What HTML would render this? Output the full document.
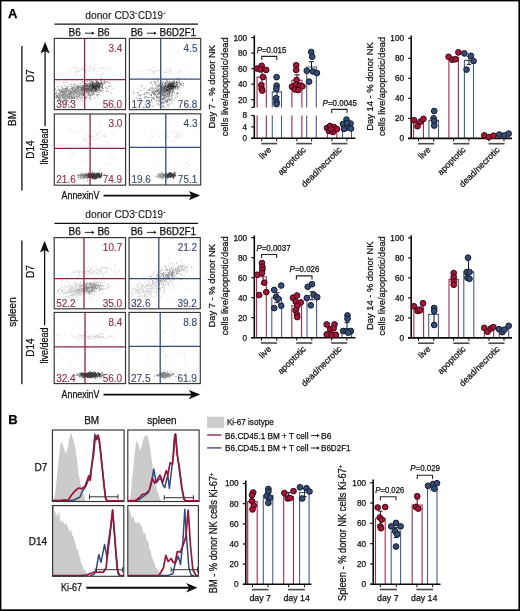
<!DOCTYPE html>
<html><head><meta charset="utf-8"><style>
html,body{margin:0;padding:0;background:#fff;}
svg{display:block;font-family:'Liberation Sans',sans-serif;will-change:transform;}
text{font-family:'Liberation Sans',sans-serif;}
</style></head><body>
<svg width="520" height="611" viewBox="0 0 520 611">
<rect x="0" y="0" width="520" height="611" fill="#fff"/>
<rect x="0" y="0" width="1.4" height="611" fill="#000" stroke="none" stroke-width="1"/>
<rect x="0" y="0" width="520" height="1.4" fill="#000" stroke="none" stroke-width="1"/>
<rect x="518.4" y="0" width="1.6" height="611" fill="#000" stroke="none" stroke-width="1"/>
<rect x="0" y="609.3" width="520" height="1.7" fill="#000" stroke="none" stroke-width="1"/>
<text x="8" y="18.1" font-size="13" text-anchor="start" fill="#000" stroke="#000" stroke-width="0.25" font-weight="bold">A</text>
<text x="8.3" y="423.6" font-size="13" text-anchor="start" fill="#000" stroke="#000" stroke-width="0.25" font-weight="bold">B</text>
<text x="85.2" y="18.5" font-size="10.2" text-anchor="start" fill="#111" stroke="#111" stroke-width="0.1" textLength="49.8" lengthAdjust="spacingAndGlyphs">donor CD3</text>
<text x="138" y="18.5" font-size="10.2" text-anchor="start" fill="#111" stroke="#111" stroke-width="0.1" textLength="25" lengthAdjust="spacingAndGlyphs">CD19</text>
<line x1="135.3" y1="13.3" x2="136.9" y2="13.3" stroke="#111" stroke-width="0.9"/>
<line x1="163.8" y1="13.3" x2="165.4" y2="13.3" stroke="#111" stroke-width="0.9"/>
<line x1="54.5" y1="24.2" x2="198" y2="24.2" stroke="#111" stroke-width="1.3"/>
<text x="68.6" y="36.0" font-size="10" text-anchor="start" fill="#111" stroke="#111" stroke-width="0.25">B6</text>
<line x1="84.8" y1="33.2" x2="93.5" y2="33.2" stroke="#111" stroke-width="0.9"/>
<path d="M94.4 33.2 l-2.6 -1.6 v3.2z" fill="#111" stroke="none" stroke-width="1" />
<text x="97.4" y="36.0" font-size="10" text-anchor="start" fill="#111" stroke="#111" stroke-width="0.25">B6</text>
<text x="130.7" y="36.0" font-size="10" text-anchor="start" fill="#111" stroke="#111" stroke-width="0.25">B6</text>
<line x1="146.9" y1="33.2" x2="155.6" y2="33.2" stroke="#111" stroke-width="0.9"/>
<path d="M156.5 33.2 l-2.6 -1.6 v3.2z" fill="#111" stroke="none" stroke-width="1" />
<text x="159.5" y="36.0" font-size="10" text-anchor="start" fill="#111" stroke="#111" stroke-width="0.25">B6D2F1</text>
<text x="85.2" y="217.7" font-size="10.2" text-anchor="start" fill="#111" stroke="#111" stroke-width="0.1" textLength="49.8" lengthAdjust="spacingAndGlyphs">donor CD3</text>
<text x="138" y="217.7" font-size="10.2" text-anchor="start" fill="#111" stroke="#111" stroke-width="0.1" textLength="25" lengthAdjust="spacingAndGlyphs">CD19</text>
<line x1="135.3" y1="212.5" x2="136.9" y2="212.5" stroke="#111" stroke-width="0.9"/>
<line x1="163.8" y1="212.5" x2="165.4" y2="212.5" stroke="#111" stroke-width="0.9"/>
<line x1="54.5" y1="223.39999999999998" x2="198" y2="223.39999999999998" stroke="#111" stroke-width="1.3"/>
<text x="68.6" y="235.2" font-size="10" text-anchor="start" fill="#111" stroke="#111" stroke-width="0.25">B6</text>
<line x1="84.8" y1="232.39999999999998" x2="93.5" y2="232.39999999999998" stroke="#111" stroke-width="0.9"/>
<path d="M94.4 232.39999999999998 l-2.6 -1.6 v3.2z" fill="#111" stroke="none" stroke-width="1" />
<text x="97.4" y="235.2" font-size="10" text-anchor="start" fill="#111" stroke="#111" stroke-width="0.25">B6</text>
<text x="130.7" y="235.2" font-size="10" text-anchor="start" fill="#111" stroke="#111" stroke-width="0.25">B6</text>
<line x1="146.9" y1="232.39999999999998" x2="155.6" y2="232.39999999999998" stroke="#111" stroke-width="0.9"/>
<path d="M156.5 232.39999999999998 l-2.6 -1.6 v3.2z" fill="#111" stroke="none" stroke-width="1" />
<text x="159.5" y="235.2" font-size="10" text-anchor="start" fill="#111" stroke="#111" stroke-width="0.25">B6D2F1</text>
<text x="16.2" y="118.4" font-size="10" text-anchor="middle" fill="#111" stroke="#111" stroke-width="0.25" transform="rotate(-90 16.2 118.4)">BM</text>
<line x1="21.9" y1="45.9" x2="21.9" y2="190.5" stroke="#111" stroke-width="1.3"/>
<text x="34.1" y="75.7" font-size="10" text-anchor="middle" fill="#111" stroke="#111" stroke-width="0.25" transform="rotate(-90 34.1 75.7)">D7</text>
<text x="34.1" y="149.6" font-size="10" text-anchor="middle" fill="#111" stroke="#111" stroke-width="0.25" transform="rotate(-90 34.1 149.6)">D14</text>
<line x1="45.1" y1="51" x2="45.1" y2="126.2" stroke="#111" stroke-width="1.3"/>
<path d="M45.1 41.8 L40.5 53.6 L45.1 51 L49.7 53.6 Z" fill="#111" stroke="none" stroke-width="1" />
<text x="48.5" y="146.6" font-size="10" text-anchor="middle" fill="#111" stroke="#111" stroke-width="0.25" transform="rotate(-90 48.5 146.6)" textLength="36" lengthAdjust="spacingAndGlyphs">live/dead</text>
<text x="61.6" y="198.9" font-size="10" text-anchor="start" fill="#111" stroke="#111" stroke-width="0.25" textLength="37.8" lengthAdjust="spacingAndGlyphs">AnnexinV</text>
<line x1="103.5" y1="195.6" x2="193" y2="195.6" stroke="#0a0a0a" stroke-width="1.6"/>
<path d="M200.2 195.6 L188.8 191.0 L191.6 195.6 L188.8 200.2 Z" fill="#0a0a0a" stroke="none" stroke-width="1" />
<text x="16.2" y="312" font-size="10" text-anchor="middle" fill="#111" stroke="#111" stroke-width="0.25" transform="rotate(-90 16.2 312)">spleen</text>
<line x1="21.9" y1="240.6" x2="21.9" y2="384.3" stroke="#111" stroke-width="1.3"/>
<text x="34.1" y="271.6" font-size="10" text-anchor="middle" fill="#111" stroke="#111" stroke-width="0.25" transform="rotate(-90 34.1 271.6)">D7</text>
<text x="34.1" y="347.6" font-size="10" text-anchor="middle" fill="#111" stroke="#111" stroke-width="0.25" transform="rotate(-90 34.1 347.6)">D14</text>
<line x1="44.6" y1="250" x2="44.6" y2="325.2" stroke="#111" stroke-width="1.3"/>
<path d="M44.6 240.8 L40.0 252.6 L44.6 250 L49.2 252.6 Z" fill="#111" stroke="none" stroke-width="1" />
<text x="48.0" y="345.6" font-size="10" text-anchor="middle" fill="#111" stroke="#111" stroke-width="0.25" transform="rotate(-90 48.0 345.6)" textLength="36" lengthAdjust="spacingAndGlyphs">live/dead</text>
<text x="61.6" y="397.9" font-size="10" text-anchor="start" fill="#111" stroke="#111" stroke-width="0.25" textLength="37.8" lengthAdjust="spacingAndGlyphs">AnnexinV</text>
<line x1="103.5" y1="394.6" x2="193" y2="394.6" stroke="#0a0a0a" stroke-width="1.6"/>
<path d="M200.2 394.6 L188.8 390.0 L191.6 394.6 L188.8 399.2 Z" fill="#0a0a0a" stroke="none" stroke-width="1" />
<path d="M92.9 86.1h.9v.9h-.9zM95.1 87.6h.9v.9h-.9zM91.4 86.8h.9v.9h-.9zM87.1 85.2h.9v.9h-.9zM90.3 86.9h.9v.9h-.9zM87.3 88.2h.9v.9h-.9zM94.0 88.8h.9v.9h-.9zM100.2 82.1h.9v.9h-.9zM90.1 87.2h.9v.9h-.9zM88.2 83.1h.9v.9h-.9zM96.3 87.4h.9v.9h-.9zM94.3 83.2h.9v.9h-.9zM92.4 81.8h.9v.9h-.9zM87.6 87.8h.9v.9h-.9zM93.6 89.3h.9v.9h-.9zM96.0 81.6h.9v.9h-.9zM84.5 85.9h.9v.9h-.9zM89.8 85.3h.9v.9h-.9zM81.2 86.6h.9v.9h-.9zM85.8 89.5h.9v.9h-.9zM81.8 87.3h.9v.9h-.9zM91.2 85.1h.9v.9h-.9zM86.0 89.9h.9v.9h-.9zM94.1 84.2h.9v.9h-.9zM94.2 87.3h.9v.9h-.9zM91.3 84.4h.9v.9h-.9zM77.6 87.4h.9v.9h-.9zM88.6 82.7h.9v.9h-.9zM94.0 91.2h.9v.9h-.9zM93.4 85.5h.9v.9h-.9zM84.3 89.5h.9v.9h-.9zM90.2 87.2h.9v.9h-.9zM87.4 88.4h.9v.9h-.9zM88.3 87.9h.9v.9h-.9zM100.4 89.6h.9v.9h-.9zM87.6 85.1h.9v.9h-.9zM91.8 82.6h.9v.9h-.9zM97.4 82.6h.9v.9h-.9zM88.7 84.1h.9v.9h-.9zM92.9 88.5h.9v.9h-.9zM94.2 88.4h.9v.9h-.9zM92.7 84.0h.9v.9h-.9zM85.0 84.9h.9v.9h-.9zM93.2 85.5h.9v.9h-.9zM101.8 87.9h.9v.9h-.9zM82.1 81.8h.9v.9h-.9zM98.3 86.5h.9v.9h-.9zM93.0 83.6h.9v.9h-.9zM90.0 90.1h.9v.9h-.9zM103.9 80.7h.9v.9h-.9zM97.2 84.6h.9v.9h-.9zM85.0 84.6h.9v.9h-.9zM92.8 83.9h.9v.9h-.9zM97.3 89.1h.9v.9h-.9zM92.5 88.9h.9v.9h-.9zM96.7 84.4h.9v.9h-.9zM92.0 84.4h.9v.9h-.9zM95.6 80.7h.9v.9h-.9zM101.1 83.3h.9v.9h-.9zM89.1 87.5h.9v.9h-.9zM94.1 86.0h.9v.9h-.9zM90.3 87.0h.9v.9h-.9zM93.0 83.5h.9v.9h-.9zM86.1 88.2h.9v.9h-.9zM89.6 87.3h.9v.9h-.9zM92.7 90.0h.9v.9h-.9zM99.5 89.8h.9v.9h-.9zM99.5 84.4h.9v.9h-.9zM84.8 86.6h.9v.9h-.9zM88.4 87.6h.9v.9h-.9zM96.3 84.0h.9v.9h-.9zM81.0 87.7h.9v.9h-.9zM90.3 87.1h.9v.9h-.9zM91.7 84.0h.9v.9h-.9zM100.7 86.1h.9v.9h-.9zM96.9 85.2h.9v.9h-.9zM91.3 87.6h.9v.9h-.9zM90.7 86.6h.9v.9h-.9zM91.1 85.1h.9v.9h-.9zM101.2 81.8h.9v.9h-.9zM90.4 86.6h.9v.9h-.9zM90.9 85.6h.9v.9h-.9zM95.2 86.5h.9v.9h-.9zM92.3 86.7h.9v.9h-.9zM90.9 83.4h.9v.9h-.9zM86.6 88.4h.9v.9h-.9zM92.0 83.1h.9v.9h-.9zM90.0 85.6h.9v.9h-.9zM99.6 83.9h.9v.9h-.9zM95.4 80.3h.9v.9h-.9zM92.9 86.8h.9v.9h-.9zM97.0 85.8h.9v.9h-.9zM90.9 86.6h.9v.9h-.9zM98.8 83.8h.9v.9h-.9zM92.7 85.6h.9v.9h-.9zM95.7 83.1h.9v.9h-.9zM85.3 87.8h.9v.9h-.9zM94.6 84.6h.9v.9h-.9zM83.3 89.4h.9v.9h-.9zM80.4 86.6h.9v.9h-.9zM91.4 87.6h.9v.9h-.9zM87.9 88.3h.9v.9h-.9zM93.9 85.9h.9v.9h-.9zM105.7 81.9h.9v.9h-.9zM88.6 89.2h.9v.9h-.9zM88.3 83.3h.9v.9h-.9zM94.5 87.3h.9v.9h-.9zM96.0 86.3h.9v.9h-.9zM92.2 87.5h.9v.9h-.9zM92.1 87.8h.9v.9h-.9zM96.6 83.8h.9v.9h-.9zM95.8 85.0h.9v.9h-.9zM87.4 89.7h.9v.9h-.9zM92.8 87.7h.9v.9h-.9zM93.3 87.0h.9v.9h-.9zM85.9 84.3h.9v.9h-.9zM94.9 87.4h.9v.9h-.9zM88.8 90.8h.9v.9h-.9zM99.3 87.5h.9v.9h-.9zM94.3 86.8h.9v.9h-.9zM92.5 82.4h.9v.9h-.9zM90.2 89.8h.9v.9h-.9zM92.2 86.3h.9v.9h-.9zM79.7 83.2h.9v.9h-.9zM86.7 89.2h.9v.9h-.9zM94.1 82.2h.9v.9h-.9zM79.8 86.5h.9v.9h-.9zM97.5 83.6h.9v.9h-.9zM83.7 92.4h.9v.9h-.9zM97.1 84.4h.9v.9h-.9zM88.3 88.5h.9v.9h-.9zM98.7 89.7h.9v.9h-.9zM94.8 90.3h.9v.9h-.9zM84.0 88.6h.9v.9h-.9zM100.1 84.0h.9v.9h-.9zM100.5 81.1h.9v.9h-.9zM92.2 84.9h.9v.9h-.9zM91.7 88.0h.9v.9h-.9zM92.3 87.7h.9v.9h-.9zM87.4 88.3h.9v.9h-.9zM100.0 87.3h.9v.9h-.9zM89.3 85.4h.9v.9h-.9zM92.7 86.4h.9v.9h-.9zM88.9 89.6h.9v.9h-.9zM89.8 88.9h.9v.9h-.9zM86.3 91.2h.9v.9h-.9zM100.6 85.5h.9v.9h-.9zM91.9 86.0h.9v.9h-.9zM98.8 85.9h.9v.9h-.9zM92.4 84.0h.9v.9h-.9zM87.9 83.5h.9v.9h-.9zM91.5 88.5h.9v.9h-.9zM89.7 87.2h.9v.9h-.9zM93.3 87.3h.9v.9h-.9zM89.7 82.8h.9v.9h-.9zM91.0 86.0h.9v.9h-.9zM84.6 87.1h.9v.9h-.9zM87.7 85.6h.9v.9h-.9zM101.1 78.3h.9v.9h-.9zM88.9 86.7h.9v.9h-.9zM87.5 90.4h.9v.9h-.9zM95.2 86.9h.9v.9h-.9zM100.8 82.8h.9v.9h-.9zM84.6 88.7h.9v.9h-.9zM92.3 88.7h.9v.9h-.9zM87.5 80.5h.9v.9h-.9zM82.7 88.9h.9v.9h-.9zM97.6 86.7h.9v.9h-.9zM93.3 88.2h.9v.9h-.9zM94.6 90.7h.9v.9h-.9zM89.4 90.5h.9v.9h-.9zM95.8 86.6h.9v.9h-.9zM90.1 88.1h.9v.9h-.9zM92.7 88.7h.9v.9h-.9zM86.2 86.9h.9v.9h-.9zM85.9 88.3h.9v.9h-.9zM101.3 86.7h.9v.9h-.9zM91.4 92.2h.9v.9h-.9zM94.6 85.6h.9v.9h-.9zM92.8 86.4h.9v.9h-.9zM90.6 87.7h.9v.9h-.9zM91.0 90.7h.9v.9h-.9zM96.6 85.4h.9v.9h-.9zM92.2 90.7h.9v.9h-.9zM91.5 84.3h.9v.9h-.9zM93.0 86.0h.9v.9h-.9zM99.7 84.2h.9v.9h-.9zM97.5 87.4h.9v.9h-.9zM95.9 88.5h.9v.9h-.9zM88.7 83.6h.9v.9h-.9zM84.4 86.3h.9v.9h-.9zM98.7 85.9h.9v.9h-.9zM98.2 83.3h.9v.9h-.9zM91.2 82.9h.9v.9h-.9zM96.8 88.3h.9v.9h-.9zM97.9 86.5h.9v.9h-.9zM98.1 86.4h.9v.9h-.9zM98.0 83.9h.9v.9h-.9zM91.1 89.8h.9v.9h-.9zM101.6 83.5h.9v.9h-.9zM86.5 91.2h.9v.9h-.9zM97.4 82.9h.9v.9h-.9zM95.3 83.6h.9v.9h-.9zM98.2 85.7h.9v.9h-.9zM103.4 81.8h.9v.9h-.9zM102.1 85.9h.9v.9h-.9zM86.5 88.9h.9v.9h-.9zM82.6 86.8h.9v.9h-.9zM97.8 85.4h.9v.9h-.9zM86.9 87.2h.9v.9h-.9zM93.5 88.8h.9v.9h-.9zM97.4 83.6h.9v.9h-.9zM83.2 87.9h.9v.9h-.9zM81.6 92.8h.9v.9h-.9zM96.0 91.7h.9v.9h-.9zM94.6 91.5h.9v.9h-.9zM91.6 87.0h.9v.9h-.9zM93.4 87.0h.9v.9h-.9zM89.0 91.7h.9v.9h-.9zM84.1 88.5h.9v.9h-.9zM91.4 84.3h.9v.9h-.9zM87.4 88.3h.9v.9h-.9zM83.8 90.2h.9v.9h-.9zM95.4 83.6h.9v.9h-.9zM91.5 82.5h.9v.9h-.9zM94.4 82.3h.9v.9h-.9zM87.7 89.7h.9v.9h-.9zM88.7 85.6h.9v.9h-.9zM87.1 87.7h.9v.9h-.9zM88.0 88.4h.9v.9h-.9zM94.5 87.8h.9v.9h-.9zM88.2 86.9h.9v.9h-.9zM95.4 87.2h.9v.9h-.9zM94.4 83.7h.9v.9h-.9zM104.5 82.4h.9v.9h-.9zM84.2 86.1h.9v.9h-.9zM98.9 88.0h.9v.9h-.9zM92.5 86.6h.9v.9h-.9zM92.4 84.7h.9v.9h-.9zM84.4 87.9h.9v.9h-.9zM90.2 86.7h.9v.9h-.9zM97.8 87.1h.9v.9h-.9zM91.4 82.6h.9v.9h-.9zM92.8 83.8h.9v.9h-.9zM91.1 86.0h.9v.9h-.9zM101.4 91.1h.9v.9h-.9zM93.5 88.9h.9v.9h-.9zM80.2 89.6h.9v.9h-.9zM89.5 89.4h.9v.9h-.9zM83.0 94.7h.9v.9h-.9zM74.0 91.0h.9v.9h-.9zM89.7 86.4h.9v.9h-.9zM101.5 87.5h.9v.9h-.9zM93.6 87.7h.9v.9h-.9zM86.7 90.0h.9v.9h-.9zM87.2 86.7h.9v.9h-.9zM100.8 89.6h.9v.9h-.9zM95.1 90.5h.9v.9h-.9zM93.7 87.8h.9v.9h-.9zM93.2 88.3h.9v.9h-.9zM91.9 81.3h.9v.9h-.9zM98.1 86.9h.9v.9h-.9zM96.1 85.2h.9v.9h-.9zM94.5 87.3h.9v.9h-.9zM87.4 89.8h.9v.9h-.9zM95.7 84.8h.9v.9h-.9zM87.9 83.3h.9v.9h-.9zM99.6 85.7h.9v.9h-.9zM85.1 86.6h.9v.9h-.9zM92.0 85.9h.9v.9h-.9zM92.6 85.0h.9v.9h-.9zM85.1 87.7h.9v.9h-.9zM101.4 78.0h.9v.9h-.9zM102.3 87.3h.9v.9h-.9zM90.5 87.9h.9v.9h-.9zM98.2 88.1h.9v.9h-.9zM96.5 90.9h.9v.9h-.9zM77.9 90.6h.9v.9h-.9zM93.2 81.6h.9v.9h-.9zM92.0 84.4h.9v.9h-.9zM92.7 83.3h.9v.9h-.9zM86.4 86.9h.9v.9h-.9zM91.5 87.1h.9v.9h-.9zM90.6 81.7h.9v.9h-.9zM100.1 85.5h.9v.9h-.9zM93.9 82.2h.9v.9h-.9zM93.2 87.3h.9v.9h-.9zM101.8 83.9h.9v.9h-.9zM89.6 86.6h.9v.9h-.9zM90.7 86.9h.9v.9h-.9zM82.1 88.0h.9v.9h-.9zM101.7 82.5h.9v.9h-.9zM97.5 80.8h.9v.9h-.9zM98.3 85.0h.9v.9h-.9zM98.1 90.1h.9v.9h-.9zM95.0 91.3h.9v.9h-.9zM95.1 89.5h.9v.9h-.9zM92.0 88.7h.9v.9h-.9zM91.4 85.1h.9v.9h-.9zM94.3 90.0h.9v.9h-.9zM101.7 84.0h.9v.9h-.9zM96.2 85.5h.9v.9h-.9zM92.5 85.9h.9v.9h-.9zM89.7 87.6h.9v.9h-.9zM89.0 86.4h.9v.9h-.9zM102.2 83.8h.9v.9h-.9zM95.2 83.0h.9v.9h-.9zM93.1 85.5h.9v.9h-.9zM92.5 92.8h.9v.9h-.9zM86.5 88.0h.9v.9h-.9zM92.5 86.0h.9v.9h-.9zM98.4 86.5h.9v.9h-.9zM91.2 88.9h.9v.9h-.9zM90.9 84.1h.9v.9h-.9zM91.6 86.3h.9v.9h-.9zM94.3 88.6h.9v.9h-.9zM83.9 89.7h.9v.9h-.9zM91.7 87.2h.9v.9h-.9zM89.1 91.7h.9v.9h-.9zM97.7 83.4h.9v.9h-.9zM88.6 87.9h.9v.9h-.9zM96.0 84.3h.9v.9h-.9zM102.8 87.9h.9v.9h-.9zM89.9 82.1h.9v.9h-.9zM89.1 85.8h.9v.9h-.9zM93.8 84.9h.9v.9h-.9zM93.4 88.2h.9v.9h-.9zM87.6 89.6h.9v.9h-.9zM96.6 89.3h.9v.9h-.9zM103.6 79.4h.9v.9h-.9zM92.0 88.8h.9v.9h-.9zM91.6 86.1h.9v.9h-.9zM86.5 86.5h.9v.9h-.9zM95.2 87.4h.9v.9h-.9zM85.2 86.1h.9v.9h-.9zM85.2 83.0h.9v.9h-.9zM100.2 83.6h.9v.9h-.9zM86.7 84.1h.9v.9h-.9zM98.8 83.2h.9v.9h-.9zM102.1 85.1h.9v.9h-.9zM94.7 86.9h.9v.9h-.9zM97.3 89.6h.9v.9h-.9zM104.2 83.0h.9v.9h-.9zM90.8 83.0h.9v.9h-.9zM89.1 85.5h.9v.9h-.9zM84.5 86.3h.9v.9h-.9zM92.4 83.4h.9v.9h-.9zM101.9 85.3h.9v.9h-.9zM98.1 83.4h.9v.9h-.9zM86.2 83.0h.9v.9h-.9zM88.5 89.6h.9v.9h-.9zM90.0 87.0h.9v.9h-.9zM94.9 86.9h.9v.9h-.9zM91.9 87.1h.9v.9h-.9zM94.7 87.8h.9v.9h-.9zM94.7 86.1h.9v.9h-.9zM92.1 90.1h.9v.9h-.9zM93.1 87.6h.9v.9h-.9zM94.5 87.2h.9v.9h-.9zM92.8 87.7h.9v.9h-.9zM94.9 82.1h.9v.9h-.9zM103.7 83.2h.9v.9h-.9zM96.3 84.9h.9v.9h-.9zM93.5 86.9h.9v.9h-.9zM82.3 85.7h.9v.9h-.9zM96.3 90.0h.9v.9h-.9zM81.8 89.8h.9v.9h-.9zM84.0 85.6h.9v.9h-.9zM96.8 80.9h.9v.9h-.9zM96.9 84.7h.9v.9h-.9zM92.1 86.5h.9v.9h-.9zM82.6 87.4h.9v.9h-.9zM90.9 87.3h.9v.9h-.9zM88.6 85.9h.9v.9h-.9zM97.1 86.9h.9v.9h-.9zM105.6 81.2h.9v.9h-.9zM94.2 86.1h.9v.9h-.9zM89.1 90.2h.9v.9h-.9zM87.9 94.8h.9v.9h-.9zM92.0 84.1h.9v.9h-.9zM91.7 85.6h.9v.9h-.9zM85.8 86.2h.9v.9h-.9zM94.2 88.3h.9v.9h-.9zM85.6 85.4h.9v.9h-.9zM99.1 83.6h.9v.9h-.9zM99.1 84.8h.9v.9h-.9zM98.6 82.4h.9v.9h-.9zM89.6 84.8h.9v.9h-.9zM95.7 84.5h.9v.9h-.9zM90.8 81.4h.9v.9h-.9zM89.8 83.5h.9v.9h-.9zM90.8 86.0h.9v.9h-.9zM85.6 88.9h.9v.9h-.9zM84.5 88.3h.9v.9h-.9zM96.4 80.8h.9v.9h-.9zM91.6 85.6h.9v.9h-.9zM94.8 88.2h.9v.9h-.9zM99.2 86.3h.9v.9h-.9zM82.9 89.0h.9v.9h-.9zM87.9 85.5h.9v.9h-.9zM94.4 87.8h.9v.9h-.9zM94.9 84.4h.9v.9h-.9zM90.0 84.1h.9v.9h-.9zM98.4 82.9h.9v.9h-.9zM95.2 89.8h.9v.9h-.9zM86.1 88.9h.9v.9h-.9zM88.4 90.9h.9v.9h-.9zM97.3 84.0h.9v.9h-.9zM96.3 88.1h.9v.9h-.9zM81.6 87.9h.9v.9h-.9zM100.7 84.0h.9v.9h-.9zM98.1 91.8h.9v.9h-.9zM101.3 86.3h.9v.9h-.9zM90.4 85.8h.9v.9h-.9zM91.2 86.7h.9v.9h-.9zM86.7 89.1h.9v.9h-.9zM108.5 85.6h.9v.9h-.9zM91.7 85.5h.9v.9h-.9zM101.0 79.7h.9v.9h-.9zM89.1 86.8h.9v.9h-.9zM94.0 86.3h.9v.9h-.9zM83.4 89.4h.9v.9h-.9zM91.7 90.4h.9v.9h-.9zM98.9 85.8h.9v.9h-.9zM86.3 90.5h.9v.9h-.9zM98.5 82.1h.9v.9h-.9zM95.5 88.2h.9v.9h-.9zM88.4 93.4h.9v.9h-.9zM90.6 89.2h.9v.9h-.9zM90.5 87.8h.9v.9h-.9zM92.8 87.0h.9v.9h-.9zM91.1 91.8h.9v.9h-.9zM87.6 85.5h.9v.9h-.9zM91.2 86.7h.9v.9h-.9zM87.4 89.3h.9v.9h-.9zM86.0 90.4h.9v.9h-.9zM92.4 85.5h.9v.9h-.9zM98.3 85.9h.9v.9h-.9zM83.9 88.2h.9v.9h-.9zM93.1 86.8h.9v.9h-.9zM89.1 87.2h.9v.9h-.9zM86.6 85.2h.9v.9h-.9zM97.9 85.1h.9v.9h-.9zM90.6 89.5h.9v.9h-.9zM101.0 81.7h.9v.9h-.9zM88.3 87.1h.9v.9h-.9zM95.7 87.6h.9v.9h-.9zM91.0 84.2h.9v.9h-.9zM88.8 88.1h.9v.9h-.9zM95.7 82.9h.9v.9h-.9z" fill="rgba(40,40,40,0.55)"/>
<path d="M92.8 91.5h.9v.9h-.9zM105.0 86.2h.9v.9h-.9zM100.1 76.7h.9v.9h-.9zM77.6 91.4h.9v.9h-.9zM87.3 85.3h.9v.9h-.9zM81.0 89.0h.9v.9h-.9zM82.2 97.0h.9v.9h-.9zM96.0 83.5h.9v.9h-.9zM65.0 89.2h.9v.9h-.9zM92.5 94.8h.9v.9h-.9zM79.6 91.6h.9v.9h-.9zM96.4 94.6h.9v.9h-.9zM82.3 92.0h.9v.9h-.9zM72.1 88.7h.9v.9h-.9zM83.0 90.2h.9v.9h-.9zM88.9 94.6h.9v.9h-.9zM81.1 94.7h.9v.9h-.9zM85.3 90.1h.9v.9h-.9zM74.4 92.2h.9v.9h-.9zM56.8 94.6h.9v.9h-.9zM89.3 86.9h.9v.9h-.9zM89.0 97.5h.9v.9h-.9zM81.6 90.7h.9v.9h-.9zM79.9 86.3h.9v.9h-.9zM90.9 87.1h.9v.9h-.9zM75.6 94.8h.9v.9h-.9zM72.8 94.9h.9v.9h-.9zM77.9 90.8h.9v.9h-.9zM92.4 86.0h.9v.9h-.9zM65.0 93.7h.9v.9h-.9zM91.7 81.9h.9v.9h-.9zM72.1 86.9h.9v.9h-.9zM68.6 96.3h.9v.9h-.9zM93.3 86.7h.9v.9h-.9zM79.2 92.7h.9v.9h-.9zM66.8 98.4h.9v.9h-.9zM76.6 94.3h.9v.9h-.9zM90.1 89.3h.9v.9h-.9zM94.4 97.3h.9v.9h-.9zM75.9 94.5h.9v.9h-.9zM84.1 88.8h.9v.9h-.9zM88.3 92.6h.9v.9h-.9zM73.3 93.9h.9v.9h-.9zM83.2 86.9h.9v.9h-.9zM79.7 91.4h.9v.9h-.9zM74.1 91.4h.9v.9h-.9zM73.3 84.0h.9v.9h-.9zM80.6 90.2h.9v.9h-.9zM80.1 89.8h.9v.9h-.9zM73.6 90.3h.9v.9h-.9zM74.2 85.2h.9v.9h-.9zM91.8 87.4h.9v.9h-.9zM82.3 90.4h.9v.9h-.9zM89.7 89.7h.9v.9h-.9zM92.2 84.1h.9v.9h-.9zM86.8 92.4h.9v.9h-.9zM103.7 81.7h.9v.9h-.9zM70.9 91.7h.9v.9h-.9zM89.7 94.7h.9v.9h-.9zM76.1 88.8h.9v.9h-.9zM99.7 85.4h.9v.9h-.9zM99.2 92.1h.9v.9h-.9zM58.6 93.2h.9v.9h-.9zM69.3 91.6h.9v.9h-.9zM87.4 90.6h.9v.9h-.9zM89.3 93.7h.9v.9h-.9zM86.4 80.7h.9v.9h-.9zM78.6 87.8h.9v.9h-.9zM84.2 86.1h.9v.9h-.9zM86.3 85.4h.9v.9h-.9zM78.5 87.7h.9v.9h-.9zM90.5 85.6h.9v.9h-.9zM55.7 96.5h.9v.9h-.9zM86.2 86.2h.9v.9h-.9zM68.9 93.5h.9v.9h-.9zM90.7 90.8h.9v.9h-.9zM77.0 88.5h.9v.9h-.9zM70.5 93.2h.9v.9h-.9zM85.2 96.9h.9v.9h-.9zM70.4 94.0h.9v.9h-.9zM69.7 90.2h.9v.9h-.9zM63.0 93.7h.9v.9h-.9zM79.1 87.4h.9v.9h-.9zM85.6 91.1h.9v.9h-.9zM91.7 92.5h.9v.9h-.9zM77.9 88.0h.9v.9h-.9zM91.2 88.2h.9v.9h-.9zM81.0 95.4h.9v.9h-.9zM78.6 89.2h.9v.9h-.9zM86.3 90.7h.9v.9h-.9zM90.7 84.9h.9v.9h-.9zM75.7 88.4h.9v.9h-.9zM77.0 89.4h.9v.9h-.9zM79.8 99.9h.9v.9h-.9zM80.6 89.2h.9v.9h-.9zM69.9 90.6h.9v.9h-.9zM90.7 86.8h.9v.9h-.9zM75.5 91.1h.9v.9h-.9zM85.5 92.7h.9v.9h-.9zM71.2 93.3h.9v.9h-.9zM85.3 98.4h.9v.9h-.9zM84.4 91.1h.9v.9h-.9zM76.4 97.5h.9v.9h-.9zM102.1 88.2h.9v.9h-.9zM84.4 92.7h.9v.9h-.9zM98.2 81.9h.9v.9h-.9zM90.3 88.7h.9v.9h-.9zM72.8 92.0h.9v.9h-.9zM75.7 90.8h.9v.9h-.9zM83.2 81.7h.9v.9h-.9zM81.3 94.4h.9v.9h-.9zM80.3 89.4h.9v.9h-.9zM76.6 89.8h.9v.9h-.9zM60.2 93.4h.9v.9h-.9zM77.4 90.5h.9v.9h-.9zM56.3 96.8h.9v.9h-.9zM83.1 85.3h.9v.9h-.9zM71.5 88.7h.9v.9h-.9zM72.5 93.5h.9v.9h-.9zM77.7 92.0h.9v.9h-.9zM82.7 89.0h.9v.9h-.9zM64.1 91.5h.9v.9h-.9zM60.5 91.1h.9v.9h-.9zM68.4 92.8h.9v.9h-.9zM58.7 99.6h.9v.9h-.9zM68.8 88.7h.9v.9h-.9zM98.3 94.0h.9v.9h-.9zM69.1 96.3h.9v.9h-.9zM86.7 88.0h.9v.9h-.9zM65.7 96.7h.9v.9h-.9zM82.2 84.7h.9v.9h-.9zM75.3 84.8h.9v.9h-.9zM78.5 86.0h.9v.9h-.9zM85.9 88.3h.9v.9h-.9zM98.8 86.4h.9v.9h-.9zM81.8 88.6h.9v.9h-.9zM81.4 91.2h.9v.9h-.9zM68.0 84.4h.9v.9h-.9zM86.7 91.8h.9v.9h-.9zM76.3 85.9h.9v.9h-.9zM88.6 86.8h.9v.9h-.9zM79.2 89.5h.9v.9h-.9zM98.1 83.1h.9v.9h-.9zM57.6 89.4h.9v.9h-.9zM76.1 87.6h.9v.9h-.9zM89.5 89.3h.9v.9h-.9zM76.6 94.0h.9v.9h-.9zM71.8 94.7h.9v.9h-.9zM76.4 87.6h.9v.9h-.9zM64.5 90.5h.9v.9h-.9zM80.6 87.1h.9v.9h-.9zM106.7 88.1h.9v.9h-.9zM91.0 80.8h.9v.9h-.9zM68.8 98.0h.9v.9h-.9zM70.2 90.8h.9v.9h-.9zM75.1 88.7h.9v.9h-.9zM91.1 90.4h.9v.9h-.9zM71.8 96.6h.9v.9h-.9zM72.8 93.7h.9v.9h-.9zM90.3 93.5h.9v.9h-.9zM89.5 89.9h.9v.9h-.9zM76.8 96.6h.9v.9h-.9zM68.8 98.0h.9v.9h-.9zM63.1 93.6h.9v.9h-.9zM73.4 98.0h.9v.9h-.9zM56.0 95.9h.9v.9h-.9zM88.2 89.9h.9v.9h-.9zM72.5 88.6h.9v.9h-.9zM85.0 88.9h.9v.9h-.9zM100.8 90.5h.9v.9h-.9zM91.8 83.6h.9v.9h-.9zM68.0 95.8h.9v.9h-.9zM89.7 90.7h.9v.9h-.9zM92.7 89.9h.9v.9h-.9zM70.4 83.7h.9v.9h-.9zM69.6 92.4h.9v.9h-.9zM79.3 93.8h.9v.9h-.9zM62.1 91.1h.9v.9h-.9zM96.0 88.5h.9v.9h-.9zM68.5 95.8h.9v.9h-.9zM76.6 88.9h.9v.9h-.9zM78.1 94.9h.9v.9h-.9zM80.5 83.4h.9v.9h-.9zM83.4 93.2h.9v.9h-.9zM77.5 90.5h.9v.9h-.9zM92.9 92.0h.9v.9h-.9zM56.2 91.4h.9v.9h-.9zM79.6 88.6h.9v.9h-.9zM73.8 101.2h.9v.9h-.9zM80.9 87.5h.9v.9h-.9zM81.9 87.8h.9v.9h-.9zM69.9 91.7h.9v.9h-.9zM72.3 88.2h.9v.9h-.9zM89.4 94.2h.9v.9h-.9zM85.0 97.1h.9v.9h-.9zM72.1 89.5h.9v.9h-.9zM100.9 80.3h.9v.9h-.9zM105.8 91.2h.9v.9h-.9zM64.9 98.2h.9v.9h-.9zM83.8 93.7h.9v.9h-.9zM108.0 90.8h.9v.9h-.9zM87.9 86.1h.9v.9h-.9zM82.3 89.9h.9v.9h-.9zM76.8 85.9h.9v.9h-.9zM73.2 86.4h.9v.9h-.9zM78.4 95.3h.9v.9h-.9zM73.6 89.4h.9v.9h-.9zM89.7 98.6h.9v.9h-.9zM75.7 92.1h.9v.9h-.9zM74.8 89.3h.9v.9h-.9zM67.5 96.4h.9v.9h-.9zM80.7 98.2h.9v.9h-.9zM70.7 94.6h.9v.9h-.9zM77.2 86.6h.9v.9h-.9zM91.5 90.5h.9v.9h-.9zM84.9 95.7h.9v.9h-.9zM85.1 88.1h.9v.9h-.9zM83.3 87.3h.9v.9h-.9zM81.3 94.9h.9v.9h-.9zM78.7 91.8h.9v.9h-.9zM75.9 87.2h.9v.9h-.9zM88.0 88.1h.9v.9h-.9zM67.7 90.1h.9v.9h-.9zM94.7 89.6h.9v.9h-.9zM80.4 91.4h.9v.9h-.9zM72.7 97.0h.9v.9h-.9zM75.2 94.7h.9v.9h-.9zM71.6 86.1h.9v.9h-.9zM82.0 92.3h.9v.9h-.9zM72.8 95.9h.9v.9h-.9zM92.7 90.6h.9v.9h-.9zM72.2 96.6h.9v.9h-.9zM55.0 93.2h.9v.9h-.9zM71.4 88.7h.9v.9h-.9zM58.9 98.5h.9v.9h-.9zM78.8 86.9h.9v.9h-.9zM90.0 80.5h.9v.9h-.9zM87.7 93.8h.9v.9h-.9zM65.0 90.7h.9v.9h-.9zM71.5 91.3h.9v.9h-.9zM98.3 82.1h.9v.9h-.9zM82.5 85.2h.9v.9h-.9zM79.2 86.4h.9v.9h-.9zM91.2 87.6h.9v.9h-.9zM106.8 87.8h.9v.9h-.9zM92.4 79.5h.9v.9h-.9zM82.0 93.7h.9v.9h-.9zM83.0 85.7h.9v.9h-.9zM85.9 85.6h.9v.9h-.9zM73.8 94.8h.9v.9h-.9zM68.5 92.7h.9v.9h-.9zM79.5 84.8h.9v.9h-.9zM71.0 100.1h.9v.9h-.9zM78.7 87.7h.9v.9h-.9zM81.2 91.8h.9v.9h-.9zM105.5 87.3h.9v.9h-.9zM71.8 98.2h.9v.9h-.9zM78.4 89.4h.9v.9h-.9zM78.9 95.3h.9v.9h-.9zM84.2 87.2h.9v.9h-.9zM92.1 93.4h.9v.9h-.9zM74.2 88.9h.9v.9h-.9zM70.9 91.1h.9v.9h-.9zM63.5 101.6h.9v.9h-.9zM70.2 94.0h.9v.9h-.9zM85.9 90.4h.9v.9h-.9zM82.1 99.7h.9v.9h-.9zM69.3 94.4h.9v.9h-.9zM75.4 88.5h.9v.9h-.9zM80.9 93.8h.9v.9h-.9zM84.6 85.4h.9v.9h-.9zM74.4 96.6h.9v.9h-.9zM78.1 96.2h.9v.9h-.9zM59.9 92.2h.9v.9h-.9zM67.1 90.7h.9v.9h-.9zM97.6 88.6h.9v.9h-.9zM56.3 95.2h.9v.9h-.9zM75.7 87.8h.9v.9h-.9zM82.8 92.8h.9v.9h-.9zM74.5 83.7h.9v.9h-.9zM70.9 90.8h.9v.9h-.9zM79.1 89.5h.9v.9h-.9zM79.8 89.9h.9v.9h-.9zM79.3 92.4h.9v.9h-.9zM58.8 89.7h.9v.9h-.9zM78.8 93.6h.9v.9h-.9zM70.6 91.9h.9v.9h-.9zM73.6 89.5h.9v.9h-.9zM81.5 85.2h.9v.9h-.9zM86.1 85.1h.9v.9h-.9zM90.0 90.7h.9v.9h-.9zM74.0 88.2h.9v.9h-.9zM90.1 89.5h.9v.9h-.9zM93.5 92.9h.9v.9h-.9zM93.0 92.9h.9v.9h-.9zM96.1 94.5h.9v.9h-.9zM78.2 90.1h.9v.9h-.9zM77.4 87.1h.9v.9h-.9zM89.6 93.4h.9v.9h-.9zM65.4 94.8h.9v.9h-.9zM83.0 95.0h.9v.9h-.9zM74.3 92.1h.9v.9h-.9zM76.8 96.4h.9v.9h-.9zM61.7 97.7h.9v.9h-.9zM70.9 95.5h.9v.9h-.9zM80.1 93.0h.9v.9h-.9zM89.9 90.9h.9v.9h-.9zM90.9 90.0h.9v.9h-.9zM79.3 92.0h.9v.9h-.9zM78.6 95.3h.9v.9h-.9zM70.6 90.6h.9v.9h-.9zM85.6 97.1h.9v.9h-.9zM77.2 91.1h.9v.9h-.9zM87.2 93.7h.9v.9h-.9zM98.9 87.3h.9v.9h-.9zM79.5 90.1h.9v.9h-.9zM65.2 101.9h.9v.9h-.9zM70.5 91.4h.9v.9h-.9zM63.3 88.8h.9v.9h-.9zM66.5 90.5h.9v.9h-.9zM93.9 87.3h.9v.9h-.9zM84.0 99.1h.9v.9h-.9zM63.7 94.7h.9v.9h-.9zM87.7 93.4h.9v.9h-.9zM93.0 84.6h.9v.9h-.9zM76.3 93.1h.9v.9h-.9zM73.1 94.9h.9v.9h-.9zM77.6 98.7h.9v.9h-.9zM82.6 87.7h.9v.9h-.9zM87.4 92.2h.9v.9h-.9zM93.0 89.9h.9v.9h-.9zM92.4 84.7h.9v.9h-.9zM92.8 88.7h.9v.9h-.9zM94.6 87.4h.9v.9h-.9zM85.5 80.6h.9v.9h-.9zM63.8 96.3h.9v.9h-.9zM79.0 93.4h.9v.9h-.9zM83.1 88.7h.9v.9h-.9zM74.9 86.5h.9v.9h-.9zM90.9 95.1h.9v.9h-.9zM76.3 92.7h.9v.9h-.9zM70.7 96.8h.9v.9h-.9zM96.6 93.8h.9v.9h-.9zM86.9 87.7h.9v.9h-.9zM82.9 93.8h.9v.9h-.9zM89.9 88.3h.9v.9h-.9zM91.5 88.7h.9v.9h-.9zM83.6 90.0h.9v.9h-.9zM73.5 96.7h.9v.9h-.9zM75.1 92.4h.9v.9h-.9zM69.2 92.3h.9v.9h-.9zM82.0 89.5h.9v.9h-.9zM93.2 90.1h.9v.9h-.9zM74.1 88.4h.9v.9h-.9zM67.4 91.2h.9v.9h-.9zM101.9 86.9h.9v.9h-.9zM74.7 89.6h.9v.9h-.9zM66.6 92.9h.9v.9h-.9zM82.2 88.1h.9v.9h-.9zM86.0 98.1h.9v.9h-.9zM73.3 97.6h.9v.9h-.9zM88.9 91.3h.9v.9h-.9zM74.7 91.7h.9v.9h-.9zM71.5 101.4h.9v.9h-.9zM82.2 91.9h.9v.9h-.9zM88.3 89.2h.9v.9h-.9zM73.3 93.4h.9v.9h-.9zM83.8 91.6h.9v.9h-.9zM80.0 96.7h.9v.9h-.9zM110.6 85.5h.9v.9h-.9zM73.8 100.6h.9v.9h-.9zM94.4 84.9h.9v.9h-.9zM79.9 93.8h.9v.9h-.9zM77.9 87.3h.9v.9h-.9zM89.1 96.8h.9v.9h-.9zM89.5 88.0h.9v.9h-.9zM93.7 88.4h.9v.9h-.9zM84.2 94.0h.9v.9h-.9zM74.4 97.1h.9v.9h-.9zM73.4 87.6h.9v.9h-.9zM85.3 88.7h.9v.9h-.9zM85.3 84.4h.9v.9h-.9zM95.2 88.9h.9v.9h-.9zM84.5 89.8h.9v.9h-.9zM91.2 87.6h.9v.9h-.9zM96.0 85.4h.9v.9h-.9zM81.5 89.2h.9v.9h-.9zM63.4 90.9h.9v.9h-.9zM67.6 95.3h.9v.9h-.9zM65.5 99.7h.9v.9h-.9zM95.9 80.4h.9v.9h-.9zM70.7 92.2h.9v.9h-.9zM93.1 87.0h.9v.9h-.9zM86.7 91.8h.9v.9h-.9zM97.9 84.0h.9v.9h-.9zM90.8 88.5h.9v.9h-.9zM78.2 87.1h.9v.9h-.9zM78.3 94.1h.9v.9h-.9zM81.0 91.2h.9v.9h-.9zM81.8 90.0h.9v.9h-.9zM74.5 93.5h.9v.9h-.9zM79.5 90.1h.9v.9h-.9zM96.4 81.8h.9v.9h-.9zM62.0 96.6h.9v.9h-.9zM83.0 91.6h.9v.9h-.9zM70.1 92.1h.9v.9h-.9zM82.7 94.5h.9v.9h-.9zM89.9 94.2h.9v.9h-.9zM78.6 86.8h.9v.9h-.9zM87.8 86.4h.9v.9h-.9zM63.9 100.1h.9v.9h-.9zM93.0 94.5h.9v.9h-.9zM73.0 89.2h.9v.9h-.9zM85.9 85.2h.9v.9h-.9zM81.5 88.1h.9v.9h-.9zM70.7 86.2h.9v.9h-.9zM82.4 90.7h.9v.9h-.9zM95.9 83.0h.9v.9h-.9zM82.3 85.7h.9v.9h-.9zM83.4 94.1h.9v.9h-.9zM64.2 91.0h.9v.9h-.9zM95.5 88.0h.9v.9h-.9zM100.0 90.0h.9v.9h-.9zM80.9 94.1h.9v.9h-.9zM77.4 90.1h.9v.9h-.9zM62.5 94.3h.9v.9h-.9zM89.0 86.1h.9v.9h-.9zM110.5 92.7h.9v.9h-.9zM88.2 92.2h.9v.9h-.9zM92.9 84.2h.9v.9h-.9zM85.9 90.0h.9v.9h-.9zM69.8 95.7h.9v.9h-.9zM94.8 90.3h.9v.9h-.9zM67.9 100.6h.9v.9h-.9zM78.7 96.8h.9v.9h-.9zM82.6 88.3h.9v.9h-.9zM89.5 89.0h.9v.9h-.9zM83.6 85.2h.9v.9h-.9zM84.4 91.2h.9v.9h-.9zM71.9 93.0h.9v.9h-.9zM67.9 104.1h.9v.9h-.9zM80.7 91.3h.9v.9h-.9zM70.9 84.1h.9v.9h-.9zM65.4 90.9h.9v.9h-.9zM66.4 93.9h.9v.9h-.9zM73.8 87.0h.9v.9h-.9zM59.3 91.1h.9v.9h-.9zM65.1 92.1h.9v.9h-.9zM62.5 95.5h.9v.9h-.9zM81.9 90.0h.9v.9h-.9zM83.8 86.7h.9v.9h-.9zM102.3 90.3h.9v.9h-.9zM63.4 91.7h.9v.9h-.9zM72.3 90.3h.9v.9h-.9zM88.9 83.8h.9v.9h-.9zM77.1 88.3h.9v.9h-.9zM76.9 94.2h.9v.9h-.9zM97.4 81.4h.9v.9h-.9zM76.3 91.4h.9v.9h-.9zM68.0 96.0h.9v.9h-.9zM65.5 92.0h.9v.9h-.9zM83.8 91.3h.9v.9h-.9zM82.5 86.0h.9v.9h-.9zM66.1 98.8h.9v.9h-.9zM70.1 97.2h.9v.9h-.9zM86.0 90.9h.9v.9h-.9zM85.0 83.0h.9v.9h-.9zM72.3 88.1h.9v.9h-.9zM87.4 93.7h.9v.9h-.9zM87.4 96.7h.9v.9h-.9zM60.9 95.6h.9v.9h-.9zM77.5 96.5h.9v.9h-.9zM84.1 87.8h.9v.9h-.9zM73.7 91.3h.9v.9h-.9zM56.8 95.1h.9v.9h-.9zM77.2 93.2h.9v.9h-.9zM87.1 83.5h.9v.9h-.9zM97.8 91.7h.9v.9h-.9zM57.2 100.4h.9v.9h-.9zM107.5 81.5h.9v.9h-.9zM66.8 87.8h.9v.9h-.9zM90.6 90.6h.9v.9h-.9zM92.9 86.1h.9v.9h-.9zM89.0 79.8h.9v.9h-.9zM82.2 93.9h.9v.9h-.9zM67.5 93.8h.9v.9h-.9zM86.5 87.9h.9v.9h-.9zM73.7 100.7h.9v.9h-.9zM110.1 82.6h.9v.9h-.9zM87.7 90.0h.9v.9h-.9zM99.0 83.4h.9v.9h-.9zM69.6 89.7h.9v.9h-.9zM96.2 89.7h.9v.9h-.9zM96.8 85.8h.9v.9h-.9zM96.5 86.3h.9v.9h-.9zM80.9 97.6h.9v.9h-.9zM67.6 96.7h.9v.9h-.9zM78.6 94.5h.9v.9h-.9zM56.5 97.3h.9v.9h-.9zM61.9 96.2h.9v.9h-.9zM82.0 96.6h.9v.9h-.9zM69.2 92.8h.9v.9h-.9zM79.5 98.6h.9v.9h-.9zM78.2 87.5h.9v.9h-.9zM100.7 86.3h.9v.9h-.9zM93.1 83.1h.9v.9h-.9zM79.3 89.7h.9v.9h-.9zM93.5 90.7h.9v.9h-.9zM72.6 98.2h.9v.9h-.9zM75.9 89.0h.9v.9h-.9zM89.9 89.3h.9v.9h-.9zM66.3 92.0h.9v.9h-.9zM76.5 88.6h.9v.9h-.9zM64.9 88.8h.9v.9h-.9zM81.3 91.0h.9v.9h-.9zM96.5 81.1h.9v.9h-.9zM71.9 92.9h.9v.9h-.9zM82.5 90.7h.9v.9h-.9zM69.8 90.1h.9v.9h-.9zM66.8 89.2h.9v.9h-.9zM65.7 87.9h.9v.9h-.9zM97.1 95.6h.9v.9h-.9zM104.7 81.2h.9v.9h-.9zM86.3 96.2h.9v.9h-.9zM72.7 94.7h.9v.9h-.9zM87.4 88.2h.9v.9h-.9zM75.6 87.1h.9v.9h-.9zM89.4 93.6h.9v.9h-.9zM84.4 97.3h.9v.9h-.9zM82.4 86.8h.9v.9h-.9zM86.4 88.7h.9v.9h-.9zM74.5 96.2h.9v.9h-.9zM75.9 93.1h.9v.9h-.9zM62.7 102.2h.9v.9h-.9zM74.8 89.6h.9v.9h-.9zM65.0 95.9h.9v.9h-.9zM77.6 86.3h.9v.9h-.9zM71.1 101.1h.9v.9h-.9zM80.6 87.9h.9v.9h-.9zM83.4 81.4h.9v.9h-.9zM64.5 93.2h.9v.9h-.9zM71.1 92.0h.9v.9h-.9zM71.1 100.3h.9v.9h-.9zM87.9 88.2h.9v.9h-.9zM98.5 87.7h.9v.9h-.9zM89.6 91.7h.9v.9h-.9zM77.3 97.9h.9v.9h-.9zM95.8 88.0h.9v.9h-.9zM64.3 98.0h.9v.9h-.9zM96.6 90.2h.9v.9h-.9zM72.7 91.1h.9v.9h-.9zM108.7 86.0h.9v.9h-.9zM96.5 84.4h.9v.9h-.9zM69.7 97.8h.9v.9h-.9zM80.9 85.2h.9v.9h-.9zM78.5 96.0h.9v.9h-.9zM81.8 94.6h.9v.9h-.9zM63.9 93.5h.9v.9h-.9zM72.1 89.3h.9v.9h-.9zM84.9 89.2h.9v.9h-.9zM82.7 92.4h.9v.9h-.9zM93.5 91.6h.9v.9h-.9zM81.1 92.0h.9v.9h-.9zM106.1 90.4h.9v.9h-.9zM71.9 90.2h.9v.9h-.9zM83.0 91.4h.9v.9h-.9zM58.2 88.5h.9v.9h-.9zM67.0 96.4h.9v.9h-.9zM94.5 89.1h.9v.9h-.9zM69.5 91.2h.9v.9h-.9zM86.6 94.6h.9v.9h-.9zM79.8 93.8h.9v.9h-.9zM66.7 81.9h.9v.9h-.9zM76.3 91.8h.9v.9h-.9zM73.4 86.3h.9v.9h-.9zM75.5 96.1h.9v.9h-.9zM89.9 99.4h.9v.9h-.9zM86.7 87.7h.9v.9h-.9zM73.8 92.4h.9v.9h-.9zM70.0 91.7h.9v.9h-.9zM83.3 91.8h.9v.9h-.9zM79.4 93.7h.9v.9h-.9zM92.0 94.1h.9v.9h-.9zM108.1 82.0h.9v.9h-.9zM90.2 95.6h.9v.9h-.9zM79.0 87.4h.9v.9h-.9zM78.3 92.4h.9v.9h-.9zM71.5 97.2h.9v.9h-.9zM70.7 95.5h.9v.9h-.9zM68.5 89.2h.9v.9h-.9zM75.2 89.0h.9v.9h-.9zM75.1 90.0h.9v.9h-.9zM88.0 89.4h.9v.9h-.9zM76.5 96.3h.9v.9h-.9zM77.0 86.3h.9v.9h-.9zM67.1 95.2h.9v.9h-.9zM98.2 90.3h.9v.9h-.9zM85.9 92.2h.9v.9h-.9zM99.7 89.4h.9v.9h-.9zM89.7 95.5h.9v.9h-.9zM96.5 90.1h.9v.9h-.9zM77.9 94.9h.9v.9h-.9zM88.2 91.9h.9v.9h-.9zM110.6 92.9h.9v.9h-.9zM65.4 85.9h.9v.9h-.9zM93.6 93.8h.9v.9h-.9zM98.2 86.7h.9v.9h-.9zM84.4 89.1h.9v.9h-.9zM87.6 85.7h.9v.9h-.9zM92.6 81.2h.9v.9h-.9zM72.5 90.8h.9v.9h-.9zM84.0 87.5h.9v.9h-.9zM70.7 94.6h.9v.9h-.9zM71.5 86.5h.9v.9h-.9zM74.2 97.8h.9v.9h-.9zM78.6 92.4h.9v.9h-.9zM81.5 89.7h.9v.9h-.9zM84.5 87.3h.9v.9h-.9zM63.7 90.7h.9v.9h-.9zM101.2 82.7h.9v.9h-.9zM92.4 86.6h.9v.9h-.9zM88.1 89.6h.9v.9h-.9zM75.9 91.0h.9v.9h-.9zM78.0 85.6h.9v.9h-.9zM85.9 88.9h.9v.9h-.9zM83.9 86.7h.9v.9h-.9zM61.5 94.9h.9v.9h-.9zM89.5 96.9h.9v.9h-.9zM112.8 87.8h.9v.9h-.9zM59.3 93.4h.9v.9h-.9zM89.9 82.7h.9v.9h-.9zM83.1 84.7h.9v.9h-.9zM77.6 84.6h.9v.9h-.9zM95.7 91.2h.9v.9h-.9zM66.3 90.3h.9v.9h-.9zM81.9 90.9h.9v.9h-.9zM95.8 85.7h.9v.9h-.9zM77.9 91.7h.9v.9h-.9zM76.3 97.3h.9v.9h-.9zM80.8 88.1h.9v.9h-.9zM74.8 90.5h.9v.9h-.9zM96.7 84.8h.9v.9h-.9zM70.5 96.2h.9v.9h-.9zM89.0 85.2h.9v.9h-.9zM65.3 89.0h.9v.9h-.9zM55.7 95.0h.9v.9h-.9zM55.6 94.8h.9v.9h-.9zM66.2 87.1h.9v.9h-.9zM79.6 95.4h.9v.9h-.9zM58.4 98.0h.9v.9h-.9zM69.7 93.9h.9v.9h-.9zM66.1 100.5h.9v.9h-.9zM58.1 102.0h.9v.9h-.9zM61.9 89.3h.9v.9h-.9zM63.0 98.3h.9v.9h-.9zM60.0 96.1h.9v.9h-.9zM75.7 94.7h.9v.9h-.9zM66.0 90.9h.9v.9h-.9zM65.8 91.5h.9v.9h-.9zM60.2 91.0h.9v.9h-.9zM64.6 90.9h.9v.9h-.9zM69.2 93.1h.9v.9h-.9zM64.4 88.1h.9v.9h-.9zM66.1 89.6h.9v.9h-.9zM68.3 95.9h.9v.9h-.9zM73.0 94.8h.9v.9h-.9zM77.0 85.3h.9v.9h-.9zM69.6 90.4h.9v.9h-.9zM69.9 91.3h.9v.9h-.9zM55.6 94.9h.9v.9h-.9zM63.1 91.7h.9v.9h-.9zM59.5 98.1h.9v.9h-.9zM60.5 94.1h.9v.9h-.9zM69.8 93.6h.9v.9h-.9zM59.2 94.5h.9v.9h-.9zM63.5 96.9h.9v.9h-.9zM63.4 98.6h.9v.9h-.9zM64.7 95.8h.9v.9h-.9zM59.8 95.0h.9v.9h-.9zM59.7 94.5h.9v.9h-.9zM75.5 95.1h.9v.9h-.9zM57.1 98.7h.9v.9h-.9zM58.0 98.3h.9v.9h-.9zM59.3 95.9h.9v.9h-.9zM71.5 96.9h.9v.9h-.9zM76.6 93.4h.9v.9h-.9zM66.4 98.8h.9v.9h-.9zM59.7 94.3h.9v.9h-.9zM60.7 86.0h.9v.9h-.9zM70.8 98.8h.9v.9h-.9zM58.6 94.9h.9v.9h-.9zM72.3 88.6h.9v.9h-.9zM72.4 92.5h.9v.9h-.9zM64.1 90.4h.9v.9h-.9zM68.6 102.0h.9v.9h-.9zM68.7 95.6h.9v.9h-.9zM72.7 86.9h.9v.9h-.9zM57.9 96.7h.9v.9h-.9zM70.9 91.8h.9v.9h-.9zM62.4 101.8h.9v.9h-.9zM59.0 90.2h.9v.9h-.9zM63.8 85.0h.9v.9h-.9zM62.7 94.4h.9v.9h-.9zM58.0 93.1h.9v.9h-.9zM57.6 86.0h.9v.9h-.9zM72.8 94.9h.9v.9h-.9zM76.3 99.6h.9v.9h-.9zM67.2 86.1h.9v.9h-.9zM71.5 98.0h.9v.9h-.9zM60.7 92.0h.9v.9h-.9zM64.4 103.4h.9v.9h-.9zM65.8 95.6h.9v.9h-.9zM57.5 93.8h.9v.9h-.9zM58.5 98.9h.9v.9h-.9zM64.8 96.0h.9v.9h-.9zM61.9 91.8h.9v.9h-.9zM57.9 97.4h.9v.9h-.9zM66.1 91.8h.9v.9h-.9zM61.8 87.0h.9v.9h-.9zM70.8 101.6h.9v.9h-.9zM63.8 92.6h.9v.9h-.9zM62.0 91.7h.9v.9h-.9zM64.9 95.3h.9v.9h-.9zM62.4 87.9h.9v.9h-.9zM59.5 89.0h.9v.9h-.9zM61.4 92.2h.9v.9h-.9zM68.3 91.5h.9v.9h-.9zM67.9 93.9h.9v.9h-.9zM72.1 97.8h.9v.9h-.9zM61.8 96.2h.9v.9h-.9zM61.7 96.6h.9v.9h-.9zM64.6 89.6h.9v.9h-.9zM61.4 95.1h.9v.9h-.9zM60.6 90.5h.9v.9h-.9zM69.1 97.8h.9v.9h-.9zM65.2 95.7h.9v.9h-.9zM57.0 94.7h.9v.9h-.9zM71.5 88.0h.9v.9h-.9zM70.0 93.9h.9v.9h-.9zM60.3 91.2h.9v.9h-.9zM69.2 96.4h.9v.9h-.9zM59.6 93.9h.9v.9h-.9zM70.4 90.2h.9v.9h-.9zM63.0 97.8h.9v.9h-.9zM59.5 97.3h.9v.9h-.9zM61.6 91.8h.9v.9h-.9zM59.8 99.0h.9v.9h-.9zM65.0 92.7h.9v.9h-.9zM64.9 92.7h.9v.9h-.9zM64.3 94.5h.9v.9h-.9zM60.4 91.3h.9v.9h-.9zM64.5 93.3h.9v.9h-.9zM66.0 99.8h.9v.9h-.9zM70.7 92.4h.9v.9h-.9zM66.2 100.3h.9v.9h-.9zM61.7 94.0h.9v.9h-.9zM63.1 95.6h.9v.9h-.9zM63.5 97.6h.9v.9h-.9zM60.8 95.5h.9v.9h-.9zM61.4 103.9h.9v.9h-.9zM58.6 95.5h.9v.9h-.9zM70.7 88.6h.9v.9h-.9zM64.4 99.2h.9v.9h-.9zM69.6 91.9h.9v.9h-.9zM62.4 92.9h.9v.9h-.9zM63.4 82.0h.9v.9h-.9zM63.3 98.1h.9v.9h-.9zM67.1 97.0h.9v.9h-.9zM69.2 96.8h.9v.9h-.9zM65.8 97.8h.9v.9h-.9zM60.6 101.1h.9v.9h-.9zM59.3 94.2h.9v.9h-.9zM74.2 96.9h.9v.9h-.9zM62.1 91.2h.9v.9h-.9zM62.1 92.7h.9v.9h-.9zM73.1 97.4h.9v.9h-.9zM70.6 95.0h.9v.9h-.9zM66.7 88.4h.9v.9h-.9zM61.7 95.6h.9v.9h-.9zM78.0 92.0h.9v.9h-.9zM66.1 90.5h.9v.9h-.9zM67.4 95.4h.9v.9h-.9zM62.8 92.5h.9v.9h-.9zM55.0 88.5h.9v.9h-.9zM55.6 90.3h.9v.9h-.9zM67.0 100.8h.9v.9h-.9zM65.8 87.8h.9v.9h-.9zM62.6 95.0h.9v.9h-.9zM57.2 97.0h.9v.9h-.9zM55.6 97.3h.9v.9h-.9zM61.6 89.3h.9v.9h-.9zM55.2 93.5h.9v.9h-.9zM69.4 94.1h.9v.9h-.9zM71.2 96.6h.9v.9h-.9zM80.7 90.0h.9v.9h-.9zM68.8 88.9h.9v.9h-.9zM60.8 98.3h.9v.9h-.9zM59.2 98.9h.9v.9h-.9zM60.2 91.9h.9v.9h-.9zM63.1 95.7h.9v.9h-.9zM69.8 93.9h.9v.9h-.9zM67.9 97.0h.9v.9h-.9zM67.1 88.7h.9v.9h-.9zM65.3 94.4h.9v.9h-.9zM67.9 93.0h.9v.9h-.9zM72.3 88.8h.9v.9h-.9zM57.7 95.4h.9v.9h-.9zM61.3 94.4h.9v.9h-.9zM55.6 93.1h.9v.9h-.9zM73.8 94.7h.9v.9h-.9zM71.3 87.7h.9v.9h-.9zM68.5 93.4h.9v.9h-.9zM57.0 96.3h.9v.9h-.9zM65.1 95.0h.9v.9h-.9zM63.0 98.4h.9v.9h-.9zM64.1 89.2h.9v.9h-.9zM62.3 88.1h.9v.9h-.9zM67.2 94.7h.9v.9h-.9zM61.8 96.0h.9v.9h-.9zM69.8 102.0h.9v.9h-.9zM65.7 96.3h.9v.9h-.9zM61.9 90.7h.9v.9h-.9zM63.6 97.3h.9v.9h-.9zM61.1 90.9h.9v.9h-.9zM68.3 87.7h.9v.9h-.9zM63.3 104.5h.9v.9h-.9zM65.9 95.1h.9v.9h-.9zM61.9 97.1h.9v.9h-.9zM55.3 97.0h.9v.9h-.9zM70.0 100.7h.9v.9h-.9zM57.8 95.7h.9v.9h-.9zM68.5 98.5h.9v.9h-.9zM66.2 89.7h.9v.9h-.9zM58.9 100.2h.9v.9h-.9zM61.4 100.1h.9v.9h-.9zM59.3 96.5h.9v.9h-.9zM57.0 95.5h.9v.9h-.9zM68.5 94.3h.9v.9h-.9zM62.3 91.4h.9v.9h-.9zM66.8 99.9h.9v.9h-.9zM61.7 96.9h.9v.9h-.9zM66.0 95.9h.9v.9h-.9zM59.6 95.9h.9v.9h-.9zM64.2 98.2h.9v.9h-.9zM67.7 95.7h.9v.9h-.9zM64.5 96.9h.9v.9h-.9zM60.9 89.6h.9v.9h-.9zM57.7 96.6h.9v.9h-.9zM65.8 102.6h.9v.9h-.9zM65.9 91.8h.9v.9h-.9zM62.4 93.6h.9v.9h-.9zM59.7 98.0h.9v.9h-.9zM67.6 97.5h.9v.9h-.9zM79.1 95.2h.9v.9h-.9zM61.6 87.7h.9v.9h-.9zM66.2 95.8h.9v.9h-.9zM65.8 89.1h.9v.9h-.9zM64.9 96.1h.9v.9h-.9zM59.7 93.2h.9v.9h-.9zM72.6 96.5h.9v.9h-.9zM63.6 106.7h.9v.9h-.9zM59.6 97.5h.9v.9h-.9zM62.9 97.0h.9v.9h-.9zM64.7 90.3h.9v.9h-.9zM60.4 91.7h.9v.9h-.9zM63.3 89.8h.9v.9h-.9zM55.7 92.6h.9v.9h-.9zM62.3 89.8h.9v.9h-.9zM68.4 91.0h.9v.9h-.9zM75.7 92.1h.9v.9h-.9zM67.9 89.6h.9v.9h-.9zM65.1 88.2h.9v.9h-.9zM70.6 88.0h.9v.9h-.9zM70.2 95.3h.9v.9h-.9zM74.0 93.4h.9v.9h-.9zM70.8 97.5h.9v.9h-.9zM63.7 98.2h.9v.9h-.9zM65.4 92.5h.9v.9h-.9zM65.3 96.6h.9v.9h-.9zM65.3 88.1h.9v.9h-.9zM66.0 103.0h.9v.9h-.9zM59.7 99.2h.9v.9h-.9zM59.6 89.7h.9v.9h-.9z" fill="rgba(45,45,45,0.55)"/>
<path d="M67.4 73.4h.9v.9h-.9zM79.4 66.8h.9v.9h-.9zM96.2 70.0h.9v.9h-.9zM88.8 68.9h.9v.9h-.9zM82.6 66.0h.9v.9h-.9zM98.5 67.9h.9v.9h-.9zM76.6 72.0h.9v.9h-.9zM91.1 68.5h.9v.9h-.9zM82.5 67.9h.9v.9h-.9zM78.7 71.4h.9v.9h-.9zM93.1 71.7h.9v.9h-.9zM77.1 71.7h.9v.9h-.9zM108.9 67.8h.9v.9h-.9zM81.6 69.4h.9v.9h-.9zM109.9 71.8h.9v.9h-.9zM76.0 68.1h.9v.9h-.9zM94.7 67.9h.9v.9h-.9zM74.8 71.3h.9v.9h-.9zM73.2 72.9h.9v.9h-.9zM89.8 67.0h.9v.9h-.9zM95.5 63.8h.9v.9h-.9zM74.0 66.3h.9v.9h-.9zM101.0 67.3h.9v.9h-.9zM79.2 69.2h.9v.9h-.9zM89.4 70.9h.9v.9h-.9zM92.2 69.2h.9v.9h-.9zM94.5 68.0h.9v.9h-.9zM68.2 69.8h.9v.9h-.9zM105.8 67.4h.9v.9h-.9zM94.2 69.4h.9v.9h-.9zM83.3 68.1h.9v.9h-.9zM76.7 75.4h.9v.9h-.9zM69.4 71.3h.9v.9h-.9zM73.0 67.7h.9v.9h-.9zM94.0 67.3h.9v.9h-.9zM84.2 68.5h.9v.9h-.9zM75.6 65.9h.9v.9h-.9zM82.2 67.9h.9v.9h-.9zM105.2 67.9h.9v.9h-.9zM84.4 71.4h.9v.9h-.9zM81.6 68.6h.9v.9h-.9zM102.9 67.8h.9v.9h-.9zM93.1 66.6h.9v.9h-.9zM88.5 66.9h.9v.9h-.9zM81.3 69.4h.9v.9h-.9zM70.9 69.0h.9v.9h-.9zM75.1 72.0h.9v.9h-.9zM82.7 68.1h.9v.9h-.9zM85.6 71.8h.9v.9h-.9zM91.9 70.1h.9v.9h-.9zM94.1 69.5h.9v.9h-.9zM90.5 65.1h.9v.9h-.9zM90.4 66.7h.9v.9h-.9zM76.9 71.1h.9v.9h-.9zM64.3 72.6h.9v.9h-.9zM82.3 70.0h.9v.9h-.9zM77.5 71.2h.9v.9h-.9zM80.8 68.6h.9v.9h-.9zM85.0 68.7h.9v.9h-.9zM74.3 68.0h.9v.9h-.9zM75.8 71.6h.9v.9h-.9zM86.9 70.3h.9v.9h-.9zM89.3 69.0h.9v.9h-.9zM80.8 68.8h.9v.9h-.9zM93.5 70.7h.9v.9h-.9zM85.6 70.2h.9v.9h-.9zM76.8 67.7h.9v.9h-.9zM88.4 73.3h.9v.9h-.9zM108.7 70.1h.9v.9h-.9zM80.6 69.5h.9v.9h-.9zM100.8 72.8h.9v.9h-.9zM103.2 71.8h.9v.9h-.9zM104.5 69.3h.9v.9h-.9zM79.0 70.7h.9v.9h-.9zM110.2 67.1h.9v.9h-.9zM89.3 68.1h.9v.9h-.9zM85.2 64.5h.9v.9h-.9zM85.5 72.2h.9v.9h-.9zM94.6 65.3h.9v.9h-.9zM88.6 71.0h.9v.9h-.9zM86.1 67.7h.9v.9h-.9zM102.1 67.3h.9v.9h-.9zM80.0 69.1h.9v.9h-.9zM76.5 70.1h.9v.9h-.9zM96.7 70.8h.9v.9h-.9zM95.7 73.4h.9v.9h-.9zM100.0 70.3h.9v.9h-.9zM76.2 71.4h.9v.9h-.9zM99.9 68.2h.9v.9h-.9zM93.3 71.1h.9v.9h-.9z" fill="rgba(150,120,130,0.3)"/>
<path d="M96.0 88.0h.9v.9h-.9zM93.8 86.8h.9v.9h-.9zM94.6 85.7h.9v.9h-.9zM95.3 87.9h.9v.9h-.9zM95.4 85.3h.9v.9h-.9zM96.0 85.3h.9v.9h-.9zM93.3 85.7h.9v.9h-.9zM92.0 83.5h.9v.9h-.9zM97.5 86.8h.9v.9h-.9zM89.6 85.4h.9v.9h-.9zM93.0 85.6h.9v.9h-.9zM99.2 83.6h.9v.9h-.9zM87.5 89.2h.9v.9h-.9zM93.0 86.4h.9v.9h-.9zM97.0 85.5h.9v.9h-.9zM89.5 84.7h.9v.9h-.9zM102.5 83.8h.9v.9h-.9zM86.9 85.7h.9v.9h-.9zM99.3 85.4h.9v.9h-.9zM99.7 85.4h.9v.9h-.9zM97.6 85.3h.9v.9h-.9zM95.2 89.3h.9v.9h-.9zM96.3 86.5h.9v.9h-.9zM92.6 87.6h.9v.9h-.9zM97.4 85.6h.9v.9h-.9zM91.7 86.6h.9v.9h-.9zM94.6 87.7h.9v.9h-.9zM98.3 86.9h.9v.9h-.9zM91.2 84.9h.9v.9h-.9zM94.4 87.9h.9v.9h-.9zM95.7 86.7h.9v.9h-.9zM91.5 88.5h.9v.9h-.9zM98.6 85.8h.9v.9h-.9zM95.5 83.8h.9v.9h-.9zM90.1 85.4h.9v.9h-.9zM95.6 88.9h.9v.9h-.9zM92.9 87.0h.9v.9h-.9zM92.5 84.3h.9v.9h-.9zM95.4 86.5h.9v.9h-.9zM92.8 86.0h.9v.9h-.9zM97.0 82.4h.9v.9h-.9zM92.0 83.0h.9v.9h-.9zM97.2 82.8h.9v.9h-.9zM95.0 86.5h.9v.9h-.9zM97.5 85.3h.9v.9h-.9zM93.3 86.0h.9v.9h-.9zM93.7 86.8h.9v.9h-.9zM91.9 87.8h.9v.9h-.9zM95.8 82.3h.9v.9h-.9zM97.6 84.8h.9v.9h-.9zM100.8 83.1h.9v.9h-.9zM98.2 83.1h.9v.9h-.9zM95.5 85.0h.9v.9h-.9zM94.3 86.0h.9v.9h-.9zM96.0 85.3h.9v.9h-.9zM94.3 83.8h.9v.9h-.9zM99.0 84.1h.9v.9h-.9zM98.6 88.4h.9v.9h-.9zM92.1 85.0h.9v.9h-.9zM92.3 83.9h.9v.9h-.9z" fill="rgba(15,15,15,0.8)"/>
<line x1="84.6" y1="38.4" x2="84.6" y2="109.6" stroke="#96204a" stroke-width="1.3"/>
<line x1="54.3" y1="79.6" x2="125.6" y2="79.6" stroke="#96204a" stroke-width="1.3"/>
<rect x="54.3" y="38.4" width="71.3" height="71.2" fill="none" stroke="#333" stroke-width="1.15"/>
<text x="122.39999999999999" y="51.599999999999994" font-size="10" text-anchor="end" fill="#8a2d4e" stroke="#8a2d4e" stroke-width="0.12">3.4</text>
<text x="56.3" y="107.6" font-size="10" text-anchor="start" fill="#8a2d4e" stroke="#8a2d4e" stroke-width="0.12">39.3</text>
<text x="122.19999999999999" y="107.6" font-size="10" text-anchor="end" fill="#8a2d4e" stroke="#8a2d4e" stroke-width="0.12">56.0</text>
<path d="M169.2 82.7h.9v.9h-.9zM172.1 85.4h.9v.9h-.9zM171.3 85.4h.9v.9h-.9zM163.1 88.4h.9v.9h-.9zM173.7 83.5h.9v.9h-.9zM164.7 87.2h.9v.9h-.9zM162.7 87.5h.9v.9h-.9zM166.2 88.5h.9v.9h-.9zM167.7 84.7h.9v.9h-.9zM172.4 84.4h.9v.9h-.9zM172.1 85.0h.9v.9h-.9zM170.0 89.7h.9v.9h-.9zM174.2 85.7h.9v.9h-.9zM169.3 86.1h.9v.9h-.9zM174.1 86.1h.9v.9h-.9zM162.1 90.1h.9v.9h-.9zM161.8 92.1h.9v.9h-.9zM173.5 86.3h.9v.9h-.9zM163.4 93.5h.9v.9h-.9zM168.6 90.4h.9v.9h-.9zM168.5 86.6h.9v.9h-.9zM166.1 86.4h.9v.9h-.9zM167.4 89.5h.9v.9h-.9zM176.7 85.1h.9v.9h-.9zM155.8 91.0h.9v.9h-.9zM172.3 81.2h.9v.9h-.9zM179.2 77.7h.9v.9h-.9zM169.4 87.3h.9v.9h-.9zM169.6 88.4h.9v.9h-.9zM173.5 87.1h.9v.9h-.9zM177.3 79.9h.9v.9h-.9zM163.8 91.3h.9v.9h-.9zM169.0 85.0h.9v.9h-.9zM168.4 87.8h.9v.9h-.9zM172.3 86.5h.9v.9h-.9zM169.1 84.2h.9v.9h-.9zM171.9 83.8h.9v.9h-.9zM165.0 82.2h.9v.9h-.9zM168.4 84.2h.9v.9h-.9zM163.9 83.4h.9v.9h-.9zM166.0 88.8h.9v.9h-.9zM168.3 86.9h.9v.9h-.9zM169.1 89.0h.9v.9h-.9zM163.3 89.6h.9v.9h-.9zM176.6 82.0h.9v.9h-.9zM168.6 87.6h.9v.9h-.9zM161.5 88.1h.9v.9h-.9zM175.2 85.9h.9v.9h-.9zM165.4 88.7h.9v.9h-.9zM170.7 83.1h.9v.9h-.9zM168.9 86.5h.9v.9h-.9zM170.3 86.2h.9v.9h-.9zM169.6 85.4h.9v.9h-.9zM166.8 89.8h.9v.9h-.9zM170.7 90.6h.9v.9h-.9zM179.2 81.8h.9v.9h-.9zM157.1 89.9h.9v.9h-.9zM167.3 80.9h.9v.9h-.9zM171.1 85.4h.9v.9h-.9zM163.2 87.4h.9v.9h-.9zM160.0 83.8h.9v.9h-.9zM180.4 83.1h.9v.9h-.9zM167.6 88.6h.9v.9h-.9zM179.1 80.8h.9v.9h-.9zM171.4 84.6h.9v.9h-.9zM168.5 84.0h.9v.9h-.9zM172.1 87.5h.9v.9h-.9zM170.9 81.6h.9v.9h-.9zM174.8 83.5h.9v.9h-.9zM173.0 90.4h.9v.9h-.9zM169.8 86.4h.9v.9h-.9zM170.3 87.3h.9v.9h-.9zM175.9 83.6h.9v.9h-.9zM172.2 82.1h.9v.9h-.9zM163.8 88.3h.9v.9h-.9zM166.1 88.7h.9v.9h-.9zM169.8 83.4h.9v.9h-.9zM166.1 88.5h.9v.9h-.9zM168.2 90.2h.9v.9h-.9zM165.0 90.9h.9v.9h-.9zM166.2 83.1h.9v.9h-.9zM170.3 83.3h.9v.9h-.9zM172.7 80.7h.9v.9h-.9zM170.0 89.1h.9v.9h-.9zM180.3 84.1h.9v.9h-.9zM169.2 88.4h.9v.9h-.9zM184.7 78.3h.9v.9h-.9zM173.1 81.8h.9v.9h-.9zM171.6 85.8h.9v.9h-.9zM166.5 87.7h.9v.9h-.9zM153.6 89.7h.9v.9h-.9zM168.3 87.1h.9v.9h-.9zM170.5 87.7h.9v.9h-.9zM179.1 83.4h.9v.9h-.9zM160.9 86.6h.9v.9h-.9zM177.0 77.8h.9v.9h-.9zM167.5 86.3h.9v.9h-.9zM172.9 85.5h.9v.9h-.9zM155.6 90.6h.9v.9h-.9zM169.3 85.2h.9v.9h-.9zM166.6 85.5h.9v.9h-.9zM173.2 87.0h.9v.9h-.9zM169.4 86.2h.9v.9h-.9zM163.2 88.9h.9v.9h-.9zM173.0 82.3h.9v.9h-.9zM172.0 83.7h.9v.9h-.9zM172.2 85.8h.9v.9h-.9zM173.3 82.1h.9v.9h-.9zM173.6 81.4h.9v.9h-.9zM168.6 85.7h.9v.9h-.9zM163.1 92.0h.9v.9h-.9zM162.0 89.6h.9v.9h-.9zM177.3 87.5h.9v.9h-.9zM172.6 84.8h.9v.9h-.9zM169.3 85.6h.9v.9h-.9zM165.5 83.9h.9v.9h-.9zM168.7 85.0h.9v.9h-.9zM170.4 90.0h.9v.9h-.9zM167.6 87.9h.9v.9h-.9zM166.0 89.6h.9v.9h-.9zM180.8 84.2h.9v.9h-.9zM170.2 86.0h.9v.9h-.9zM165.7 87.1h.9v.9h-.9zM162.4 89.2h.9v.9h-.9zM165.8 89.5h.9v.9h-.9zM173.1 86.3h.9v.9h-.9zM173.4 86.3h.9v.9h-.9zM168.0 87.3h.9v.9h-.9zM168.6 84.5h.9v.9h-.9zM167.2 86.4h.9v.9h-.9zM162.4 86.3h.9v.9h-.9zM176.6 86.5h.9v.9h-.9zM169.1 80.7h.9v.9h-.9zM181.6 81.3h.9v.9h-.9zM167.2 93.8h.9v.9h-.9zM168.0 85.9h.9v.9h-.9zM172.6 82.1h.9v.9h-.9zM167.7 86.9h.9v.9h-.9zM163.0 92.3h.9v.9h-.9zM164.0 87.9h.9v.9h-.9zM170.1 87.8h.9v.9h-.9zM170.9 86.1h.9v.9h-.9zM168.2 85.8h.9v.9h-.9zM177.0 92.3h.9v.9h-.9zM174.2 84.8h.9v.9h-.9zM170.2 84.6h.9v.9h-.9zM168.7 85.3h.9v.9h-.9zM168.0 87.9h.9v.9h-.9zM172.2 86.5h.9v.9h-.9zM174.4 86.7h.9v.9h-.9zM169.4 86.7h.9v.9h-.9zM170.1 82.2h.9v.9h-.9zM167.8 88.4h.9v.9h-.9zM161.4 88.4h.9v.9h-.9zM163.6 87.7h.9v.9h-.9zM171.6 81.4h.9v.9h-.9zM170.8 84.3h.9v.9h-.9zM176.6 81.7h.9v.9h-.9zM169.3 86.3h.9v.9h-.9zM172.2 81.3h.9v.9h-.9zM175.9 84.1h.9v.9h-.9zM174.3 84.9h.9v.9h-.9zM164.9 84.9h.9v.9h-.9zM167.5 85.3h.9v.9h-.9zM168.9 84.2h.9v.9h-.9zM164.7 90.6h.9v.9h-.9zM169.2 79.4h.9v.9h-.9zM174.0 83.7h.9v.9h-.9zM165.0 83.3h.9v.9h-.9zM178.8 81.7h.9v.9h-.9zM168.3 89.1h.9v.9h-.9zM167.4 85.3h.9v.9h-.9zM167.9 87.3h.9v.9h-.9zM164.6 85.8h.9v.9h-.9zM172.9 90.5h.9v.9h-.9zM169.9 88.7h.9v.9h-.9zM178.6 86.1h.9v.9h-.9zM171.0 82.1h.9v.9h-.9zM170.8 82.8h.9v.9h-.9zM168.8 89.6h.9v.9h-.9zM161.5 88.7h.9v.9h-.9zM168.3 86.0h.9v.9h-.9zM164.9 88.9h.9v.9h-.9zM172.8 81.6h.9v.9h-.9zM169.5 88.4h.9v.9h-.9zM177.6 83.4h.9v.9h-.9zM173.2 86.3h.9v.9h-.9zM172.7 83.3h.9v.9h-.9zM170.6 87.3h.9v.9h-.9zM169.5 84.4h.9v.9h-.9zM173.2 87.6h.9v.9h-.9zM174.8 87.5h.9v.9h-.9zM166.1 90.1h.9v.9h-.9zM172.0 86.8h.9v.9h-.9zM183.1 83.1h.9v.9h-.9zM166.1 80.1h.9v.9h-.9zM168.4 89.0h.9v.9h-.9zM165.2 87.1h.9v.9h-.9zM161.6 89.5h.9v.9h-.9zM174.9 83.6h.9v.9h-.9zM168.1 83.0h.9v.9h-.9zM170.1 84.6h.9v.9h-.9zM179.1 84.6h.9v.9h-.9zM183.2 85.2h.9v.9h-.9zM163.9 86.6h.9v.9h-.9zM173.6 82.3h.9v.9h-.9zM173.5 88.9h.9v.9h-.9zM170.3 83.6h.9v.9h-.9zM173.3 90.7h.9v.9h-.9zM168.9 86.7h.9v.9h-.9zM176.4 81.3h.9v.9h-.9zM173.1 87.7h.9v.9h-.9zM172.3 90.0h.9v.9h-.9zM174.2 80.6h.9v.9h-.9zM175.0 88.6h.9v.9h-.9zM171.1 84.9h.9v.9h-.9zM172.0 89.5h.9v.9h-.9zM177.7 82.3h.9v.9h-.9zM170.2 81.7h.9v.9h-.9zM169.0 87.9h.9v.9h-.9zM165.4 90.4h.9v.9h-.9zM169.1 92.3h.9v.9h-.9zM165.1 92.7h.9v.9h-.9zM170.2 88.0h.9v.9h-.9zM170.1 85.4h.9v.9h-.9zM158.0 89.1h.9v.9h-.9zM168.8 85.7h.9v.9h-.9zM171.6 83.2h.9v.9h-.9zM169.6 85.5h.9v.9h-.9zM161.8 82.1h.9v.9h-.9zM175.7 84.5h.9v.9h-.9zM165.4 87.7h.9v.9h-.9zM164.9 95.1h.9v.9h-.9zM164.1 90.4h.9v.9h-.9zM168.5 85.3h.9v.9h-.9zM174.6 86.0h.9v.9h-.9zM173.9 81.3h.9v.9h-.9zM169.6 84.6h.9v.9h-.9zM161.2 84.2h.9v.9h-.9zM166.9 91.2h.9v.9h-.9zM164.9 89.6h.9v.9h-.9zM167.0 84.0h.9v.9h-.9zM159.8 89.7h.9v.9h-.9zM170.4 88.6h.9v.9h-.9zM172.8 86.5h.9v.9h-.9zM168.6 87.7h.9v.9h-.9zM170.6 83.5h.9v.9h-.9zM163.6 86.7h.9v.9h-.9zM161.6 89.5h.9v.9h-.9zM166.5 89.9h.9v.9h-.9zM174.2 82.3h.9v.9h-.9zM173.3 81.8h.9v.9h-.9zM167.7 90.2h.9v.9h-.9zM174.4 82.0h.9v.9h-.9zM168.3 89.7h.9v.9h-.9zM177.0 84.2h.9v.9h-.9zM172.3 87.7h.9v.9h-.9zM168.2 91.6h.9v.9h-.9zM173.7 86.7h.9v.9h-.9zM165.7 89.9h.9v.9h-.9zM163.4 86.0h.9v.9h-.9zM160.9 87.5h.9v.9h-.9zM170.9 87.6h.9v.9h-.9zM170.1 90.3h.9v.9h-.9zM169.8 90.0h.9v.9h-.9zM168.9 92.9h.9v.9h-.9zM176.7 84.6h.9v.9h-.9zM167.0 87.8h.9v.9h-.9zM166.2 90.3h.9v.9h-.9zM175.5 84.2h.9v.9h-.9zM176.3 83.7h.9v.9h-.9zM169.8 83.3h.9v.9h-.9zM160.9 92.2h.9v.9h-.9zM164.9 85.0h.9v.9h-.9zM172.6 86.6h.9v.9h-.9zM167.8 83.0h.9v.9h-.9zM178.0 86.3h.9v.9h-.9zM161.0 86.6h.9v.9h-.9zM173.3 87.3h.9v.9h-.9zM164.3 83.8h.9v.9h-.9zM175.4 82.9h.9v.9h-.9zM169.7 89.5h.9v.9h-.9zM173.6 82.6h.9v.9h-.9zM165.7 87.9h.9v.9h-.9zM161.3 88.0h.9v.9h-.9zM161.2 82.9h.9v.9h-.9zM166.1 88.4h.9v.9h-.9zM164.1 89.5h.9v.9h-.9zM174.2 81.5h.9v.9h-.9zM176.4 85.4h.9v.9h-.9zM169.7 84.0h.9v.9h-.9zM162.8 86.0h.9v.9h-.9zM168.4 86.7h.9v.9h-.9zM164.8 86.1h.9v.9h-.9zM178.6 89.4h.9v.9h-.9zM169.3 82.1h.9v.9h-.9zM172.2 87.4h.9v.9h-.9zM167.8 89.7h.9v.9h-.9zM156.8 85.4h.9v.9h-.9zM163.5 83.7h.9v.9h-.9zM163.7 90.0h.9v.9h-.9zM170.5 84.6h.9v.9h-.9zM169.8 87.3h.9v.9h-.9zM165.9 90.8h.9v.9h-.9zM166.7 86.3h.9v.9h-.9zM176.1 81.0h.9v.9h-.9zM161.6 81.6h.9v.9h-.9zM164.4 88.7h.9v.9h-.9zM167.0 84.7h.9v.9h-.9zM165.7 88.6h.9v.9h-.9zM167.0 87.9h.9v.9h-.9zM170.5 82.1h.9v.9h-.9zM179.5 87.5h.9v.9h-.9zM160.8 92.5h.9v.9h-.9zM169.7 88.6h.9v.9h-.9zM168.2 83.5h.9v.9h-.9zM168.2 85.7h.9v.9h-.9zM167.5 85.5h.9v.9h-.9zM166.9 86.1h.9v.9h-.9zM173.2 81.9h.9v.9h-.9zM167.0 88.4h.9v.9h-.9zM168.5 87.3h.9v.9h-.9zM169.3 87.4h.9v.9h-.9zM169.1 85.1h.9v.9h-.9zM169.3 90.0h.9v.9h-.9zM174.3 85.1h.9v.9h-.9zM166.5 79.8h.9v.9h-.9zM169.3 84.6h.9v.9h-.9zM168.7 86.5h.9v.9h-.9zM164.7 90.7h.9v.9h-.9zM164.4 87.3h.9v.9h-.9zM163.4 87.9h.9v.9h-.9zM169.4 84.5h.9v.9h-.9zM165.9 89.5h.9v.9h-.9zM163.1 87.4h.9v.9h-.9zM169.7 84.6h.9v.9h-.9zM171.1 83.7h.9v.9h-.9zM160.4 91.2h.9v.9h-.9zM177.3 82.0h.9v.9h-.9zM167.7 82.3h.9v.9h-.9zM169.0 88.2h.9v.9h-.9zM173.9 82.8h.9v.9h-.9zM169.7 87.2h.9v.9h-.9zM166.2 88.5h.9v.9h-.9zM181.4 85.3h.9v.9h-.9zM164.4 91.1h.9v.9h-.9zM168.0 85.3h.9v.9h-.9zM173.2 84.5h.9v.9h-.9zM162.3 85.4h.9v.9h-.9zM170.0 90.8h.9v.9h-.9zM171.4 86.9h.9v.9h-.9zM182.7 85.4h.9v.9h-.9zM164.1 87.4h.9v.9h-.9zM166.9 81.6h.9v.9h-.9zM173.8 89.0h.9v.9h-.9zM169.5 86.6h.9v.9h-.9zM162.9 89.1h.9v.9h-.9zM171.2 85.9h.9v.9h-.9zM170.1 87.9h.9v.9h-.9zM171.8 87.0h.9v.9h-.9zM173.4 80.5h.9v.9h-.9zM175.2 87.2h.9v.9h-.9zM170.6 84.4h.9v.9h-.9zM170.2 84.8h.9v.9h-.9zM164.9 92.8h.9v.9h-.9zM169.1 89.0h.9v.9h-.9zM169.8 85.3h.9v.9h-.9zM165.3 82.7h.9v.9h-.9zM169.6 86.7h.9v.9h-.9zM165.2 89.4h.9v.9h-.9zM176.9 83.4h.9v.9h-.9zM179.0 79.4h.9v.9h-.9zM166.3 85.3h.9v.9h-.9zM170.0 82.7h.9v.9h-.9zM168.0 87.5h.9v.9h-.9zM176.3 86.1h.9v.9h-.9zM172.2 88.2h.9v.9h-.9zM168.7 84.6h.9v.9h-.9zM168.1 87.5h.9v.9h-.9zM170.1 87.6h.9v.9h-.9zM163.4 87.1h.9v.9h-.9zM172.4 84.9h.9v.9h-.9zM167.2 93.0h.9v.9h-.9zM171.9 86.0h.9v.9h-.9zM170.5 88.4h.9v.9h-.9zM174.3 83.4h.9v.9h-.9zM168.9 86.6h.9v.9h-.9zM172.8 80.4h.9v.9h-.9zM164.2 88.2h.9v.9h-.9zM173.2 88.3h.9v.9h-.9zM169.7 92.0h.9v.9h-.9zM171.1 89.1h.9v.9h-.9zM170.0 88.0h.9v.9h-.9zM173.9 84.9h.9v.9h-.9zM158.0 88.8h.9v.9h-.9zM170.5 85.5h.9v.9h-.9zM161.8 90.8h.9v.9h-.9zM174.5 82.3h.9v.9h-.9zM159.6 92.5h.9v.9h-.9zM162.9 86.0h.9v.9h-.9zM158.8 85.3h.9v.9h-.9zM176.6 80.9h.9v.9h-.9zM160.9 84.9h.9v.9h-.9zM168.4 82.9h.9v.9h-.9zM167.2 90.3h.9v.9h-.9zM159.5 89.4h.9v.9h-.9zM167.5 87.7h.9v.9h-.9zM173.5 88.1h.9v.9h-.9zM169.2 89.9h.9v.9h-.9zM173.4 83.5h.9v.9h-.9zM168.3 90.4h.9v.9h-.9zM169.4 87.4h.9v.9h-.9zM167.0 87.2h.9v.9h-.9zM171.2 86.9h.9v.9h-.9zM177.5 79.4h.9v.9h-.9zM170.2 83.9h.9v.9h-.9zM169.9 85.9h.9v.9h-.9zM166.3 89.2h.9v.9h-.9zM164.8 87.0h.9v.9h-.9zM176.5 83.4h.9v.9h-.9zM164.1 91.0h.9v.9h-.9zM165.5 91.7h.9v.9h-.9zM169.2 88.6h.9v.9h-.9zM167.9 90.4h.9v.9h-.9zM178.8 81.8h.9v.9h-.9zM156.5 90.2h.9v.9h-.9zM171.2 86.6h.9v.9h-.9zM172.4 84.4h.9v.9h-.9zM162.8 87.4h.9v.9h-.9zM167.1 91.7h.9v.9h-.9zM171.1 85.2h.9v.9h-.9zM176.6 81.1h.9v.9h-.9zM164.7 89.4h.9v.9h-.9zM162.5 94.0h.9v.9h-.9zM174.1 84.9h.9v.9h-.9zM178.0 86.6h.9v.9h-.9zM166.9 86.1h.9v.9h-.9zM157.1 89.5h.9v.9h-.9zM175.9 82.1h.9v.9h-.9zM167.8 86.5h.9v.9h-.9zM176.4 88.9h.9v.9h-.9zM167.7 83.8h.9v.9h-.9zM168.5 91.2h.9v.9h-.9zM165.8 84.9h.9v.9h-.9zM176.4 83.2h.9v.9h-.9zM177.2 85.8h.9v.9h-.9zM158.5 92.1h.9v.9h-.9zM164.4 89.0h.9v.9h-.9zM176.7 79.1h.9v.9h-.9zM167.4 88.1h.9v.9h-.9z" fill="rgba(40,40,40,0.55)"/>
<path d="M156.9 85.2h.9v.9h-.9zM178.4 86.2h.9v.9h-.9zM161.7 92.0h.9v.9h-.9zM164.1 89.3h.9v.9h-.9zM156.1 95.3h.9v.9h-.9zM160.1 87.4h.9v.9h-.9zM155.3 84.6h.9v.9h-.9zM168.9 88.5h.9v.9h-.9zM161.4 91.2h.9v.9h-.9zM166.4 86.3h.9v.9h-.9zM158.9 92.4h.9v.9h-.9zM160.0 100.1h.9v.9h-.9zM170.7 88.1h.9v.9h-.9zM157.2 91.2h.9v.9h-.9zM152.2 97.7h.9v.9h-.9zM165.4 87.7h.9v.9h-.9zM156.2 86.7h.9v.9h-.9zM160.4 85.5h.9v.9h-.9zM168.5 92.9h.9v.9h-.9zM158.1 93.5h.9v.9h-.9zM168.3 90.2h.9v.9h-.9zM158.9 91.1h.9v.9h-.9zM171.9 97.3h.9v.9h-.9zM171.0 95.2h.9v.9h-.9zM160.2 83.9h.9v.9h-.9zM161.7 90.9h.9v.9h-.9zM158.0 91.4h.9v.9h-.9zM164.2 94.5h.9v.9h-.9zM169.9 89.8h.9v.9h-.9zM154.3 87.7h.9v.9h-.9zM168.5 88.6h.9v.9h-.9zM155.1 82.0h.9v.9h-.9zM157.8 90.7h.9v.9h-.9zM152.3 87.9h.9v.9h-.9zM175.6 93.2h.9v.9h-.9zM163.4 85.7h.9v.9h-.9zM164.5 88.7h.9v.9h-.9zM158.9 86.0h.9v.9h-.9zM169.4 85.5h.9v.9h-.9zM150.4 94.3h.9v.9h-.9zM163.2 88.5h.9v.9h-.9zM176.2 93.1h.9v.9h-.9zM160.7 85.2h.9v.9h-.9zM163.1 91.3h.9v.9h-.9zM167.0 82.4h.9v.9h-.9zM158.1 88.4h.9v.9h-.9zM163.1 88.3h.9v.9h-.9zM168.8 93.7h.9v.9h-.9zM164.2 91.7h.9v.9h-.9zM165.2 89.9h.9v.9h-.9zM160.9 95.0h.9v.9h-.9zM164.9 91.7h.9v.9h-.9zM163.3 93.5h.9v.9h-.9zM171.7 94.6h.9v.9h-.9zM167.3 90.5h.9v.9h-.9zM161.5 89.3h.9v.9h-.9zM148.3 92.4h.9v.9h-.9zM167.3 88.7h.9v.9h-.9zM167.5 92.7h.9v.9h-.9zM157.5 96.3h.9v.9h-.9zM151.0 95.0h.9v.9h-.9zM156.1 88.9h.9v.9h-.9zM168.6 84.4h.9v.9h-.9zM156.6 90.5h.9v.9h-.9zM160.2 90.1h.9v.9h-.9zM164.3 96.3h.9v.9h-.9zM170.3 88.9h.9v.9h-.9zM162.9 89.7h.9v.9h-.9zM162.4 94.4h.9v.9h-.9zM159.7 88.4h.9v.9h-.9zM172.8 90.0h.9v.9h-.9zM169.4 99.3h.9v.9h-.9zM162.4 98.2h.9v.9h-.9zM154.6 93.9h.9v.9h-.9zM158.3 92.1h.9v.9h-.9zM166.5 85.9h.9v.9h-.9zM158.7 93.6h.9v.9h-.9zM168.4 91.1h.9v.9h-.9zM165.2 91.9h.9v.9h-.9zM164.8 88.2h.9v.9h-.9zM166.9 90.7h.9v.9h-.9zM166.0 89.8h.9v.9h-.9zM157.9 92.3h.9v.9h-.9zM161.0 97.9h.9v.9h-.9zM177.0 92.6h.9v.9h-.9zM155.8 82.5h.9v.9h-.9zM160.2 85.9h.9v.9h-.9zM169.4 82.9h.9v.9h-.9zM162.0 86.8h.9v.9h-.9zM158.1 93.6h.9v.9h-.9zM155.1 92.8h.9v.9h-.9zM166.2 87.8h.9v.9h-.9zM169.1 92.1h.9v.9h-.9zM171.4 87.0h.9v.9h-.9zM163.3 83.7h.9v.9h-.9zM169.3 83.7h.9v.9h-.9zM156.8 86.5h.9v.9h-.9zM164.0 97.8h.9v.9h-.9zM158.9 84.1h.9v.9h-.9zM164.0 97.0h.9v.9h-.9zM167.5 97.4h.9v.9h-.9zM169.4 89.8h.9v.9h-.9zM157.1 90.5h.9v.9h-.9zM170.6 87.7h.9v.9h-.9zM160.2 90.6h.9v.9h-.9zM156.8 94.0h.9v.9h-.9zM162.0 90.8h.9v.9h-.9zM154.2 95.7h.9v.9h-.9zM163.0 96.7h.9v.9h-.9zM164.7 92.5h.9v.9h-.9zM161.8 92.4h.9v.9h-.9zM166.2 90.4h.9v.9h-.9zM161.1 92.5h.9v.9h-.9zM163.0 85.2h.9v.9h-.9zM154.4 92.8h.9v.9h-.9zM163.3 91.8h.9v.9h-.9zM157.9 86.4h.9v.9h-.9zM160.3 101.5h.9v.9h-.9zM162.4 85.9h.9v.9h-.9zM164.1 86.4h.9v.9h-.9zM153.1 92.1h.9v.9h-.9zM153.6 81.1h.9v.9h-.9zM161.2 86.8h.9v.9h-.9zM165.8 83.1h.9v.9h-.9zM165.2 85.9h.9v.9h-.9zM168.4 90.1h.9v.9h-.9zM170.8 92.3h.9v.9h-.9zM166.0 96.2h.9v.9h-.9zM162.9 94.8h.9v.9h-.9zM156.8 96.6h.9v.9h-.9zM157.3 93.7h.9v.9h-.9zM160.2 88.4h.9v.9h-.9zM164.6 96.3h.9v.9h-.9zM164.3 88.3h.9v.9h-.9zM163.0 87.7h.9v.9h-.9zM162.1 98.4h.9v.9h-.9zM166.8 94.7h.9v.9h-.9zM164.2 91.8h.9v.9h-.9zM164.8 94.5h.9v.9h-.9zM164.9 95.1h.9v.9h-.9zM159.7 83.9h.9v.9h-.9zM156.8 90.3h.9v.9h-.9zM165.9 84.8h.9v.9h-.9zM165.5 91.3h.9v.9h-.9zM161.7 87.4h.9v.9h-.9zM160.5 97.5h.9v.9h-.9zM176.7 93.3h.9v.9h-.9zM158.4 86.7h.9v.9h-.9zM161.7 90.6h.9v.9h-.9zM164.6 84.7h.9v.9h-.9zM156.1 90.9h.9v.9h-.9zM163.7 93.5h.9v.9h-.9zM173.8 92.0h.9v.9h-.9zM168.6 81.1h.9v.9h-.9zM166.8 89.0h.9v.9h-.9zM166.6 93.3h.9v.9h-.9zM163.7 92.2h.9v.9h-.9zM168.8 96.5h.9v.9h-.9zM162.1 84.3h.9v.9h-.9zM160.5 93.3h.9v.9h-.9zM163.6 87.5h.9v.9h-.9zM168.4 91.7h.9v.9h-.9zM165.0 92.7h.9v.9h-.9zM167.0 94.1h.9v.9h-.9zM150.9 87.8h.9v.9h-.9zM170.2 91.6h.9v.9h-.9zM177.0 84.9h.9v.9h-.9zM171.0 83.7h.9v.9h-.9zM161.1 93.5h.9v.9h-.9zM157.9 90.4h.9v.9h-.9zM164.7 82.6h.9v.9h-.9zM157.1 86.5h.9v.9h-.9zM167.4 90.8h.9v.9h-.9zM159.8 98.5h.9v.9h-.9zM168.8 95.9h.9v.9h-.9zM171.2 94.7h.9v.9h-.9zM150.8 81.8h.9v.9h-.9zM164.8 90.2h.9v.9h-.9zM158.8 93.1h.9v.9h-.9zM154.5 92.7h.9v.9h-.9zM159.3 92.8h.9v.9h-.9zM161.7 89.5h.9v.9h-.9zM169.2 99.5h.9v.9h-.9zM153.9 98.1h.9v.9h-.9zM169.3 90.2h.9v.9h-.9zM175.1 85.8h.9v.9h-.9zM166.6 101.0h.9v.9h-.9zM166.3 87.9h.9v.9h-.9zM162.9 96.7h.9v.9h-.9zM155.9 100.3h.9v.9h-.9zM166.2 86.0h.9v.9h-.9zM165.3 92.2h.9v.9h-.9zM167.4 89.0h.9v.9h-.9zM178.4 93.3h.9v.9h-.9zM167.4 92.3h.9v.9h-.9zM165.6 100.4h.9v.9h-.9zM172.4 93.7h.9v.9h-.9zM154.9 90.7h.9v.9h-.9zM156.1 96.3h.9v.9h-.9zM160.7 89.3h.9v.9h-.9zM159.1 88.9h.9v.9h-.9zM167.2 101.9h.9v.9h-.9zM161.1 86.6h.9v.9h-.9zM173.4 88.3h.9v.9h-.9zM172.1 90.9h.9v.9h-.9zM167.6 85.4h.9v.9h-.9zM160.7 80.2h.9v.9h-.9zM166.7 96.0h.9v.9h-.9zM167.9 86.8h.9v.9h-.9zM156.6 88.0h.9v.9h-.9zM165.1 88.8h.9v.9h-.9zM167.2 85.8h.9v.9h-.9zM164.3 85.3h.9v.9h-.9zM172.4 91.5h.9v.9h-.9zM170.3 102.7h.9v.9h-.9zM158.0 94.4h.9v.9h-.9zM163.7 94.4h.9v.9h-.9zM158.0 83.2h.9v.9h-.9zM166.5 90.6h.9v.9h-.9zM157.8 84.8h.9v.9h-.9zM168.5 94.6h.9v.9h-.9zM165.3 89.6h.9v.9h-.9zM168.8 90.9h.9v.9h-.9zM162.1 90.3h.9v.9h-.9zM154.3 87.8h.9v.9h-.9zM173.6 83.1h.9v.9h-.9zM162.0 93.6h.9v.9h-.9zM171.3 83.8h.9v.9h-.9zM165.6 84.8h.9v.9h-.9zM167.0 89.2h.9v.9h-.9zM174.0 87.2h.9v.9h-.9zM165.0 92.0h.9v.9h-.9zM171.4 95.8h.9v.9h-.9zM154.1 91.9h.9v.9h-.9zM168.2 91.7h.9v.9h-.9zM161.5 90.8h.9v.9h-.9zM162.2 95.0h.9v.9h-.9zM163.1 81.5h.9v.9h-.9zM165.1 92.5h.9v.9h-.9zM172.9 86.0h.9v.9h-.9zM151.9 84.5h.9v.9h-.9zM163.3 90.7h.9v.9h-.9zM158.7 88.8h.9v.9h-.9zM170.0 93.6h.9v.9h-.9zM160.5 96.2h.9v.9h-.9zM165.7 79.1h.9v.9h-.9zM160.6 90.3h.9v.9h-.9zM167.0 100.5h.9v.9h-.9zM169.1 95.0h.9v.9h-.9zM160.6 97.9h.9v.9h-.9zM163.3 91.2h.9v.9h-.9zM154.5 83.5h.9v.9h-.9zM164.8 85.1h.9v.9h-.9zM168.1 94.3h.9v.9h-.9zM159.7 95.5h.9v.9h-.9zM169.7 87.0h.9v.9h-.9zM150.6 89.4h.9v.9h-.9zM151.9 92.0h.9v.9h-.9zM154.7 82.0h.9v.9h-.9zM160.1 89.0h.9v.9h-.9zM163.1 98.8h.9v.9h-.9zM162.5 101.6h.9v.9h-.9zM162.6 90.2h.9v.9h-.9zM167.3 99.9h.9v.9h-.9zM160.2 88.1h.9v.9h-.9zM155.4 86.7h.9v.9h-.9zM155.5 79.5h.9v.9h-.9zM175.7 95.5h.9v.9h-.9zM148.9 88.8h.9v.9h-.9zM161.9 102.4h.9v.9h-.9zM171.7 92.4h.9v.9h-.9zM165.9 91.6h.9v.9h-.9zM158.0 81.7h.9v.9h-.9zM163.0 98.2h.9v.9h-.9zM168.2 88.9h.9v.9h-.9zM170.2 89.9h.9v.9h-.9zM157.6 79.7h.9v.9h-.9zM167.6 95.3h.9v.9h-.9zM164.5 95.7h.9v.9h-.9zM169.6 87.7h.9v.9h-.9zM171.3 91.2h.9v.9h-.9zM160.9 92.7h.9v.9h-.9zM154.3 95.5h.9v.9h-.9zM165.4 91.2h.9v.9h-.9zM173.7 99.3h.9v.9h-.9zM167.1 89.5h.9v.9h-.9zM164.4 87.7h.9v.9h-.9zM177.4 88.4h.9v.9h-.9zM156.8 78.0h.9v.9h-.9zM168.4 86.7h.9v.9h-.9zM159.6 95.8h.9v.9h-.9zM163.3 92.0h.9v.9h-.9zM163.5 86.6h.9v.9h-.9zM172.1 92.5h.9v.9h-.9zM157.4 80.6h.9v.9h-.9zM159.8 89.3h.9v.9h-.9zM153.4 93.3h.9v.9h-.9zM165.9 94.2h.9v.9h-.9zM160.3 86.9h.9v.9h-.9zM165.5 95.3h.9v.9h-.9zM156.6 100.1h.9v.9h-.9zM160.8 88.6h.9v.9h-.9zM169.2 94.4h.9v.9h-.9zM162.0 82.9h.9v.9h-.9zM166.8 80.9h.9v.9h-.9zM166.2 93.8h.9v.9h-.9zM160.9 90.9h.9v.9h-.9zM153.6 91.7h.9v.9h-.9zM168.9 87.8h.9v.9h-.9zM164.0 89.3h.9v.9h-.9zM168.9 94.8h.9v.9h-.9zM150.9 99.3h.9v.9h-.9zM153.1 89.7h.9v.9h-.9zM150.1 82.5h.9v.9h-.9zM157.7 97.1h.9v.9h-.9zM169.3 93.8h.9v.9h-.9zM166.4 94.2h.9v.9h-.9zM162.8 91.7h.9v.9h-.9zM163.8 102.4h.9v.9h-.9zM167.6 91.1h.9v.9h-.9zM161.2 93.3h.9v.9h-.9zM165.4 81.5h.9v.9h-.9zM163.8 87.8h.9v.9h-.9zM149.9 87.3h.9v.9h-.9zM160.7 90.6h.9v.9h-.9zM171.2 92.5h.9v.9h-.9zM160.6 87.0h.9v.9h-.9zM162.1 99.4h.9v.9h-.9zM159.4 85.4h.9v.9h-.9zM160.1 88.5h.9v.9h-.9zM169.7 91.9h.9v.9h-.9zM161.4 84.5h.9v.9h-.9zM156.9 93.6h.9v.9h-.9zM144.3 93.9h.9v.9h-.9zM159.6 89.3h.9v.9h-.9zM151.2 100.3h.9v.9h-.9zM152.1 91.2h.9v.9h-.9zM167.8 92.2h.9v.9h-.9zM167.3 85.9h.9v.9h-.9zM151.5 82.4h.9v.9h-.9zM168.1 87.6h.9v.9h-.9zM165.8 89.1h.9v.9h-.9zM158.3 88.5h.9v.9h-.9zM167.4 94.6h.9v.9h-.9zM153.2 78.8h.9v.9h-.9zM155.8 85.1h.9v.9h-.9zM154.4 81.6h.9v.9h-.9zM156.3 97.5h.9v.9h-.9zM168.3 87.9h.9v.9h-.9zM155.0 88.2h.9v.9h-.9z" fill="rgba(45,45,45,0.55)"/>
<path d="M140.1 97.8h.9v.9h-.9zM153.6 91.2h.9v.9h-.9zM144.5 92.3h.9v.9h-.9zM148.7 89.1h.9v.9h-.9zM133.0 91.4h.9v.9h-.9zM156.1 97.5h.9v.9h-.9zM150.5 96.4h.9v.9h-.9zM151.1 89.9h.9v.9h-.9zM155.9 89.8h.9v.9h-.9zM146.1 92.7h.9v.9h-.9zM146.7 97.1h.9v.9h-.9zM152.2 89.7h.9v.9h-.9zM150.6 93.9h.9v.9h-.9zM145.2 86.4h.9v.9h-.9zM147.5 89.8h.9v.9h-.9zM144.3 96.8h.9v.9h-.9zM152.9 98.0h.9v.9h-.9zM153.8 89.7h.9v.9h-.9zM147.4 91.8h.9v.9h-.9zM161.0 96.9h.9v.9h-.9zM136.8 94.2h.9v.9h-.9zM145.8 92.8h.9v.9h-.9zM159.8 95.9h.9v.9h-.9zM144.8 95.9h.9v.9h-.9zM136.9 100.3h.9v.9h-.9zM157.7 97.2h.9v.9h-.9zM151.3 92.2h.9v.9h-.9zM139.3 95.1h.9v.9h-.9zM153.0 94.1h.9v.9h-.9zM140.0 90.1h.9v.9h-.9zM137.9 91.8h.9v.9h-.9zM146.9 98.8h.9v.9h-.9zM143.7 88.8h.9v.9h-.9zM140.3 99.5h.9v.9h-.9zM145.2 96.2h.9v.9h-.9zM140.6 94.9h.9v.9h-.9zM148.3 97.0h.9v.9h-.9zM147.7 96.8h.9v.9h-.9zM153.3 99.2h.9v.9h-.9zM144.3 93.5h.9v.9h-.9zM138.3 94.8h.9v.9h-.9zM138.3 94.7h.9v.9h-.9zM146.6 102.5h.9v.9h-.9zM158.7 97.7h.9v.9h-.9zM153.3 90.6h.9v.9h-.9zM143.1 93.9h.9v.9h-.9zM154.0 91.5h.9v.9h-.9zM139.6 95.6h.9v.9h-.9zM154.8 95.1h.9v.9h-.9zM145.8 104.3h.9v.9h-.9zM152.4 87.1h.9v.9h-.9zM152.4 98.6h.9v.9h-.9zM145.9 96.8h.9v.9h-.9zM149.7 91.9h.9v.9h-.9zM140.1 94.9h.9v.9h-.9zM147.0 92.9h.9v.9h-.9zM155.3 94.4h.9v.9h-.9zM176.7 96.4h.9v.9h-.9zM152.0 88.4h.9v.9h-.9zM148.7 100.1h.9v.9h-.9zM140.4 94.0h.9v.9h-.9zM155.6 100.2h.9v.9h-.9zM136.2 97.5h.9v.9h-.9zM142.5 100.3h.9v.9h-.9zM150.4 96.9h.9v.9h-.9zM139.6 100.0h.9v.9h-.9zM158.5 94.2h.9v.9h-.9zM155.0 90.9h.9v.9h-.9zM143.9 97.9h.9v.9h-.9zM144.0 98.1h.9v.9h-.9zM139.2 104.1h.9v.9h-.9zM137.2 87.7h.9v.9h-.9zM150.7 93.8h.9v.9h-.9zM152.4 98.7h.9v.9h-.9zM149.7 89.7h.9v.9h-.9zM149.4 93.8h.9v.9h-.9zM144.5 103.7h.9v.9h-.9zM150.7 100.3h.9v.9h-.9zM137.1 92.3h.9v.9h-.9zM148.2 100.6h.9v.9h-.9zM158.4 98.7h.9v.9h-.9zM157.2 97.2h.9v.9h-.9zM144.6 96.7h.9v.9h-.9zM145.4 96.1h.9v.9h-.9zM157.0 90.6h.9v.9h-.9zM160.0 91.7h.9v.9h-.9zM137.5 98.7h.9v.9h-.9zM144.7 95.7h.9v.9h-.9zM150.0 102.1h.9v.9h-.9zM156.1 92.8h.9v.9h-.9zM141.0 85.8h.9v.9h-.9zM152.0 93.2h.9v.9h-.9zM145.7 96.2h.9v.9h-.9zM164.4 95.0h.9v.9h-.9zM150.7 94.9h.9v.9h-.9zM146.4 91.7h.9v.9h-.9zM145.8 101.1h.9v.9h-.9zM154.8 91.6h.9v.9h-.9zM152.7 97.3h.9v.9h-.9zM140.0 94.4h.9v.9h-.9zM148.8 90.0h.9v.9h-.9zM138.8 101.4h.9v.9h-.9zM141.5 85.4h.9v.9h-.9zM138.3 92.3h.9v.9h-.9zM138.5 97.5h.9v.9h-.9zM142.7 93.9h.9v.9h-.9zM141.1 98.5h.9v.9h-.9zM151.3 94.2h.9v.9h-.9zM153.1 92.6h.9v.9h-.9zM146.8 103.7h.9v.9h-.9zM139.8 94.7h.9v.9h-.9zM153.3 93.8h.9v.9h-.9zM133.1 91.9h.9v.9h-.9zM133.9 93.1h.9v.9h-.9zM153.0 97.1h.9v.9h-.9zM152.5 96.8h.9v.9h-.9zM154.5 94.3h.9v.9h-.9zM145.9 92.3h.9v.9h-.9zM139.1 98.5h.9v.9h-.9zM143.5 88.5h.9v.9h-.9zM161.2 95.6h.9v.9h-.9zM161.6 105.4h.9v.9h-.9zM158.7 99.7h.9v.9h-.9zM163.7 107.2h.9v.9h-.9zM159.6 99.2h.9v.9h-.9zM158.9 90.6h.9v.9h-.9zM171.9 103.4h.9v.9h-.9zM166.6 98.5h.9v.9h-.9zM168.9 99.1h.9v.9h-.9zM163.2 106.3h.9v.9h-.9zM167.8 98.9h.9v.9h-.9zM166.8 104.6h.9v.9h-.9zM169.0 100.0h.9v.9h-.9zM174.8 97.0h.9v.9h-.9zM161.8 102.0h.9v.9h-.9zM164.2 97.6h.9v.9h-.9zM162.7 104.9h.9v.9h-.9zM145.4 103.8h.9v.9h-.9zM156.0 100.3h.9v.9h-.9zM163.0 102.4h.9v.9h-.9zM166.1 102.3h.9v.9h-.9zM160.1 98.9h.9v.9h-.9zM168.6 103.6h.9v.9h-.9zM169.4 99.1h.9v.9h-.9zM160.9 102.5h.9v.9h-.9zM170.1 96.2h.9v.9h-.9zM171.7 100.4h.9v.9h-.9zM165.3 101.7h.9v.9h-.9zM158.1 96.8h.9v.9h-.9zM170.3 98.3h.9v.9h-.9zM162.2 97.9h.9v.9h-.9zM161.1 102.9h.9v.9h-.9zM163.6 97.1h.9v.9h-.9zM160.3 101.8h.9v.9h-.9zM168.4 106.1h.9v.9h-.9zM166.9 101.4h.9v.9h-.9zM169.1 93.6h.9v.9h-.9zM165.9 100.5h.9v.9h-.9zM159.0 104.2h.9v.9h-.9zM162.2 98.9h.9v.9h-.9zM167.4 104.5h.9v.9h-.9zM161.0 102.5h.9v.9h-.9zM177.6 101.7h.9v.9h-.9zM161.8 99.0h.9v.9h-.9zM160.1 98.0h.9v.9h-.9zM168.7 99.0h.9v.9h-.9zM166.7 100.3h.9v.9h-.9zM162.9 102.1h.9v.9h-.9zM161.8 101.7h.9v.9h-.9zM165.1 98.8h.9v.9h-.9zM167.2 100.3h.9v.9h-.9zM166.8 101.6h.9v.9h-.9zM161.5 93.5h.9v.9h-.9zM165.2 97.0h.9v.9h-.9zM167.2 96.9h.9v.9h-.9zM166.8 99.2h.9v.9h-.9zM147.6 98.9h.9v.9h-.9zM158.5 99.0h.9v.9h-.9zM159.1 96.6h.9v.9h-.9zM161.8 102.7h.9v.9h-.9zM163.9 101.2h.9v.9h-.9zM167.6 93.5h.9v.9h-.9zM166.1 100.1h.9v.9h-.9zM162.4 95.6h.9v.9h-.9zM163.1 106.9h.9v.9h-.9zM171.8 98.2h.9v.9h-.9zM159.9 98.5h.9v.9h-.9zM164.5 100.4h.9v.9h-.9zM170.8 99.3h.9v.9h-.9zM164.7 99.8h.9v.9h-.9zM152.8 106.3h.9v.9h-.9zM164.9 101.0h.9v.9h-.9zM161.1 103.4h.9v.9h-.9zM162.4 104.6h.9v.9h-.9zM168.3 96.2h.9v.9h-.9zM165.3 106.8h.9v.9h-.9zM161.7 102.8h.9v.9h-.9zM167.5 103.9h.9v.9h-.9zM165.2 96.6h.9v.9h-.9zM163.5 103.3h.9v.9h-.9zM164.5 101.7h.9v.9h-.9zM164.3 97.9h.9v.9h-.9zM160.7 102.3h.9v.9h-.9zM163.1 99.1h.9v.9h-.9zM158.2 100.8h.9v.9h-.9zM156.7 103.7h.9v.9h-.9zM169.5 104.6h.9v.9h-.9zM161.8 102.4h.9v.9h-.9zM162.9 104.9h.9v.9h-.9zM162.3 106.0h.9v.9h-.9zM163.1 95.1h.9v.9h-.9zM163.1 98.1h.9v.9h-.9zM163.3 96.3h.9v.9h-.9zM159.0 100.5h.9v.9h-.9zM167.7 105.9h.9v.9h-.9zM159.5 102.7h.9v.9h-.9zM168.2 95.9h.9v.9h-.9zM153.4 98.9h.9v.9h-.9zM157.7 104.2h.9v.9h-.9zM168.0 98.0h.9v.9h-.9zM162.3 99.7h.9v.9h-.9zM159.6 101.3h.9v.9h-.9zM164.9 92.8h.9v.9h-.9zM157.8 103.2h.9v.9h-.9zM163.4 101.4h.9v.9h-.9zM151.9 102.4h.9v.9h-.9zM160.7 96.2h.9v.9h-.9zM159.8 97.0h.9v.9h-.9zM165.7 97.7h.9v.9h-.9zM167.4 101.1h.9v.9h-.9zM158.7 100.4h.9v.9h-.9zM171.0 100.6h.9v.9h-.9zM160.0 107.2h.9v.9h-.9zM152.7 105.3h.9v.9h-.9zM151.1 97.2h.9v.9h-.9zM170.7 97.5h.9v.9h-.9zM162.6 106.9h.9v.9h-.9zM159.8 98.8h.9v.9h-.9zM159.3 105.6h.9v.9h-.9z" fill="rgba(60,60,60,0.5)"/>
<path d="M180.8 70.5h.9v.9h-.9zM157.3 70.2h.9v.9h-.9zM160.3 69.4h.9v.9h-.9zM164.1 71.8h.9v.9h-.9zM153.7 71.9h.9v.9h-.9zM152.5 71.6h.9v.9h-.9zM158.8 70.2h.9v.9h-.9zM172.6 73.7h.9v.9h-.9zM158.3 73.3h.9v.9h-.9zM161.0 69.9h.9v.9h-.9zM158.1 70.3h.9v.9h-.9zM148.2 72.4h.9v.9h-.9zM179.5 69.2h.9v.9h-.9zM137.5 71.2h.9v.9h-.9zM156.0 70.6h.9v.9h-.9zM169.4 69.4h.9v.9h-.9zM147.9 70.1h.9v.9h-.9zM169.9 68.0h.9v.9h-.9zM177.0 69.6h.9v.9h-.9zM153.8 67.3h.9v.9h-.9zM165.5 74.2h.9v.9h-.9zM151.0 72.9h.9v.9h-.9zM168.8 72.5h.9v.9h-.9zM164.2 71.0h.9v.9h-.9zM165.6 72.1h.9v.9h-.9zM178.2 72.5h.9v.9h-.9zM168.4 72.1h.9v.9h-.9zM178.0 72.0h.9v.9h-.9zM170.2 69.1h.9v.9h-.9zM150.0 71.2h.9v.9h-.9zM166.1 69.7h.9v.9h-.9zM168.6 68.6h.9v.9h-.9zM147.3 68.7h.9v.9h-.9zM177.9 71.2h.9v.9h-.9zM164.0 72.2h.9v.9h-.9zM167.3 68.3h.9v.9h-.9zM153.4 73.3h.9v.9h-.9zM164.0 72.9h.9v.9h-.9zM166.5 69.9h.9v.9h-.9zM159.6 69.8h.9v.9h-.9zM164.1 70.4h.9v.9h-.9zM139.9 72.1h.9v.9h-.9zM178.2 69.9h.9v.9h-.9zM151.0 68.7h.9v.9h-.9zM139.2 71.1h.9v.9h-.9zM152.6 67.2h.9v.9h-.9zM154.0 70.7h.9v.9h-.9zM169.2 72.4h.9v.9h-.9zM153.2 71.0h.9v.9h-.9zM166.3 71.8h.9v.9h-.9zM152.7 71.3h.9v.9h-.9zM187.5 71.7h.9v.9h-.9zM169.2 70.7h.9v.9h-.9zM184.7 69.2h.9v.9h-.9zM152.0 70.1h.9v.9h-.9zM170.5 70.4h.9v.9h-.9zM152.7 72.5h.9v.9h-.9zM169.6 73.1h.9v.9h-.9zM170.7 71.2h.9v.9h-.9zM145.7 69.3h.9v.9h-.9zM150.7 69.3h.9v.9h-.9zM150.4 70.2h.9v.9h-.9zM146.6 72.7h.9v.9h-.9zM155.1 71.0h.9v.9h-.9zM152.6 70.4h.9v.9h-.9zM147.3 69.3h.9v.9h-.9zM164.2 71.9h.9v.9h-.9zM169.2 71.0h.9v.9h-.9zM148.7 70.4h.9v.9h-.9zM157.0 70.7h.9v.9h-.9z" fill="rgba(150,120,130,0.3)"/>
<path d="M177.0 87.6h.9v.9h-.9zM170.0 84.6h.9v.9h-.9zM175.9 84.6h.9v.9h-.9zM175.0 86.0h.9v.9h-.9zM171.2 86.2h.9v.9h-.9zM173.8 86.0h.9v.9h-.9zM170.7 86.4h.9v.9h-.9zM169.1 87.9h.9v.9h-.9zM170.9 88.1h.9v.9h-.9zM168.3 86.6h.9v.9h-.9zM172.5 85.8h.9v.9h-.9zM171.0 85.9h.9v.9h-.9zM172.4 84.8h.9v.9h-.9zM173.3 85.1h.9v.9h-.9zM161.6 87.6h.9v.9h-.9zM172.3 86.7h.9v.9h-.9zM166.8 90.2h.9v.9h-.9zM172.3 88.2h.9v.9h-.9zM169.2 88.7h.9v.9h-.9zM170.8 84.5h.9v.9h-.9zM175.6 86.7h.9v.9h-.9zM165.8 86.7h.9v.9h-.9zM171.5 85.7h.9v.9h-.9zM171.7 88.7h.9v.9h-.9zM165.1 86.4h.9v.9h-.9zM173.3 86.5h.9v.9h-.9zM171.2 86.4h.9v.9h-.9zM169.5 86.3h.9v.9h-.9zM168.5 85.5h.9v.9h-.9zM180.3 83.3h.9v.9h-.9zM169.7 85.8h.9v.9h-.9zM166.5 89.3h.9v.9h-.9zM169.0 88.7h.9v.9h-.9zM169.3 84.4h.9v.9h-.9zM169.7 85.7h.9v.9h-.9zM170.6 85.6h.9v.9h-.9zM167.4 85.4h.9v.9h-.9zM172.0 83.9h.9v.9h-.9zM169.7 86.6h.9v.9h-.9zM167.1 87.1h.9v.9h-.9zM167.9 84.5h.9v.9h-.9zM169.6 85.6h.9v.9h-.9zM173.7 85.9h.9v.9h-.9zM171.7 83.8h.9v.9h-.9zM169.6 85.0h.9v.9h-.9zM171.9 88.2h.9v.9h-.9zM172.3 87.6h.9v.9h-.9zM175.9 81.6h.9v.9h-.9zM168.6 84.7h.9v.9h-.9zM172.5 86.1h.9v.9h-.9zM172.4 83.6h.9v.9h-.9zM168.2 86.6h.9v.9h-.9zM171.3 85.2h.9v.9h-.9zM171.7 86.6h.9v.9h-.9zM168.4 82.9h.9v.9h-.9zM171.5 82.3h.9v.9h-.9zM173.3 83.2h.9v.9h-.9zM174.7 86.3h.9v.9h-.9zM170.4 86.0h.9v.9h-.9zM170.7 83.4h.9v.9h-.9z" fill="rgba(15,15,15,0.8)"/>
<line x1="160.7" y1="38.4" x2="160.7" y2="109.6" stroke="#3a4d78" stroke-width="1.3"/>
<line x1="129.4" y1="79.1" x2="200.7" y2="79.1" stroke="#3a4d78" stroke-width="1.3"/>
<rect x="129.4" y="38.4" width="71.3" height="71.2" fill="none" stroke="#333" stroke-width="1.15"/>
<text x="197.5" y="51.599999999999994" font-size="10" text-anchor="end" fill="#3d4a66" stroke="#3d4a66" stroke-width="0.12">4.5</text>
<text x="131.4" y="107.6" font-size="10" text-anchor="start" fill="#3d4a66" stroke="#3d4a66" stroke-width="0.12">17.3</text>
<text x="197.29999999999998" y="107.6" font-size="10" text-anchor="end" fill="#3d4a66" stroke="#3d4a66" stroke-width="0.12">76.8</text>
<path d="M96.0 176.6h.9v.9h-.9zM96.6 176.8h.9v.9h-.9zM93.8 176.2h.9v.9h-.9zM93.5 174.1h.9v.9h-.9zM95.8 178.4h.9v.9h-.9zM98.1 173.9h.9v.9h-.9zM95.0 175.3h.9v.9h-.9zM96.1 173.6h.9v.9h-.9zM94.4 176.9h.9v.9h-.9zM93.4 175.9h.9v.9h-.9zM91.8 176.4h.9v.9h-.9zM95.3 175.5h.9v.9h-.9zM93.6 175.3h.9v.9h-.9zM93.8 175.6h.9v.9h-.9zM97.3 173.1h.9v.9h-.9zM96.0 176.5h.9v.9h-.9zM97.1 176.4h.9v.9h-.9zM89.8 174.9h.9v.9h-.9zM96.2 175.3h.9v.9h-.9zM92.7 175.7h.9v.9h-.9zM92.1 177.2h.9v.9h-.9zM91.9 175.9h.9v.9h-.9zM98.1 175.4h.9v.9h-.9zM97.0 174.7h.9v.9h-.9zM92.3 173.5h.9v.9h-.9zM91.1 174.6h.9v.9h-.9zM94.5 175.4h.9v.9h-.9zM93.1 175.0h.9v.9h-.9zM99.5 175.4h.9v.9h-.9zM90.1 176.2h.9v.9h-.9zM89.0 175.9h.9v.9h-.9zM93.7 175.7h.9v.9h-.9zM94.5 176.1h.9v.9h-.9zM94.9 175.6h.9v.9h-.9zM96.8 175.3h.9v.9h-.9zM100.7 175.9h.9v.9h-.9zM93.5 173.3h.9v.9h-.9zM92.9 176.9h.9v.9h-.9zM89.2 173.8h.9v.9h-.9zM95.2 176.4h.9v.9h-.9zM97.1 175.4h.9v.9h-.9zM93.7 176.7h.9v.9h-.9zM98.0 175.4h.9v.9h-.9zM94.6 174.2h.9v.9h-.9zM99.0 176.6h.9v.9h-.9zM95.5 175.6h.9v.9h-.9zM91.3 175.5h.9v.9h-.9zM92.6 175.5h.9v.9h-.9zM89.9 176.6h.9v.9h-.9zM89.3 176.3h.9v.9h-.9zM95.3 175.6h.9v.9h-.9zM97.1 173.5h.9v.9h-.9zM100.4 174.9h.9v.9h-.9zM94.3 175.5h.9v.9h-.9zM93.8 177.5h.9v.9h-.9zM91.2 175.8h.9v.9h-.9zM97.5 175.3h.9v.9h-.9zM95.7 176.8h.9v.9h-.9zM92.7 175.2h.9v.9h-.9zM96.6 175.3h.9v.9h-.9zM96.2 175.6h.9v.9h-.9zM88.9 173.6h.9v.9h-.9zM96.7 176.5h.9v.9h-.9zM94.9 175.9h.9v.9h-.9zM93.3 175.0h.9v.9h-.9zM93.2 174.0h.9v.9h-.9zM99.7 175.6h.9v.9h-.9zM99.1 177.0h.9v.9h-.9zM100.0 174.6h.9v.9h-.9zM91.1 174.1h.9v.9h-.9zM92.5 175.9h.9v.9h-.9zM97.2 173.5h.9v.9h-.9zM90.9 172.7h.9v.9h-.9zM92.3 174.8h.9v.9h-.9zM89.1 174.5h.9v.9h-.9zM100.1 175.0h.9v.9h-.9zM97.7 174.7h.9v.9h-.9zM95.9 175.8h.9v.9h-.9zM95.2 175.1h.9v.9h-.9zM93.2 174.6h.9v.9h-.9zM93.3 174.8h.9v.9h-.9zM96.3 176.1h.9v.9h-.9zM92.4 176.5h.9v.9h-.9zM98.2 176.5h.9v.9h-.9zM93.0 176.2h.9v.9h-.9zM91.9 171.4h.9v.9h-.9zM98.4 174.2h.9v.9h-.9zM94.1 175.0h.9v.9h-.9zM96.2 175.6h.9v.9h-.9zM93.3 173.4h.9v.9h-.9zM87.7 177.1h.9v.9h-.9zM96.1 175.7h.9v.9h-.9zM90.5 174.6h.9v.9h-.9zM97.7 175.6h.9v.9h-.9zM89.8 175.0h.9v.9h-.9zM88.9 174.5h.9v.9h-.9zM95.4 176.0h.9v.9h-.9zM95.8 174.8h.9v.9h-.9zM94.8 173.7h.9v.9h-.9zM90.9 174.6h.9v.9h-.9zM97.2 175.2h.9v.9h-.9zM90.1 174.1h.9v.9h-.9zM93.1 176.9h.9v.9h-.9zM92.1 174.1h.9v.9h-.9zM93.4 177.5h.9v.9h-.9zM97.1 176.4h.9v.9h-.9zM92.6 174.2h.9v.9h-.9zM96.2 175.5h.9v.9h-.9zM96.6 176.8h.9v.9h-.9zM89.4 175.1h.9v.9h-.9zM91.0 173.9h.9v.9h-.9zM93.3 175.5h.9v.9h-.9zM92.7 177.8h.9v.9h-.9zM95.4 173.6h.9v.9h-.9zM88.7 176.0h.9v.9h-.9zM96.7 175.4h.9v.9h-.9zM96.7 175.2h.9v.9h-.9zM94.0 174.9h.9v.9h-.9zM90.4 175.0h.9v.9h-.9zM94.5 176.6h.9v.9h-.9zM92.9 176.1h.9v.9h-.9zM96.2 174.2h.9v.9h-.9zM94.2 177.3h.9v.9h-.9zM96.7 173.8h.9v.9h-.9zM93.2 176.2h.9v.9h-.9zM98.8 175.6h.9v.9h-.9zM87.6 176.8h.9v.9h-.9zM91.5 175.8h.9v.9h-.9zM96.0 176.7h.9v.9h-.9zM90.0 175.4h.9v.9h-.9zM96.7 176.6h.9v.9h-.9zM90.8 175.8h.9v.9h-.9zM94.8 178.0h.9v.9h-.9zM91.8 174.6h.9v.9h-.9zM93.2 176.8h.9v.9h-.9zM95.0 175.9h.9v.9h-.9zM94.2 175.6h.9v.9h-.9zM93.4 174.7h.9v.9h-.9zM101.0 175.9h.9v.9h-.9zM94.5 173.6h.9v.9h-.9zM91.6 173.7h.9v.9h-.9zM97.3 176.2h.9v.9h-.9zM97.0 173.5h.9v.9h-.9zM98.2 177.1h.9v.9h-.9zM99.9 175.1h.9v.9h-.9zM91.7 175.7h.9v.9h-.9zM97.7 175.5h.9v.9h-.9zM97.9 175.9h.9v.9h-.9zM94.5 175.1h.9v.9h-.9zM95.2 174.9h.9v.9h-.9zM85.5 175.2h.9v.9h-.9zM92.8 176.6h.9v.9h-.9zM99.9 176.8h.9v.9h-.9zM89.1 176.9h.9v.9h-.9zM92.9 175.8h.9v.9h-.9zM95.4 175.1h.9v.9h-.9zM96.2 173.4h.9v.9h-.9zM99.4 176.2h.9v.9h-.9zM89.2 176.4h.9v.9h-.9zM94.6 174.9h.9v.9h-.9zM97.1 176.4h.9v.9h-.9zM90.6 176.9h.9v.9h-.9zM94.4 175.5h.9v.9h-.9zM100.2 176.7h.9v.9h-.9zM98.4 175.8h.9v.9h-.9zM96.1 173.3h.9v.9h-.9zM86.7 174.8h.9v.9h-.9zM94.1 174.9h.9v.9h-.9zM95.7 176.0h.9v.9h-.9zM93.6 174.4h.9v.9h-.9zM94.3 174.9h.9v.9h-.9zM103.8 174.2h.9v.9h-.9zM93.9 175.3h.9v.9h-.9zM91.6 175.5h.9v.9h-.9zM95.2 176.6h.9v.9h-.9zM93.6 176.3h.9v.9h-.9zM93.6 175.6h.9v.9h-.9zM94.2 175.7h.9v.9h-.9zM96.8 175.5h.9v.9h-.9zM95.2 175.5h.9v.9h-.9zM90.9 177.2h.9v.9h-.9zM94.1 172.4h.9v.9h-.9zM95.9 175.2h.9v.9h-.9zM93.1 175.8h.9v.9h-.9zM97.9 176.7h.9v.9h-.9zM96.8 174.1h.9v.9h-.9zM91.5 175.8h.9v.9h-.9zM95.5 176.4h.9v.9h-.9zM100.5 174.9h.9v.9h-.9zM99.2 173.1h.9v.9h-.9zM94.3 175.0h.9v.9h-.9zM97.2 174.0h.9v.9h-.9zM92.5 176.2h.9v.9h-.9zM90.2 174.4h.9v.9h-.9zM96.2 177.5h.9v.9h-.9zM95.2 175.6h.9v.9h-.9zM96.0 174.4h.9v.9h-.9zM94.4 174.8h.9v.9h-.9zM95.5 174.1h.9v.9h-.9zM93.0 175.9h.9v.9h-.9zM95.9 177.2h.9v.9h-.9zM97.0 175.1h.9v.9h-.9zM94.3 176.5h.9v.9h-.9zM96.9 174.3h.9v.9h-.9zM89.2 175.8h.9v.9h-.9zM92.1 178.2h.9v.9h-.9zM98.8 173.7h.9v.9h-.9zM99.8 176.9h.9v.9h-.9zM95.3 176.8h.9v.9h-.9zM94.2 173.1h.9v.9h-.9zM90.7 173.7h.9v.9h-.9zM95.6 174.2h.9v.9h-.9zM96.8 176.6h.9v.9h-.9zM90.1 174.9h.9v.9h-.9zM96.2 175.2h.9v.9h-.9zM96.0 176.2h.9v.9h-.9zM95.8 175.5h.9v.9h-.9zM91.1 175.7h.9v.9h-.9zM96.1 175.0h.9v.9h-.9zM90.0 176.7h.9v.9h-.9zM99.0 174.5h.9v.9h-.9zM94.9 177.4h.9v.9h-.9zM91.0 175.0h.9v.9h-.9zM98.5 174.4h.9v.9h-.9zM98.0 176.2h.9v.9h-.9zM92.5 175.9h.9v.9h-.9zM101.1 173.0h.9v.9h-.9zM91.5 175.7h.9v.9h-.9zM95.4 173.8h.9v.9h-.9zM98.0 174.4h.9v.9h-.9zM87.7 176.3h.9v.9h-.9zM97.5 174.4h.9v.9h-.9zM94.3 175.8h.9v.9h-.9zM94.5 174.9h.9v.9h-.9zM91.3 177.7h.9v.9h-.9zM95.5 175.3h.9v.9h-.9zM91.2 174.0h.9v.9h-.9zM91.6 174.1h.9v.9h-.9zM93.2 174.3h.9v.9h-.9zM90.8 175.5h.9v.9h-.9zM99.2 175.4h.9v.9h-.9zM90.5 176.5h.9v.9h-.9zM92.2 175.6h.9v.9h-.9zM93.6 175.5h.9v.9h-.9zM94.5 175.8h.9v.9h-.9zM96.9 175.2h.9v.9h-.9zM97.0 175.7h.9v.9h-.9zM93.6 176.3h.9v.9h-.9zM93.3 176.3h.9v.9h-.9zM94.6 174.7h.9v.9h-.9zM97.0 173.3h.9v.9h-.9zM96.6 174.4h.9v.9h-.9zM93.0 175.7h.9v.9h-.9zM88.3 172.4h.9v.9h-.9zM100.9 174.8h.9v.9h-.9zM97.4 175.9h.9v.9h-.9zM95.3 174.7h.9v.9h-.9zM95.5 174.0h.9v.9h-.9zM92.9 177.5h.9v.9h-.9zM91.5 177.0h.9v.9h-.9zM93.5 175.1h.9v.9h-.9zM93.8 177.0h.9v.9h-.9zM92.6 176.9h.9v.9h-.9zM90.1 174.0h.9v.9h-.9zM93.6 178.6h.9v.9h-.9zM96.2 174.2h.9v.9h-.9zM93.0 175.1h.9v.9h-.9zM94.6 174.1h.9v.9h-.9zM88.3 175.5h.9v.9h-.9zM93.9 173.8h.9v.9h-.9zM94.1 175.4h.9v.9h-.9zM90.8 176.7h.9v.9h-.9zM89.3 175.6h.9v.9h-.9zM95.7 175.0h.9v.9h-.9zM92.1 177.2h.9v.9h-.9zM96.0 174.3h.9v.9h-.9zM93.2 176.5h.9v.9h-.9zM96.4 175.0h.9v.9h-.9zM93.5 175.6h.9v.9h-.9zM90.0 175.4h.9v.9h-.9zM94.2 175.5h.9v.9h-.9zM93.5 175.3h.9v.9h-.9zM96.5 174.4h.9v.9h-.9zM93.1 174.7h.9v.9h-.9zM93.3 175.9h.9v.9h-.9zM97.1 175.2h.9v.9h-.9zM98.0 174.0h.9v.9h-.9zM96.8 174.5h.9v.9h-.9zM97.6 174.5h.9v.9h-.9zM95.9 175.3h.9v.9h-.9zM96.8 175.6h.9v.9h-.9zM97.1 175.5h.9v.9h-.9zM95.7 174.6h.9v.9h-.9zM94.7 175.4h.9v.9h-.9zM94.9 173.7h.9v.9h-.9zM101.7 171.9h.9v.9h-.9zM94.5 175.3h.9v.9h-.9zM93.8 173.4h.9v.9h-.9zM93.4 174.2h.9v.9h-.9zM94.4 173.9h.9v.9h-.9zM95.2 176.1h.9v.9h-.9zM91.1 173.9h.9v.9h-.9zM88.6 175.7h.9v.9h-.9zM95.4 174.8h.9v.9h-.9zM89.7 173.9h.9v.9h-.9zM95.3 173.4h.9v.9h-.9zM94.9 175.9h.9v.9h-.9zM98.0 175.8h.9v.9h-.9zM99.5 176.3h.9v.9h-.9zM95.6 177.5h.9v.9h-.9zM92.8 175.7h.9v.9h-.9zM91.0 175.7h.9v.9h-.9zM92.1 175.2h.9v.9h-.9zM94.6 175.5h.9v.9h-.9zM88.3 174.9h.9v.9h-.9zM94.7 174.3h.9v.9h-.9zM94.5 177.7h.9v.9h-.9zM96.4 173.1h.9v.9h-.9zM93.5 175.6h.9v.9h-.9zM94.8 175.9h.9v.9h-.9zM92.3 175.5h.9v.9h-.9zM93.1 174.2h.9v.9h-.9zM89.2 175.1h.9v.9h-.9zM94.9 174.8h.9v.9h-.9zM99.1 174.0h.9v.9h-.9zM95.0 175.3h.9v.9h-.9zM95.6 174.8h.9v.9h-.9zM91.6 174.6h.9v.9h-.9zM98.8 176.1h.9v.9h-.9zM92.2 174.0h.9v.9h-.9zM96.9 175.8h.9v.9h-.9zM94.8 174.6h.9v.9h-.9zM91.6 175.8h.9v.9h-.9zM97.6 175.4h.9v.9h-.9zM94.5 175.6h.9v.9h-.9zM95.0 174.1h.9v.9h-.9zM95.9 174.4h.9v.9h-.9zM94.4 174.3h.9v.9h-.9zM93.4 175.5h.9v.9h-.9zM95.9 176.2h.9v.9h-.9zM93.3 176.6h.9v.9h-.9zM94.7 174.7h.9v.9h-.9zM92.5 175.4h.9v.9h-.9zM90.0 173.4h.9v.9h-.9zM92.5 172.6h.9v.9h-.9zM93.0 174.3h.9v.9h-.9zM94.5 174.5h.9v.9h-.9zM98.1 173.4h.9v.9h-.9zM89.4 173.2h.9v.9h-.9zM94.9 175.9h.9v.9h-.9zM87.9 174.3h.9v.9h-.9zM91.4 173.3h.9v.9h-.9zM93.0 178.1h.9v.9h-.9zM87.7 175.5h.9v.9h-.9zM88.9 174.9h.9v.9h-.9zM95.0 176.1h.9v.9h-.9zM94.7 174.4h.9v.9h-.9zM94.2 177.2h.9v.9h-.9zM92.1 173.4h.9v.9h-.9zM101.0 173.7h.9v.9h-.9zM94.0 175.1h.9v.9h-.9zM91.9 174.4h.9v.9h-.9zM99.5 177.0h.9v.9h-.9zM96.3 173.4h.9v.9h-.9zM93.4 174.4h.9v.9h-.9zM98.1 175.6h.9v.9h-.9zM95.0 175.9h.9v.9h-.9zM96.4 176.5h.9v.9h-.9zM95.2 175.7h.9v.9h-.9zM91.4 177.9h.9v.9h-.9zM97.4 174.7h.9v.9h-.9zM95.0 175.5h.9v.9h-.9zM91.5 176.3h.9v.9h-.9zM92.2 174.9h.9v.9h-.9zM97.4 174.9h.9v.9h-.9zM93.4 174.7h.9v.9h-.9zM94.6 174.5h.9v.9h-.9zM96.5 173.9h.9v.9h-.9zM94.9 174.6h.9v.9h-.9zM89.9 173.4h.9v.9h-.9zM96.4 175.7h.9v.9h-.9zM97.3 173.4h.9v.9h-.9zM97.1 177.7h.9v.9h-.9zM99.4 177.3h.9v.9h-.9zM95.6 176.6h.9v.9h-.9zM96.8 175.0h.9v.9h-.9zM99.3 174.5h.9v.9h-.9zM93.6 176.7h.9v.9h-.9zM99.7 175.5h.9v.9h-.9zM99.7 175.9h.9v.9h-.9zM96.8 174.4h.9v.9h-.9zM100.0 176.5h.9v.9h-.9zM97.1 174.3h.9v.9h-.9zM91.9 175.4h.9v.9h-.9zM97.9 173.2h.9v.9h-.9zM95.5 174.5h.9v.9h-.9zM95.7 175.8h.9v.9h-.9zM95.0 174.7h.9v.9h-.9zM98.6 174.7h.9v.9h-.9zM96.2 176.2h.9v.9h-.9zM92.4 175.2h.9v.9h-.9zM96.0 176.7h.9v.9h-.9zM96.7 172.4h.9v.9h-.9zM92.3 175.9h.9v.9h-.9zM93.2 175.8h.9v.9h-.9zM93.4 173.4h.9v.9h-.9zM92.7 173.7h.9v.9h-.9zM95.5 176.3h.9v.9h-.9zM97.6 174.0h.9v.9h-.9zM100.2 174.5h.9v.9h-.9zM98.1 176.0h.9v.9h-.9zM97.6 174.8h.9v.9h-.9zM97.9 175.8h.9v.9h-.9zM98.5 174.2h.9v.9h-.9zM93.4 175.6h.9v.9h-.9zM96.6 176.5h.9v.9h-.9zM95.5 175.6h.9v.9h-.9zM94.1 172.6h.9v.9h-.9zM93.1 176.0h.9v.9h-.9zM93.0 175.3h.9v.9h-.9zM93.7 174.2h.9v.9h-.9zM90.8 176.9h.9v.9h-.9zM96.1 173.2h.9v.9h-.9zM94.4 177.5h.9v.9h-.9zM94.8 174.5h.9v.9h-.9zM95.5 177.1h.9v.9h-.9zM96.7 175.2h.9v.9h-.9zM92.7 173.6h.9v.9h-.9zM94.2 175.3h.9v.9h-.9zM89.7 175.6h.9v.9h-.9zM87.8 175.9h.9v.9h-.9zM88.7 176.5h.9v.9h-.9zM99.1 174.2h.9v.9h-.9zM89.0 175.8h.9v.9h-.9zM95.9 176.1h.9v.9h-.9zM98.9 174.9h.9v.9h-.9zM93.1 174.1h.9v.9h-.9zM99.4 174.1h.9v.9h-.9zM100.0 176.1h.9v.9h-.9zM97.3 176.2h.9v.9h-.9zM101.6 174.2h.9v.9h-.9zM96.4 173.6h.9v.9h-.9zM92.3 176.7h.9v.9h-.9zM96.1 173.4h.9v.9h-.9zM93.2 175.4h.9v.9h-.9zM90.6 174.3h.9v.9h-.9zM90.7 173.1h.9v.9h-.9zM101.4 175.4h.9v.9h-.9zM92.9 175.0h.9v.9h-.9zM94.4 177.0h.9v.9h-.9zM92.5 177.9h.9v.9h-.9zM94.9 175.0h.9v.9h-.9zM93.8 176.5h.9v.9h-.9zM93.3 176.5h.9v.9h-.9zM90.9 174.6h.9v.9h-.9zM90.3 174.2h.9v.9h-.9zM92.3 177.2h.9v.9h-.9zM95.4 174.8h.9v.9h-.9zM100.8 175.2h.9v.9h-.9zM97.7 174.9h.9v.9h-.9zM100.0 175.1h.9v.9h-.9zM96.0 174.5h.9v.9h-.9zM94.3 176.1h.9v.9h-.9zM90.6 176.7h.9v.9h-.9zM94.6 174.8h.9v.9h-.9zM88.1 173.6h.9v.9h-.9zM93.6 175.3h.9v.9h-.9zM99.4 173.5h.9v.9h-.9zM95.5 174.5h.9v.9h-.9zM97.9 176.7h.9v.9h-.9zM93.4 178.0h.9v.9h-.9zM90.4 175.7h.9v.9h-.9zM93.1 174.0h.9v.9h-.9zM93.4 176.2h.9v.9h-.9zM98.2 172.6h.9v.9h-.9zM100.5 174.4h.9v.9h-.9zM92.3 177.1h.9v.9h-.9zM93.5 176.1h.9v.9h-.9zM94.1 173.6h.9v.9h-.9zM93.5 173.2h.9v.9h-.9zM90.8 176.3h.9v.9h-.9zM94.9 175.2h.9v.9h-.9zM95.7 174.5h.9v.9h-.9zM95.7 175.7h.9v.9h-.9zM91.0 174.5h.9v.9h-.9zM94.2 172.9h.9v.9h-.9zM89.4 176.2h.9v.9h-.9zM97.3 174.5h.9v.9h-.9zM91.5 174.0h.9v.9h-.9zM93.8 173.6h.9v.9h-.9zM93.2 175.5h.9v.9h-.9zM92.8 174.3h.9v.9h-.9zM91.4 176.0h.9v.9h-.9zM89.3 174.9h.9v.9h-.9zM99.8 176.5h.9v.9h-.9zM95.4 174.8h.9v.9h-.9zM95.4 174.5h.9v.9h-.9zM100.9 172.9h.9v.9h-.9zM94.3 173.9h.9v.9h-.9zM96.2 176.1h.9v.9h-.9zM94.7 178.9h.9v.9h-.9zM98.2 173.7h.9v.9h-.9zM96.1 174.0h.9v.9h-.9zM95.5 175.6h.9v.9h-.9zM93.8 175.8h.9v.9h-.9zM95.4 174.4h.9v.9h-.9zM98.1 175.3h.9v.9h-.9zM88.4 173.3h.9v.9h-.9zM94.2 174.9h.9v.9h-.9zM93.3 176.3h.9v.9h-.9zM93.7 177.2h.9v.9h-.9zM88.7 175.0h.9v.9h-.9zM96.8 174.9h.9v.9h-.9zM92.1 175.8h.9v.9h-.9zM93.9 176.6h.9v.9h-.9zM93.1 175.8h.9v.9h-.9zM89.6 174.3h.9v.9h-.9zM93.3 175.7h.9v.9h-.9zM89.1 176.4h.9v.9h-.9zM91.8 174.4h.9v.9h-.9zM93.7 173.6h.9v.9h-.9zM94.6 175.8h.9v.9h-.9zM94.8 175.7h.9v.9h-.9zM94.2 176.4h.9v.9h-.9zM101.0 175.3h.9v.9h-.9zM95.9 174.5h.9v.9h-.9zM90.9 174.7h.9v.9h-.9zM92.8 174.0h.9v.9h-.9zM92.6 174.1h.9v.9h-.9zM94.1 174.6h.9v.9h-.9zM92.8 174.7h.9v.9h-.9zM92.0 176.6h.9v.9h-.9zM99.5 173.8h.9v.9h-.9zM94.7 175.2h.9v.9h-.9zM93.6 174.5h.9v.9h-.9zM93.8 177.0h.9v.9h-.9zM93.9 175.6h.9v.9h-.9zM98.8 174.8h.9v.9h-.9zM96.0 176.2h.9v.9h-.9zM98.0 175.3h.9v.9h-.9zM85.2 174.7h.9v.9h-.9zM95.6 177.1h.9v.9h-.9zM97.8 176.1h.9v.9h-.9zM100.5 177.3h.9v.9h-.9zM94.7 176.6h.9v.9h-.9zM89.5 176.2h.9v.9h-.9zM96.4 175.4h.9v.9h-.9zM92.8 173.9h.9v.9h-.9zM89.2 176.1h.9v.9h-.9zM92.7 175.3h.9v.9h-.9z" fill="rgba(15,15,15,0.8)"/>
<path d="M87.2 174.7h.9v.9h-.9zM84.8 173.3h.9v.9h-.9zM82.4 175.1h.9v.9h-.9zM81.3 175.2h.9v.9h-.9zM87.3 180.0h.9v.9h-.9zM89.3 175.9h.9v.9h-.9zM83.8 177.6h.9v.9h-.9zM86.4 177.0h.9v.9h-.9zM89.7 175.0h.9v.9h-.9zM81.9 176.1h.9v.9h-.9zM83.7 177.5h.9v.9h-.9zM81.0 175.7h.9v.9h-.9zM88.9 175.7h.9v.9h-.9zM85.8 176.1h.9v.9h-.9zM83.2 173.7h.9v.9h-.9zM79.1 174.5h.9v.9h-.9zM84.2 175.9h.9v.9h-.9zM88.3 176.1h.9v.9h-.9zM83.8 174.4h.9v.9h-.9zM83.4 175.1h.9v.9h-.9zM87.1 175.3h.9v.9h-.9zM80.6 175.3h.9v.9h-.9zM85.0 176.3h.9v.9h-.9zM86.9 175.6h.9v.9h-.9zM82.1 175.7h.9v.9h-.9zM82.0 173.8h.9v.9h-.9zM85.7 174.2h.9v.9h-.9zM84.5 175.9h.9v.9h-.9zM84.0 173.6h.9v.9h-.9zM85.6 175.8h.9v.9h-.9zM85.6 174.7h.9v.9h-.9zM81.6 174.5h.9v.9h-.9zM82.5 176.3h.9v.9h-.9zM86.4 174.7h.9v.9h-.9zM88.8 174.5h.9v.9h-.9zM89.6 174.7h.9v.9h-.9zM81.9 175.5h.9v.9h-.9zM88.7 178.8h.9v.9h-.9zM87.5 173.0h.9v.9h-.9zM84.8 175.5h.9v.9h-.9zM86.6 175.2h.9v.9h-.9zM87.8 176.6h.9v.9h-.9zM91.1 175.0h.9v.9h-.9zM81.2 172.5h.9v.9h-.9zM87.0 177.1h.9v.9h-.9zM84.4 174.2h.9v.9h-.9zM84.2 175.4h.9v.9h-.9zM88.9 173.8h.9v.9h-.9zM87.7 174.2h.9v.9h-.9zM81.4 174.9h.9v.9h-.9zM83.9 176.5h.9v.9h-.9zM85.7 176.5h.9v.9h-.9zM80.0 174.8h.9v.9h-.9zM87.9 176.1h.9v.9h-.9zM84.6 175.0h.9v.9h-.9zM85.5 175.6h.9v.9h-.9zM86.1 175.7h.9v.9h-.9zM91.2 176.2h.9v.9h-.9zM85.0 174.7h.9v.9h-.9zM83.7 175.3h.9v.9h-.9zM90.9 175.7h.9v.9h-.9zM83.2 175.6h.9v.9h-.9zM83.1 174.5h.9v.9h-.9zM80.1 177.5h.9v.9h-.9zM88.6 174.9h.9v.9h-.9zM85.8 176.4h.9v.9h-.9zM86.5 175.7h.9v.9h-.9zM85.5 176.9h.9v.9h-.9zM84.4 172.9h.9v.9h-.9zM82.2 177.9h.9v.9h-.9zM82.2 175.2h.9v.9h-.9zM86.4 174.0h.9v.9h-.9zM85.3 175.6h.9v.9h-.9zM90.5 178.2h.9v.9h-.9zM82.3 176.1h.9v.9h-.9zM83.2 174.0h.9v.9h-.9zM81.4 174.9h.9v.9h-.9zM89.7 177.1h.9v.9h-.9zM80.6 173.8h.9v.9h-.9zM87.6 175.2h.9v.9h-.9zM89.9 175.1h.9v.9h-.9zM84.4 178.0h.9v.9h-.9zM87.4 175.1h.9v.9h-.9zM77.5 177.0h.9v.9h-.9zM83.6 174.7h.9v.9h-.9zM79.2 174.5h.9v.9h-.9zM85.5 176.7h.9v.9h-.9zM84.9 176.2h.9v.9h-.9zM82.2 173.4h.9v.9h-.9zM88.2 176.2h.9v.9h-.9zM86.1 176.2h.9v.9h-.9zM83.1 174.7h.9v.9h-.9zM83.1 175.7h.9v.9h-.9zM79.8 175.8h.9v.9h-.9zM84.3 174.9h.9v.9h-.9zM92.2 174.8h.9v.9h-.9zM82.4 174.7h.9v.9h-.9zM86.4 175.1h.9v.9h-.9zM83.0 173.9h.9v.9h-.9zM87.7 175.4h.9v.9h-.9zM86.4 173.7h.9v.9h-.9zM84.1 175.6h.9v.9h-.9zM78.7 175.4h.9v.9h-.9zM83.1 174.2h.9v.9h-.9zM89.1 176.5h.9v.9h-.9zM84.1 177.8h.9v.9h-.9zM87.1 177.0h.9v.9h-.9zM83.2 173.8h.9v.9h-.9zM78.5 177.0h.9v.9h-.9zM86.4 175.7h.9v.9h-.9zM86.0 175.4h.9v.9h-.9zM82.9 174.8h.9v.9h-.9zM83.6 175.5h.9v.9h-.9zM85.9 177.1h.9v.9h-.9zM82.9 176.1h.9v.9h-.9zM86.1 175.0h.9v.9h-.9zM84.2 174.7h.9v.9h-.9zM76.8 175.0h.9v.9h-.9zM84.4 176.2h.9v.9h-.9zM82.9 177.7h.9v.9h-.9zM82.0 174.2h.9v.9h-.9zM86.3 175.5h.9v.9h-.9zM83.2 175.0h.9v.9h-.9zM86.8 174.6h.9v.9h-.9zM88.7 175.9h.9v.9h-.9zM85.4 176.1h.9v.9h-.9zM79.6 173.8h.9v.9h-.9zM82.4 174.2h.9v.9h-.9zM88.1 176.9h.9v.9h-.9zM84.0 175.8h.9v.9h-.9zM82.1 176.1h.9v.9h-.9zM84.6 174.9h.9v.9h-.9zM86.7 175.0h.9v.9h-.9zM85.8 176.0h.9v.9h-.9zM87.2 174.9h.9v.9h-.9zM82.1 174.1h.9v.9h-.9zM84.0 175.5h.9v.9h-.9zM84.1 176.5h.9v.9h-.9zM84.9 174.2h.9v.9h-.9zM77.7 176.7h.9v.9h-.9zM84.1 176.3h.9v.9h-.9zM80.3 174.4h.9v.9h-.9zM89.7 175.5h.9v.9h-.9zM90.3 175.4h.9v.9h-.9zM90.7 176.2h.9v.9h-.9zM87.7 176.3h.9v.9h-.9zM83.3 173.9h.9v.9h-.9zM88.3 173.9h.9v.9h-.9zM84.2 176.7h.9v.9h-.9zM87.0 175.6h.9v.9h-.9zM81.8 176.0h.9v.9h-.9zM82.9 175.9h.9v.9h-.9zM86.5 177.3h.9v.9h-.9zM91.1 174.0h.9v.9h-.9zM84.8 176.8h.9v.9h-.9zM92.7 174.5h.9v.9h-.9zM94.5 176.3h.9v.9h-.9zM80.5 177.1h.9v.9h-.9zM84.8 173.8h.9v.9h-.9zM81.6 175.9h.9v.9h-.9zM84.5 175.1h.9v.9h-.9zM83.1 175.1h.9v.9h-.9zM84.7 175.5h.9v.9h-.9zM88.3 174.2h.9v.9h-.9zM88.2 174.3h.9v.9h-.9zM85.8 176.2h.9v.9h-.9zM85.0 176.5h.9v.9h-.9zM85.4 174.8h.9v.9h-.9zM85.4 173.7h.9v.9h-.9zM86.9 178.2h.9v.9h-.9zM85.0 176.8h.9v.9h-.9zM86.7 175.9h.9v.9h-.9zM80.4 174.2h.9v.9h-.9zM87.7 174.8h.9v.9h-.9zM91.0 175.7h.9v.9h-.9zM85.6 174.3h.9v.9h-.9zM80.1 177.4h.9v.9h-.9zM89.6 175.6h.9v.9h-.9zM83.8 175.9h.9v.9h-.9zM74.6 174.2h.9v.9h-.9zM84.2 174.4h.9v.9h-.9zM87.0 174.5h.9v.9h-.9zM86.3 175.8h.9v.9h-.9zM89.2 175.1h.9v.9h-.9zM87.1 175.1h.9v.9h-.9zM85.4 175.8h.9v.9h-.9zM78.1 175.7h.9v.9h-.9zM81.1 177.2h.9v.9h-.9zM85.6 175.2h.9v.9h-.9zM87.3 174.3h.9v.9h-.9zM81.4 175.4h.9v.9h-.9zM82.8 177.2h.9v.9h-.9zM86.6 174.8h.9v.9h-.9zM78.3 175.5h.9v.9h-.9zM78.2 175.0h.9v.9h-.9zM84.2 175.9h.9v.9h-.9zM85.8 175.8h.9v.9h-.9zM83.3 174.5h.9v.9h-.9zM77.0 175.2h.9v.9h-.9zM85.0 176.6h.9v.9h-.9zM80.4 176.8h.9v.9h-.9zM87.2 176.5h.9v.9h-.9zM84.6 176.5h.9v.9h-.9zM85.9 175.1h.9v.9h-.9zM87.2 175.0h.9v.9h-.9zM83.1 176.6h.9v.9h-.9zM87.8 174.1h.9v.9h-.9zM89.3 175.4h.9v.9h-.9zM86.3 173.3h.9v.9h-.9zM89.6 175.0h.9v.9h-.9zM82.8 174.6h.9v.9h-.9zM88.1 174.0h.9v.9h-.9zM85.9 176.1h.9v.9h-.9zM81.5 174.6h.9v.9h-.9zM84.7 175.0h.9v.9h-.9zM83.1 175.2h.9v.9h-.9zM83.0 174.6h.9v.9h-.9zM85.3 177.1h.9v.9h-.9zM88.6 174.9h.9v.9h-.9zM83.9 175.7h.9v.9h-.9zM85.4 173.9h.9v.9h-.9zM79.9 174.9h.9v.9h-.9zM85.3 175.1h.9v.9h-.9zM89.0 175.1h.9v.9h-.9zM87.8 174.8h.9v.9h-.9zM86.6 175.6h.9v.9h-.9zM83.1 177.3h.9v.9h-.9zM81.6 175.3h.9v.9h-.9zM84.6 175.3h.9v.9h-.9zM80.3 175.0h.9v.9h-.9zM80.7 178.5h.9v.9h-.9zM88.2 177.4h.9v.9h-.9zM81.8 176.1h.9v.9h-.9zM91.2 176.3h.9v.9h-.9zM80.0 174.6h.9v.9h-.9zM86.5 175.3h.9v.9h-.9zM80.9 175.7h.9v.9h-.9zM85.6 175.6h.9v.9h-.9zM81.4 174.5h.9v.9h-.9zM85.1 174.5h.9v.9h-.9zM84.4 176.1h.9v.9h-.9zM83.4 175.8h.9v.9h-.9zM86.7 173.0h.9v.9h-.9zM90.2 175.6h.9v.9h-.9zM82.9 177.0h.9v.9h-.9zM88.0 174.7h.9v.9h-.9zM85.3 175.7h.9v.9h-.9zM84.9 173.8h.9v.9h-.9zM92.6 176.4h.9v.9h-.9zM77.4 174.2h.9v.9h-.9z" fill="rgba(40,40,40,0.55)"/>
<path d="M85.4 137.8h.9v.9h-.9zM92.0 138.3h.9v.9h-.9zM109.7 132.7h.9v.9h-.9zM89.5 136.0h.9v.9h-.9zM85.9 141.1h.9v.9h-.9zM96.6 133.8h.9v.9h-.9zM95.8 138.3h.9v.9h-.9zM105.4 136.2h.9v.9h-.9zM84.6 134.3h.9v.9h-.9zM83.1 138.5h.9v.9h-.9zM91.4 135.0h.9v.9h-.9zM95.9 133.2h.9v.9h-.9zM95.4 131.1h.9v.9h-.9zM100.4 130.9h.9v.9h-.9zM83.9 138.7h.9v.9h-.9zM88.0 136.0h.9v.9h-.9zM93.0 136.8h.9v.9h-.9zM99.0 132.4h.9v.9h-.9zM96.9 134.6h.9v.9h-.9zM90.8 135.8h.9v.9h-.9zM86.2 133.5h.9v.9h-.9zM99.0 130.9h.9v.9h-.9zM100.4 135.9h.9v.9h-.9zM112.2 133.1h.9v.9h-.9zM92.2 133.9h.9v.9h-.9zM104.7 133.8h.9v.9h-.9zM85.9 139.0h.9v.9h-.9zM90.9 141.0h.9v.9h-.9zM88.8 134.6h.9v.9h-.9zM90.9 138.0h.9v.9h-.9zM88.8 142.1h.9v.9h-.9zM90.1 136.8h.9v.9h-.9zM94.0 139.6h.9v.9h-.9zM89.6 130.3h.9v.9h-.9zM98.9 138.7h.9v.9h-.9zM93.2 136.0h.9v.9h-.9zM93.0 131.4h.9v.9h-.9zM104.1 136.1h.9v.9h-.9zM96.4 138.1h.9v.9h-.9zM95.3 138.7h.9v.9h-.9zM94.2 138.9h.9v.9h-.9zM94.2 135.8h.9v.9h-.9zM97.3 133.5h.9v.9h-.9zM88.2 135.8h.9v.9h-.9zM101.5 134.5h.9v.9h-.9zM104.6 135.1h.9v.9h-.9zM101.4 133.4h.9v.9h-.9zM90.5 136.7h.9v.9h-.9zM83.4 140.0h.9v.9h-.9zM91.0 137.3h.9v.9h-.9z" fill="rgba(150,120,130,0.3)"/>
<path d="M71.2 157.3h.9v.9h-.9zM81.5 130.3h.9v.9h-.9zM68.4 149.5h.9v.9h-.9zM70.9 149.6h.9v.9h-.9zM101.1 123.8h.9v.9h-.9zM74.0 153.8h.9v.9h-.9zM73.0 132.2h.9v.9h-.9zM86.7 115.2h.9v.9h-.9zM105.6 141.1h.9v.9h-.9zM85.2 146.4h.9v.9h-.9zM85.2 162.0h.9v.9h-.9zM107.7 142.9h.9v.9h-.9zM99.8 169.9h.9v.9h-.9zM99.5 169.4h.9v.9h-.9zM108.2 164.6h.9v.9h-.9zM73.6 167.8h.9v.9h-.9zM95.3 154.4h.9v.9h-.9zM80.3 141.9h.9v.9h-.9zM109.6 158.5h.9v.9h-.9zM105.9 162.9h.9v.9h-.9zM73.0 152.9h.9v.9h-.9zM115.1 146.2h.9v.9h-.9zM70.8 128.0h.9v.9h-.9zM112.2 158.9h.9v.9h-.9zM95.1 154.4h.9v.9h-.9zM76.1 131.6h.9v.9h-.9zM71.7 151.0h.9v.9h-.9zM86.1 159.5h.9v.9h-.9z" fill="rgba(130,130,130,0.35)"/>
<line x1="90.1" y1="114.0" x2="90.1" y2="185.2" stroke="#96204a" stroke-width="1.3"/>
<line x1="54.3" y1="148.3" x2="125.6" y2="148.3" stroke="#96204a" stroke-width="1.3"/>
<rect x="54.3" y="114.0" width="71.3" height="71.2" fill="none" stroke="#333" stroke-width="1.15"/>
<text x="122.39999999999999" y="127.2" font-size="10" text-anchor="end" fill="#8a2d4e" stroke="#8a2d4e" stroke-width="0.12">3.0</text>
<text x="56.3" y="183.2" font-size="10" text-anchor="start" fill="#8a2d4e" stroke="#8a2d4e" stroke-width="0.12">21.6</text>
<text x="122.19999999999999" y="183.2" font-size="10" text-anchor="end" fill="#8a2d4e" stroke="#8a2d4e" stroke-width="0.12">74.9</text>
<path d="M170.1 175.7h.9v.9h-.9zM172.4 175.7h.9v.9h-.9zM172.4 173.5h.9v.9h-.9zM166.6 176.3h.9v.9h-.9zM169.6 173.7h.9v.9h-.9zM171.7 175.1h.9v.9h-.9zM172.8 177.9h.9v.9h-.9zM174.0 175.0h.9v.9h-.9zM165.5 176.8h.9v.9h-.9zM170.3 174.5h.9v.9h-.9zM172.3 175.6h.9v.9h-.9zM173.6 174.9h.9v.9h-.9zM174.8 175.4h.9v.9h-.9zM168.0 173.9h.9v.9h-.9zM169.5 173.8h.9v.9h-.9zM167.7 175.3h.9v.9h-.9zM172.5 173.0h.9v.9h-.9zM167.0 173.9h.9v.9h-.9zM173.5 175.6h.9v.9h-.9zM172.8 174.2h.9v.9h-.9zM171.7 173.8h.9v.9h-.9zM164.8 173.6h.9v.9h-.9zM168.7 175.1h.9v.9h-.9zM172.3 174.5h.9v.9h-.9zM166.8 175.1h.9v.9h-.9zM169.8 174.7h.9v.9h-.9zM170.2 177.1h.9v.9h-.9zM172.7 174.4h.9v.9h-.9zM171.1 172.6h.9v.9h-.9zM171.1 175.0h.9v.9h-.9zM169.3 174.9h.9v.9h-.9zM170.4 175.1h.9v.9h-.9zM170.1 173.0h.9v.9h-.9zM172.3 176.2h.9v.9h-.9zM170.0 174.8h.9v.9h-.9zM173.1 174.8h.9v.9h-.9zM166.1 173.0h.9v.9h-.9zM173.5 175.4h.9v.9h-.9zM170.0 174.8h.9v.9h-.9zM173.3 176.5h.9v.9h-.9zM170.6 174.4h.9v.9h-.9zM172.6 173.4h.9v.9h-.9zM174.3 175.0h.9v.9h-.9zM169.0 173.8h.9v.9h-.9zM170.6 175.4h.9v.9h-.9zM170.0 173.6h.9v.9h-.9zM171.0 174.7h.9v.9h-.9zM166.3 174.6h.9v.9h-.9zM170.0 174.8h.9v.9h-.9zM169.8 174.3h.9v.9h-.9zM168.4 173.9h.9v.9h-.9zM169.9 174.8h.9v.9h-.9zM166.5 174.2h.9v.9h-.9zM174.0 175.1h.9v.9h-.9zM171.6 174.6h.9v.9h-.9zM175.3 172.3h.9v.9h-.9zM168.2 174.8h.9v.9h-.9zM167.4 176.5h.9v.9h-.9zM171.1 175.2h.9v.9h-.9zM166.1 175.6h.9v.9h-.9zM171.0 175.4h.9v.9h-.9zM168.6 174.3h.9v.9h-.9zM169.6 173.3h.9v.9h-.9zM171.1 175.8h.9v.9h-.9zM170.5 176.1h.9v.9h-.9zM175.2 175.5h.9v.9h-.9zM172.0 175.4h.9v.9h-.9zM167.1 175.3h.9v.9h-.9zM172.9 174.9h.9v.9h-.9zM167.0 175.2h.9v.9h-.9zM170.6 174.9h.9v.9h-.9zM167.2 175.3h.9v.9h-.9zM168.3 173.8h.9v.9h-.9zM173.8 174.2h.9v.9h-.9zM169.0 175.5h.9v.9h-.9zM168.8 174.5h.9v.9h-.9zM169.0 172.1h.9v.9h-.9zM169.6 175.0h.9v.9h-.9zM174.1 172.2h.9v.9h-.9zM167.4 177.1h.9v.9h-.9zM167.2 175.7h.9v.9h-.9zM171.9 175.7h.9v.9h-.9zM166.3 174.1h.9v.9h-.9zM169.5 173.6h.9v.9h-.9zM173.3 174.6h.9v.9h-.9zM170.4 174.9h.9v.9h-.9zM169.2 174.0h.9v.9h-.9zM168.6 175.1h.9v.9h-.9zM168.0 175.7h.9v.9h-.9zM168.9 175.6h.9v.9h-.9zM170.7 173.7h.9v.9h-.9zM173.6 172.4h.9v.9h-.9zM172.9 174.9h.9v.9h-.9zM168.9 174.1h.9v.9h-.9zM168.5 175.4h.9v.9h-.9zM172.2 176.8h.9v.9h-.9zM165.7 176.8h.9v.9h-.9zM169.3 175.2h.9v.9h-.9zM169.5 176.2h.9v.9h-.9zM167.5 176.8h.9v.9h-.9zM167.8 174.9h.9v.9h-.9zM171.3 175.2h.9v.9h-.9zM166.1 175.9h.9v.9h-.9zM168.0 174.9h.9v.9h-.9zM168.7 174.3h.9v.9h-.9zM170.6 174.0h.9v.9h-.9zM166.8 174.9h.9v.9h-.9zM173.2 174.2h.9v.9h-.9zM169.6 175.8h.9v.9h-.9zM169.7 174.5h.9v.9h-.9zM169.4 176.6h.9v.9h-.9zM168.6 176.3h.9v.9h-.9zM167.8 173.5h.9v.9h-.9zM173.3 176.1h.9v.9h-.9zM170.9 174.4h.9v.9h-.9zM170.1 176.5h.9v.9h-.9zM172.9 175.5h.9v.9h-.9zM168.5 174.9h.9v.9h-.9zM172.0 175.7h.9v.9h-.9zM170.4 174.3h.9v.9h-.9zM168.1 175.3h.9v.9h-.9zM172.3 175.3h.9v.9h-.9zM166.5 174.7h.9v.9h-.9zM172.0 175.4h.9v.9h-.9zM168.1 173.8h.9v.9h-.9zM171.4 175.5h.9v.9h-.9zM173.9 173.5h.9v.9h-.9zM171.8 175.6h.9v.9h-.9zM168.8 175.5h.9v.9h-.9zM170.2 175.7h.9v.9h-.9zM169.4 174.3h.9v.9h-.9zM167.3 178.4h.9v.9h-.9zM167.5 174.7h.9v.9h-.9zM170.4 175.1h.9v.9h-.9zM171.7 174.1h.9v.9h-.9zM165.8 176.6h.9v.9h-.9zM170.1 174.4h.9v.9h-.9zM171.6 176.1h.9v.9h-.9zM170.6 173.8h.9v.9h-.9zM167.7 175.3h.9v.9h-.9zM172.9 174.5h.9v.9h-.9zM167.2 176.0h.9v.9h-.9zM171.9 174.6h.9v.9h-.9zM174.4 173.9h.9v.9h-.9zM165.1 175.4h.9v.9h-.9zM170.9 173.6h.9v.9h-.9zM171.1 173.8h.9v.9h-.9zM170.9 175.8h.9v.9h-.9zM168.3 172.8h.9v.9h-.9zM169.5 175.8h.9v.9h-.9zM166.7 174.5h.9v.9h-.9zM170.6 173.9h.9v.9h-.9zM171.6 175.2h.9v.9h-.9zM168.6 175.7h.9v.9h-.9zM167.9 174.3h.9v.9h-.9zM169.1 174.7h.9v.9h-.9zM170.2 175.9h.9v.9h-.9zM170.4 175.8h.9v.9h-.9zM170.0 174.9h.9v.9h-.9zM170.4 174.1h.9v.9h-.9zM166.9 173.9h.9v.9h-.9zM163.3 174.3h.9v.9h-.9zM171.8 175.7h.9v.9h-.9zM173.9 175.6h.9v.9h-.9zM166.6 175.3h.9v.9h-.9zM168.6 176.5h.9v.9h-.9zM171.0 174.6h.9v.9h-.9zM172.7 174.5h.9v.9h-.9zM171.9 174.5h.9v.9h-.9zM173.5 177.1h.9v.9h-.9zM170.1 172.6h.9v.9h-.9zM171.3 175.3h.9v.9h-.9zM171.3 175.5h.9v.9h-.9zM169.1 175.0h.9v.9h-.9zM173.3 177.6h.9v.9h-.9zM171.8 176.3h.9v.9h-.9zM172.7 175.8h.9v.9h-.9zM169.3 173.9h.9v.9h-.9zM172.9 175.5h.9v.9h-.9zM167.6 174.5h.9v.9h-.9zM171.3 175.0h.9v.9h-.9zM163.6 175.2h.9v.9h-.9zM167.7 174.4h.9v.9h-.9zM172.1 175.7h.9v.9h-.9zM169.1 176.8h.9v.9h-.9zM170.7 176.1h.9v.9h-.9zM166.1 175.2h.9v.9h-.9zM174.2 172.8h.9v.9h-.9zM171.8 176.2h.9v.9h-.9zM170.2 176.2h.9v.9h-.9zM171.3 174.8h.9v.9h-.9zM171.1 174.4h.9v.9h-.9zM173.8 175.7h.9v.9h-.9zM170.8 174.1h.9v.9h-.9zM166.5 175.9h.9v.9h-.9zM169.6 173.8h.9v.9h-.9zM173.5 173.9h.9v.9h-.9zM171.7 175.0h.9v.9h-.9zM169.2 173.3h.9v.9h-.9zM171.8 175.0h.9v.9h-.9zM170.5 175.6h.9v.9h-.9zM171.8 173.5h.9v.9h-.9zM166.2 176.0h.9v.9h-.9zM168.0 174.4h.9v.9h-.9zM171.9 175.6h.9v.9h-.9zM169.7 175.2h.9v.9h-.9zM171.1 174.5h.9v.9h-.9zM175.2 174.4h.9v.9h-.9zM169.4 173.1h.9v.9h-.9zM170.9 174.2h.9v.9h-.9zM168.8 174.1h.9v.9h-.9zM168.7 176.8h.9v.9h-.9zM170.1 176.1h.9v.9h-.9zM166.5 173.4h.9v.9h-.9zM164.9 175.9h.9v.9h-.9zM173.7 175.2h.9v.9h-.9zM170.0 174.6h.9v.9h-.9zM173.1 175.5h.9v.9h-.9zM170.6 175.9h.9v.9h-.9zM170.6 174.4h.9v.9h-.9z" fill="rgba(15,15,15,0.8)"/>
<path d="M161.2 176.8h.9v.9h-.9zM162.4 176.1h.9v.9h-.9zM159.2 175.9h.9v.9h-.9zM162.5 177.4h.9v.9h-.9zM161.8 176.9h.9v.9h-.9zM160.1 176.1h.9v.9h-.9zM159.6 174.5h.9v.9h-.9zM162.8 173.7h.9v.9h-.9zM164.4 175.3h.9v.9h-.9zM162.9 174.9h.9v.9h-.9zM159.6 174.6h.9v.9h-.9zM164.1 175.0h.9v.9h-.9zM162.5 173.4h.9v.9h-.9zM163.7 177.0h.9v.9h-.9zM165.3 174.0h.9v.9h-.9zM159.5 174.5h.9v.9h-.9zM161.6 175.9h.9v.9h-.9zM160.3 173.5h.9v.9h-.9zM159.5 176.3h.9v.9h-.9zM167.6 176.4h.9v.9h-.9zM164.6 174.9h.9v.9h-.9zM157.0 174.1h.9v.9h-.9zM163.2 174.8h.9v.9h-.9zM160.4 173.2h.9v.9h-.9zM165.2 176.9h.9v.9h-.9zM162.2 175.4h.9v.9h-.9zM161.5 174.5h.9v.9h-.9zM162.4 174.3h.9v.9h-.9zM163.1 175.9h.9v.9h-.9zM162.1 177.0h.9v.9h-.9zM161.4 173.9h.9v.9h-.9zM161.6 174.6h.9v.9h-.9zM163.4 173.3h.9v.9h-.9zM158.8 176.1h.9v.9h-.9zM162.0 175.5h.9v.9h-.9zM161.7 177.9h.9v.9h-.9zM160.6 175.2h.9v.9h-.9zM164.1 174.8h.9v.9h-.9zM158.4 174.5h.9v.9h-.9zM161.0 176.3h.9v.9h-.9zM159.6 173.5h.9v.9h-.9zM163.5 176.2h.9v.9h-.9zM160.7 175.6h.9v.9h-.9zM162.1 174.7h.9v.9h-.9zM163.1 174.3h.9v.9h-.9zM157.5 176.5h.9v.9h-.9zM163.3 177.4h.9v.9h-.9zM159.9 174.8h.9v.9h-.9zM161.3 175.9h.9v.9h-.9zM161.7 177.3h.9v.9h-.9zM164.3 174.6h.9v.9h-.9zM164.1 175.0h.9v.9h-.9zM166.9 173.9h.9v.9h-.9zM162.5 175.1h.9v.9h-.9zM160.7 175.2h.9v.9h-.9zM160.6 174.8h.9v.9h-.9zM163.8 174.5h.9v.9h-.9zM166.5 173.5h.9v.9h-.9zM163.0 173.8h.9v.9h-.9zM160.4 174.2h.9v.9h-.9zM162.8 176.0h.9v.9h-.9zM162.7 174.7h.9v.9h-.9zM162.1 174.3h.9v.9h-.9zM159.9 176.0h.9v.9h-.9zM154.9 175.9h.9v.9h-.9zM160.5 174.4h.9v.9h-.9zM164.9 174.6h.9v.9h-.9zM162.6 176.1h.9v.9h-.9zM155.8 175.7h.9v.9h-.9zM162.0 174.3h.9v.9h-.9zM156.8 175.6h.9v.9h-.9zM167.6 175.3h.9v.9h-.9zM162.5 176.6h.9v.9h-.9zM158.6 174.3h.9v.9h-.9zM164.2 176.3h.9v.9h-.9zM159.8 175.8h.9v.9h-.9zM163.6 174.1h.9v.9h-.9zM162.1 176.5h.9v.9h-.9zM158.7 176.3h.9v.9h-.9zM163.9 173.8h.9v.9h-.9zM158.2 177.6h.9v.9h-.9zM165.8 174.0h.9v.9h-.9zM162.2 174.2h.9v.9h-.9zM159.1 174.9h.9v.9h-.9zM156.9 176.2h.9v.9h-.9zM166.5 176.0h.9v.9h-.9zM166.1 175.2h.9v.9h-.9zM158.5 176.9h.9v.9h-.9zM166.6 175.8h.9v.9h-.9zM162.5 176.9h.9v.9h-.9zM161.4 178.5h.9v.9h-.9zM161.8 175.5h.9v.9h-.9zM161.2 172.3h.9v.9h-.9zM166.0 174.8h.9v.9h-.9zM162.4 174.1h.9v.9h-.9zM156.8 175.4h.9v.9h-.9zM167.9 175.4h.9v.9h-.9zM164.5 173.9h.9v.9h-.9zM158.9 174.0h.9v.9h-.9zM161.0 175.0h.9v.9h-.9zM159.5 175.1h.9v.9h-.9zM162.1 172.3h.9v.9h-.9zM163.1 176.4h.9v.9h-.9zM162.7 175.3h.9v.9h-.9zM160.3 175.3h.9v.9h-.9zM159.8 175.6h.9v.9h-.9zM164.4 174.1h.9v.9h-.9zM161.7 175.2h.9v.9h-.9zM168.3 176.5h.9v.9h-.9zM159.7 176.5h.9v.9h-.9zM164.2 175.8h.9v.9h-.9zM162.1 175.0h.9v.9h-.9zM159.9 174.3h.9v.9h-.9zM165.8 176.8h.9v.9h-.9zM162.3 175.9h.9v.9h-.9zM159.5 174.8h.9v.9h-.9zM161.1 172.8h.9v.9h-.9zM164.9 174.3h.9v.9h-.9zM158.6 173.1h.9v.9h-.9zM165.9 176.8h.9v.9h-.9zM163.9 175.5h.9v.9h-.9zM161.2 174.4h.9v.9h-.9zM165.8 175.0h.9v.9h-.9zM166.9 178.3h.9v.9h-.9zM163.7 176.7h.9v.9h-.9zM162.5 173.7h.9v.9h-.9zM167.2 175.1h.9v.9h-.9zM166.2 173.9h.9v.9h-.9zM159.4 173.3h.9v.9h-.9zM161.4 175.5h.9v.9h-.9zM161.4 178.1h.9v.9h-.9zM160.8 177.1h.9v.9h-.9zM157.8 175.4h.9v.9h-.9zM164.5 174.9h.9v.9h-.9zM162.2 175.5h.9v.9h-.9zM162.3 176.5h.9v.9h-.9zM166.0 173.6h.9v.9h-.9zM160.4 173.1h.9v.9h-.9zM161.8 177.5h.9v.9h-.9zM162.8 175.6h.9v.9h-.9zM160.8 177.2h.9v.9h-.9zM161.7 175.6h.9v.9h-.9zM164.2 177.0h.9v.9h-.9zM162.0 174.6h.9v.9h-.9zM165.7 175.9h.9v.9h-.9zM159.9 177.1h.9v.9h-.9zM162.6 176.5h.9v.9h-.9zM158.0 174.8h.9v.9h-.9zM161.7 176.4h.9v.9h-.9zM160.0 174.5h.9v.9h-.9z" fill="rgba(60,60,60,0.5)"/>
<path d="M159.6 140.9h.9v.9h-.9zM173.7 132.3h.9v.9h-.9zM181.5 136.7h.9v.9h-.9zM176.9 135.5h.9v.9h-.9zM159.5 132.4h.9v.9h-.9zM176.2 130.9h.9v.9h-.9zM175.0 132.7h.9v.9h-.9zM166.5 135.9h.9v.9h-.9zM151.1 141.3h.9v.9h-.9zM177.8 133.1h.9v.9h-.9zM177.4 136.5h.9v.9h-.9zM173.1 129.7h.9v.9h-.9zM154.9 128.4h.9v.9h-.9zM158.2 136.1h.9v.9h-.9zM178.1 135.0h.9v.9h-.9zM176.1 132.8h.9v.9h-.9zM173.3 131.3h.9v.9h-.9zM168.3 136.6h.9v.9h-.9zM174.1 140.2h.9v.9h-.9zM165.7 135.4h.9v.9h-.9zM167.2 133.3h.9v.9h-.9zM162.8 133.7h.9v.9h-.9zM173.0 140.5h.9v.9h-.9zM166.7 135.5h.9v.9h-.9zM177.8 135.5h.9v.9h-.9zM176.3 137.6h.9v.9h-.9zM164.2 139.3h.9v.9h-.9zM183.9 129.7h.9v.9h-.9zM161.7 139.4h.9v.9h-.9zM174.0 136.9h.9v.9h-.9zM178.7 134.9h.9v.9h-.9zM180.6 136.2h.9v.9h-.9zM152.4 136.4h.9v.9h-.9zM177.8 133.4h.9v.9h-.9zM179.3 131.8h.9v.9h-.9zM181.7 135.2h.9v.9h-.9zM152.2 136.2h.9v.9h-.9zM164.9 137.1h.9v.9h-.9zM168.7 131.9h.9v.9h-.9zM166.4 135.3h.9v.9h-.9z" fill="rgba(150,120,130,0.3)"/>
<path d="M159.5 169.9h.9v.9h-.9zM163.9 137.6h.9v.9h-.9zM168.4 164.9h.9v.9h-.9zM162.7 155.5h.9v.9h-.9zM162.0 164.5h.9v.9h-.9zM185.9 167.6h.9v.9h-.9zM154.8 166.4h.9v.9h-.9zM161.6 164.5h.9v.9h-.9zM151.1 132.9h.9v.9h-.9zM184.0 163.7h.9v.9h-.9zM149.7 152.9h.9v.9h-.9zM175.1 136.5h.9v.9h-.9zM187.2 162.0h.9v.9h-.9zM195.6 133.1h.9v.9h-.9zM187.4 164.7h.9v.9h-.9zM177.2 175.8h.9v.9h-.9zM144.5 145.2h.9v.9h-.9zM189.2 165.0h.9v.9h-.9zM187.4 158.5h.9v.9h-.9zM181.1 161.3h.9v.9h-.9zM180.5 133.4h.9v.9h-.9zM167.4 160.7h.9v.9h-.9zM156.8 154.1h.9v.9h-.9zM185.5 162.6h.9v.9h-.9z" fill="rgba(130,130,130,0.35)"/>
<line x1="165.8" y1="113.8" x2="165.8" y2="185.0" stroke="#3a4d78" stroke-width="1.3"/>
<line x1="129.4" y1="147.4" x2="200.7" y2="147.4" stroke="#3a4d78" stroke-width="1.3"/>
<rect x="129.4" y="113.8" width="71.3" height="71.2" fill="none" stroke="#333" stroke-width="1.15"/>
<text x="197.5" y="127.0" font-size="10" text-anchor="end" fill="#3d4a66" stroke="#3d4a66" stroke-width="0.12">4.3</text>
<text x="131.4" y="183.0" font-size="10" text-anchor="start" fill="#3d4a66" stroke="#3d4a66" stroke-width="0.12">19.6</text>
<text x="197.29999999999998" y="183.0" font-size="10" text-anchor="end" fill="#3d4a66" stroke="#3d4a66" stroke-width="0.12">75.1</text>
<path d="M78.9 293.7h.9v.9h-.9zM91.5 290.4h.9v.9h-.9zM81.8 291.9h.9v.9h-.9zM85.8 285.4h.9v.9h-.9zM94.3 287.1h.9v.9h-.9zM81.9 300.3h.9v.9h-.9zM91.1 295.9h.9v.9h-.9zM81.4 292.3h.9v.9h-.9zM84.8 291.5h.9v.9h-.9zM72.6 294.1h.9v.9h-.9zM87.2 287.2h.9v.9h-.9zM93.7 294.5h.9v.9h-.9zM77.2 288.7h.9v.9h-.9zM87.6 288.3h.9v.9h-.9zM84.4 296.5h.9v.9h-.9zM64.4 284.6h.9v.9h-.9zM82.7 290.5h.9v.9h-.9zM93.0 281.8h.9v.9h-.9zM72.3 288.4h.9v.9h-.9zM57.4 292.5h.9v.9h-.9zM80.6 288.3h.9v.9h-.9zM70.9 291.5h.9v.9h-.9zM100.2 284.1h.9v.9h-.9zM77.8 289.6h.9v.9h-.9zM77.7 285.8h.9v.9h-.9zM70.8 289.6h.9v.9h-.9zM80.6 284.7h.9v.9h-.9zM72.1 293.0h.9v.9h-.9zM67.2 286.9h.9v.9h-.9zM78.0 292.3h.9v.9h-.9zM68.7 289.8h.9v.9h-.9zM93.7 286.6h.9v.9h-.9zM65.3 295.8h.9v.9h-.9zM77.6 290.3h.9v.9h-.9zM69.4 284.5h.9v.9h-.9zM62.5 293.8h.9v.9h-.9zM96.4 277.2h.9v.9h-.9zM95.2 286.1h.9v.9h-.9zM61.3 287.4h.9v.9h-.9zM79.5 290.0h.9v.9h-.9zM104.7 285.1h.9v.9h-.9zM62.2 290.6h.9v.9h-.9zM94.6 294.3h.9v.9h-.9zM81.1 294.3h.9v.9h-.9zM71.7 288.6h.9v.9h-.9zM77.6 287.1h.9v.9h-.9zM67.8 295.9h.9v.9h-.9zM79.8 289.2h.9v.9h-.9zM95.9 287.9h.9v.9h-.9zM73.8 289.6h.9v.9h-.9zM79.4 285.5h.9v.9h-.9zM92.2 286.6h.9v.9h-.9zM101.1 283.3h.9v.9h-.9zM70.8 285.5h.9v.9h-.9zM81.8 288.3h.9v.9h-.9zM72.7 296.9h.9v.9h-.9zM71.7 296.4h.9v.9h-.9zM73.7 290.3h.9v.9h-.9zM71.1 291.3h.9v.9h-.9zM58.5 294.4h.9v.9h-.9zM55.9 297.8h.9v.9h-.9zM70.1 292.1h.9v.9h-.9zM79.7 288.0h.9v.9h-.9zM92.4 286.5h.9v.9h-.9zM72.8 294.6h.9v.9h-.9zM77.7 299.1h.9v.9h-.9zM85.8 286.6h.9v.9h-.9zM86.0 281.6h.9v.9h-.9zM77.5 292.8h.9v.9h-.9zM77.7 289.7h.9v.9h-.9zM100.3 287.3h.9v.9h-.9zM75.1 294.6h.9v.9h-.9zM72.7 290.9h.9v.9h-.9zM58.8 287.9h.9v.9h-.9zM82.5 282.4h.9v.9h-.9zM75.3 290.1h.9v.9h-.9zM100.1 282.7h.9v.9h-.9zM74.6 291.4h.9v.9h-.9zM87.2 284.1h.9v.9h-.9zM89.1 287.1h.9v.9h-.9zM96.9 282.1h.9v.9h-.9zM63.0 290.7h.9v.9h-.9zM96.4 285.7h.9v.9h-.9zM78.8 291.9h.9v.9h-.9zM77.8 294.6h.9v.9h-.9zM74.7 289.7h.9v.9h-.9zM73.4 287.5h.9v.9h-.9zM75.4 297.2h.9v.9h-.9zM84.6 291.1h.9v.9h-.9zM79.4 291.8h.9v.9h-.9zM68.1 296.4h.9v.9h-.9zM78.2 293.4h.9v.9h-.9zM105.4 288.4h.9v.9h-.9zM83.2 291.9h.9v.9h-.9zM73.5 287.5h.9v.9h-.9zM98.0 285.0h.9v.9h-.9zM69.1 290.8h.9v.9h-.9zM76.7 290.4h.9v.9h-.9zM72.0 290.8h.9v.9h-.9zM75.8 291.3h.9v.9h-.9zM86.9 288.7h.9v.9h-.9zM84.9 287.4h.9v.9h-.9zM69.1 285.4h.9v.9h-.9zM77.3 293.0h.9v.9h-.9zM79.7 291.7h.9v.9h-.9zM73.2 287.5h.9v.9h-.9zM78.2 291.6h.9v.9h-.9zM70.2 292.4h.9v.9h-.9zM69.9 291.3h.9v.9h-.9zM78.0 283.4h.9v.9h-.9zM65.8 287.4h.9v.9h-.9zM82.9 287.1h.9v.9h-.9zM76.9 295.8h.9v.9h-.9zM67.3 288.4h.9v.9h-.9zM71.1 289.7h.9v.9h-.9zM72.3 286.8h.9v.9h-.9zM76.3 288.4h.9v.9h-.9zM79.9 290.9h.9v.9h-.9zM74.9 283.0h.9v.9h-.9zM66.9 281.5h.9v.9h-.9zM95.2 289.8h.9v.9h-.9zM88.8 288.5h.9v.9h-.9zM79.3 287.6h.9v.9h-.9zM89.8 291.7h.9v.9h-.9zM82.6 292.7h.9v.9h-.9zM74.3 283.0h.9v.9h-.9zM79.3 289.1h.9v.9h-.9zM109.7 289.4h.9v.9h-.9zM89.5 285.9h.9v.9h-.9zM90.2 287.1h.9v.9h-.9zM74.3 293.8h.9v.9h-.9zM85.1 288.0h.9v.9h-.9zM103.8 282.1h.9v.9h-.9zM82.9 286.8h.9v.9h-.9zM90.1 283.5h.9v.9h-.9zM93.1 289.7h.9v.9h-.9zM84.9 282.8h.9v.9h-.9zM97.0 290.8h.9v.9h-.9zM80.2 283.8h.9v.9h-.9zM84.1 289.2h.9v.9h-.9zM70.4 285.8h.9v.9h-.9zM108.6 284.5h.9v.9h-.9zM82.3 292.9h.9v.9h-.9zM80.2 293.6h.9v.9h-.9zM95.0 292.1h.9v.9h-.9zM72.7 290.3h.9v.9h-.9zM78.3 290.2h.9v.9h-.9zM69.4 291.9h.9v.9h-.9zM78.9 292.0h.9v.9h-.9zM73.7 289.1h.9v.9h-.9zM85.1 292.8h.9v.9h-.9zM77.0 291.2h.9v.9h-.9zM72.0 294.8h.9v.9h-.9zM75.2 292.0h.9v.9h-.9zM77.3 292.4h.9v.9h-.9zM72.1 288.2h.9v.9h-.9zM88.9 286.9h.9v.9h-.9zM85.4 284.3h.9v.9h-.9zM79.8 288.6h.9v.9h-.9zM64.5 291.2h.9v.9h-.9zM84.7 291.9h.9v.9h-.9zM63.0 287.6h.9v.9h-.9zM82.0 300.8h.9v.9h-.9zM78.8 289.4h.9v.9h-.9zM72.1 295.2h.9v.9h-.9zM69.3 294.8h.9v.9h-.9zM69.1 282.3h.9v.9h-.9zM101.8 285.6h.9v.9h-.9zM76.0 295.4h.9v.9h-.9zM74.8 281.8h.9v.9h-.9zM89.7 291.0h.9v.9h-.9zM82.7 286.0h.9v.9h-.9zM90.2 286.5h.9v.9h-.9zM64.3 292.6h.9v.9h-.9zM64.9 285.2h.9v.9h-.9zM116.6 285.2h.9v.9h-.9zM77.5 287.7h.9v.9h-.9zM74.6 287.7h.9v.9h-.9zM80.5 292.0h.9v.9h-.9zM91.4 300.4h.9v.9h-.9zM64.8 293.0h.9v.9h-.9zM81.8 291.3h.9v.9h-.9zM78.0 289.7h.9v.9h-.9zM85.7 286.3h.9v.9h-.9zM80.4 290.5h.9v.9h-.9zM73.0 296.0h.9v.9h-.9zM68.5 291.9h.9v.9h-.9zM89.4 287.5h.9v.9h-.9zM62.7 301.0h.9v.9h-.9zM72.9 284.8h.9v.9h-.9zM97.6 289.2h.9v.9h-.9zM73.8 292.4h.9v.9h-.9zM85.4 289.8h.9v.9h-.9zM75.3 286.3h.9v.9h-.9zM85.7 284.8h.9v.9h-.9zM78.5 289.0h.9v.9h-.9zM72.5 291.0h.9v.9h-.9zM93.2 283.5h.9v.9h-.9zM74.7 286.6h.9v.9h-.9zM63.3 293.9h.9v.9h-.9zM75.0 293.9h.9v.9h-.9zM84.2 287.0h.9v.9h-.9zM65.2 289.2h.9v.9h-.9zM86.9 286.1h.9v.9h-.9zM88.3 297.2h.9v.9h-.9zM102.8 288.1h.9v.9h-.9zM70.9 290.6h.9v.9h-.9zM86.3 292.3h.9v.9h-.9zM60.3 300.5h.9v.9h-.9zM74.1 294.6h.9v.9h-.9zM78.8 284.7h.9v.9h-.9zM82.9 288.9h.9v.9h-.9zM77.5 288.5h.9v.9h-.9zM77.1 288.8h.9v.9h-.9zM70.7 286.6h.9v.9h-.9zM73.0 289.2h.9v.9h-.9zM81.2 285.6h.9v.9h-.9zM84.8 290.1h.9v.9h-.9zM85.6 289.0h.9v.9h-.9zM89.0 283.3h.9v.9h-.9zM91.0 282.0h.9v.9h-.9zM57.5 291.0h.9v.9h-.9zM72.6 292.9h.9v.9h-.9zM76.7 291.8h.9v.9h-.9zM70.9 290.6h.9v.9h-.9zM88.6 276.7h.9v.9h-.9zM86.6 286.9h.9v.9h-.9zM76.7 287.4h.9v.9h-.9zM79.5 288.5h.9v.9h-.9zM92.1 283.6h.9v.9h-.9zM74.1 288.9h.9v.9h-.9zM74.4 288.0h.9v.9h-.9zM89.9 297.8h.9v.9h-.9zM84.0 291.5h.9v.9h-.9zM94.4 286.9h.9v.9h-.9zM82.5 289.1h.9v.9h-.9zM86.8 288.2h.9v.9h-.9zM72.2 291.3h.9v.9h-.9zM67.4 289.9h.9v.9h-.9zM78.2 289.8h.9v.9h-.9zM83.3 292.1h.9v.9h-.9zM89.5 289.3h.9v.9h-.9zM79.8 294.3h.9v.9h-.9zM75.9 291.0h.9v.9h-.9zM90.2 284.7h.9v.9h-.9zM77.0 283.8h.9v.9h-.9zM89.1 285.8h.9v.9h-.9zM103.2 286.1h.9v.9h-.9zM86.7 290.0h.9v.9h-.9zM89.5 292.1h.9v.9h-.9zM83.6 287.0h.9v.9h-.9zM80.8 286.6h.9v.9h-.9zM81.8 292.1h.9v.9h-.9zM79.6 293.8h.9v.9h-.9zM90.4 286.4h.9v.9h-.9zM60.1 293.6h.9v.9h-.9zM75.9 295.0h.9v.9h-.9zM85.9 289.9h.9v.9h-.9zM68.7 291.0h.9v.9h-.9zM76.1 282.8h.9v.9h-.9zM71.0 295.5h.9v.9h-.9zM83.6 291.4h.9v.9h-.9zM88.2 288.9h.9v.9h-.9zM94.6 285.9h.9v.9h-.9zM83.4 284.7h.9v.9h-.9zM70.1 290.6h.9v.9h-.9zM81.1 289.0h.9v.9h-.9zM85.3 292.7h.9v.9h-.9zM93.7 283.4h.9v.9h-.9zM82.5 289.3h.9v.9h-.9zM58.1 296.9h.9v.9h-.9zM85.9 285.3h.9v.9h-.9zM83.5 290.3h.9v.9h-.9zM84.6 293.3h.9v.9h-.9zM88.4 288.8h.9v.9h-.9zM82.0 284.1h.9v.9h-.9zM70.8 289.7h.9v.9h-.9zM82.5 291.1h.9v.9h-.9zM91.2 283.0h.9v.9h-.9zM76.3 285.0h.9v.9h-.9zM78.7 290.6h.9v.9h-.9zM64.1 288.4h.9v.9h-.9zM91.8 290.3h.9v.9h-.9zM72.0 286.5h.9v.9h-.9zM69.0 284.6h.9v.9h-.9zM72.8 287.8h.9v.9h-.9zM69.2 296.4h.9v.9h-.9zM75.0 287.2h.9v.9h-.9zM92.8 287.8h.9v.9h-.9zM87.4 289.4h.9v.9h-.9zM94.0 284.2h.9v.9h-.9zM95.7 291.2h.9v.9h-.9zM68.2 291.9h.9v.9h-.9zM84.0 290.6h.9v.9h-.9zM94.5 281.6h.9v.9h-.9zM103.5 280.1h.9v.9h-.9zM60.9 282.5h.9v.9h-.9zM62.0 291.4h.9v.9h-.9zM83.5 288.3h.9v.9h-.9zM74.8 292.9h.9v.9h-.9zM67.7 296.6h.9v.9h-.9zM82.5 288.3h.9v.9h-.9zM69.2 290.1h.9v.9h-.9zM78.8 295.2h.9v.9h-.9zM79.3 286.8h.9v.9h-.9zM85.8 291.0h.9v.9h-.9zM88.8 287.5h.9v.9h-.9zM80.2 288.4h.9v.9h-.9zM76.0 293.0h.9v.9h-.9zM70.3 288.1h.9v.9h-.9zM59.1 288.7h.9v.9h-.9zM73.6 292.8h.9v.9h-.9zM89.6 288.2h.9v.9h-.9zM85.5 287.9h.9v.9h-.9zM101.5 286.1h.9v.9h-.9zM76.8 291.8h.9v.9h-.9zM57.8 291.4h.9v.9h-.9zM88.0 291.2h.9v.9h-.9zM90.2 289.6h.9v.9h-.9zM65.7 296.8h.9v.9h-.9zM60.6 296.8h.9v.9h-.9zM80.4 292.6h.9v.9h-.9zM86.2 288.0h.9v.9h-.9zM65.6 292.0h.9v.9h-.9zM74.1 288.3h.9v.9h-.9zM70.8 301.0h.9v.9h-.9zM64.7 291.0h.9v.9h-.9zM63.6 293.9h.9v.9h-.9zM80.5 294.3h.9v.9h-.9zM73.3 285.7h.9v.9h-.9zM70.2 288.1h.9v.9h-.9zM97.6 283.6h.9v.9h-.9zM66.9 287.0h.9v.9h-.9zM76.4 288.3h.9v.9h-.9zM65.9 296.1h.9v.9h-.9zM82.8 291.8h.9v.9h-.9zM61.1 292.4h.9v.9h-.9zM79.3 289.8h.9v.9h-.9zM75.2 284.4h.9v.9h-.9zM88.9 290.8h.9v.9h-.9zM65.9 293.1h.9v.9h-.9zM70.3 287.1h.9v.9h-.9zM75.6 291.0h.9v.9h-.9zM101.8 285.9h.9v.9h-.9zM61.2 290.4h.9v.9h-.9zM81.0 286.0h.9v.9h-.9zM70.4 288.6h.9v.9h-.9zM81.2 286.1h.9v.9h-.9zM85.8 290.4h.9v.9h-.9zM79.9 290.9h.9v.9h-.9zM81.3 290.6h.9v.9h-.9zM81.2 288.8h.9v.9h-.9zM71.3 289.4h.9v.9h-.9zM76.7 297.3h.9v.9h-.9zM58.4 286.1h.9v.9h-.9zM74.7 294.6h.9v.9h-.9zM69.6 292.3h.9v.9h-.9zM75.3 290.5h.9v.9h-.9zM86.2 286.9h.9v.9h-.9zM82.3 288.5h.9v.9h-.9zM82.9 285.0h.9v.9h-.9zM89.9 283.3h.9v.9h-.9zM82.2 283.5h.9v.9h-.9zM78.2 292.8h.9v.9h-.9zM77.5 293.9h.9v.9h-.9zM61.6 280.0h.9v.9h-.9zM83.6 283.6h.9v.9h-.9zM91.2 289.0h.9v.9h-.9zM89.8 289.0h.9v.9h-.9zM77.2 290.4h.9v.9h-.9zM85.5 290.3h.9v.9h-.9zM88.9 291.0h.9v.9h-.9zM99.2 290.0h.9v.9h-.9zM92.8 294.1h.9v.9h-.9zM79.7 289.8h.9v.9h-.9zM79.6 292.7h.9v.9h-.9zM79.2 284.0h.9v.9h-.9zM80.6 289.1h.9v.9h-.9zM71.8 286.5h.9v.9h-.9zM87.5 293.5h.9v.9h-.9zM71.3 299.1h.9v.9h-.9zM69.2 293.1h.9v.9h-.9zM81.4 284.8h.9v.9h-.9zM71.5 290.4h.9v.9h-.9zM75.3 290.4h.9v.9h-.9zM87.6 292.4h.9v.9h-.9zM78.4 293.2h.9v.9h-.9zM75.3 280.9h.9v.9h-.9zM83.9 293.9h.9v.9h-.9zM80.2 287.9h.9v.9h-.9zM69.8 289.1h.9v.9h-.9zM101.5 291.6h.9v.9h-.9zM72.8 289.7h.9v.9h-.9zM88.4 283.6h.9v.9h-.9zM98.1 282.4h.9v.9h-.9zM71.0 291.1h.9v.9h-.9zM79.5 292.9h.9v.9h-.9zM69.5 296.4h.9v.9h-.9zM89.8 287.6h.9v.9h-.9zM74.0 288.8h.9v.9h-.9zM66.3 297.3h.9v.9h-.9zM92.7 286.2h.9v.9h-.9zM89.1 293.5h.9v.9h-.9zM68.1 292.1h.9v.9h-.9zM91.6 288.9h.9v.9h-.9zM80.1 288.8h.9v.9h-.9zM109.0 286.6h.9v.9h-.9zM97.2 285.6h.9v.9h-.9zM71.4 288.4h.9v.9h-.9zM74.9 289.9h.9v.9h-.9zM67.8 289.1h.9v.9h-.9zM79.7 290.8h.9v.9h-.9zM78.6 290.1h.9v.9h-.9zM86.2 287.8h.9v.9h-.9zM78.9 289.1h.9v.9h-.9zM61.2 291.5h.9v.9h-.9zM69.7 297.2h.9v.9h-.9zM94.0 287.6h.9v.9h-.9zM90.8 286.0h.9v.9h-.9zM76.0 289.2h.9v.9h-.9zM76.8 292.4h.9v.9h-.9zM76.0 289.5h.9v.9h-.9zM78.2 289.4h.9v.9h-.9zM58.8 291.7h.9v.9h-.9zM88.2 289.1h.9v.9h-.9zM70.7 292.3h.9v.9h-.9zM79.9 291.2h.9v.9h-.9zM80.1 285.8h.9v.9h-.9zM91.9 278.7h.9v.9h-.9zM95.8 291.3h.9v.9h-.9zM84.0 293.7h.9v.9h-.9zM69.7 291.6h.9v.9h-.9zM60.6 296.4h.9v.9h-.9zM91.2 287.9h.9v.9h-.9zM80.9 289.1h.9v.9h-.9zM84.0 283.6h.9v.9h-.9zM74.5 287.6h.9v.9h-.9zM68.7 289.1h.9v.9h-.9zM88.3 291.7h.9v.9h-.9zM68.0 297.2h.9v.9h-.9zM88.0 286.9h.9v.9h-.9zM59.2 293.9h.9v.9h-.9zM67.6 292.3h.9v.9h-.9zM61.1 289.6h.9v.9h-.9zM92.0 281.9h.9v.9h-.9zM57.7 290.1h.9v.9h-.9zM64.4 286.8h.9v.9h-.9zM85.3 287.8h.9v.9h-.9zM80.5 289.1h.9v.9h-.9zM102.8 285.8h.9v.9h-.9zM98.8 286.4h.9v.9h-.9zM85.2 290.6h.9v.9h-.9zM85.4 285.6h.9v.9h-.9zM57.7 295.9h.9v.9h-.9zM67.2 285.5h.9v.9h-.9zM74.3 290.7h.9v.9h-.9zM76.2 291.5h.9v.9h-.9zM62.0 289.4h.9v.9h-.9zM66.6 285.9h.9v.9h-.9zM68.7 293.5h.9v.9h-.9zM89.7 285.9h.9v.9h-.9zM83.2 291.9h.9v.9h-.9zM74.6 293.1h.9v.9h-.9zM74.8 290.3h.9v.9h-.9zM81.3 289.4h.9v.9h-.9zM70.5 294.4h.9v.9h-.9zM75.2 291.6h.9v.9h-.9zM58.0 289.4h.9v.9h-.9zM85.7 289.4h.9v.9h-.9zM89.2 290.3h.9v.9h-.9zM82.2 290.0h.9v.9h-.9zM83.5 289.8h.9v.9h-.9zM82.1 288.8h.9v.9h-.9zM101.1 286.2h.9v.9h-.9zM79.8 286.3h.9v.9h-.9zM62.2 287.1h.9v.9h-.9zM66.6 295.5h.9v.9h-.9zM85.8 286.6h.9v.9h-.9zM90.2 289.0h.9v.9h-.9zM86.0 283.5h.9v.9h-.9zM87.6 289.1h.9v.9h-.9zM79.7 286.8h.9v.9h-.9zM62.5 302.5h.9v.9h-.9zM69.4 287.5h.9v.9h-.9zM56.9 289.5h.9v.9h-.9zM74.0 293.8h.9v.9h-.9zM63.0 296.0h.9v.9h-.9zM78.0 282.5h.9v.9h-.9zM76.1 291.1h.9v.9h-.9zM56.2 296.1h.9v.9h-.9zM85.7 284.5h.9v.9h-.9zM86.9 291.0h.9v.9h-.9zM61.9 290.3h.9v.9h-.9zM79.1 286.2h.9v.9h-.9zM85.9 287.6h.9v.9h-.9zM74.4 288.8h.9v.9h-.9zM87.0 283.7h.9v.9h-.9zM81.2 297.3h.9v.9h-.9zM89.9 286.6h.9v.9h-.9zM79.7 287.0h.9v.9h-.9zM76.4 293.1h.9v.9h-.9zM83.7 288.8h.9v.9h-.9zM87.5 293.3h.9v.9h-.9zM80.6 288.6h.9v.9h-.9zM72.9 291.8h.9v.9h-.9zM68.9 291.5h.9v.9h-.9zM73.7 291.1h.9v.9h-.9zM71.2 290.1h.9v.9h-.9zM80.2 289.2h.9v.9h-.9zM80.6 295.4h.9v.9h-.9zM76.6 287.7h.9v.9h-.9zM77.6 288.0h.9v.9h-.9zM79.6 288.5h.9v.9h-.9zM96.0 289.4h.9v.9h-.9zM91.8 289.4h.9v.9h-.9zM71.7 294.1h.9v.9h-.9zM82.0 284.6h.9v.9h-.9zM74.2 291.3h.9v.9h-.9zM76.6 289.5h.9v.9h-.9zM74.9 289.3h.9v.9h-.9zM70.8 291.5h.9v.9h-.9zM61.3 285.3h.9v.9h-.9zM80.2 290.1h.9v.9h-.9zM90.7 283.1h.9v.9h-.9zM67.4 291.1h.9v.9h-.9zM84.3 294.4h.9v.9h-.9zM73.2 289.2h.9v.9h-.9zM81.3 291.5h.9v.9h-.9zM68.4 290.5h.9v.9h-.9zM74.7 287.5h.9v.9h-.9zM76.1 286.9h.9v.9h-.9zM80.9 294.0h.9v.9h-.9zM76.6 293.0h.9v.9h-.9zM85.7 292.3h.9v.9h-.9zM77.3 289.5h.9v.9h-.9zM79.8 287.2h.9v.9h-.9zM82.1 290.8h.9v.9h-.9zM72.5 287.5h.9v.9h-.9zM64.6 286.3h.9v.9h-.9zM73.3 295.1h.9v.9h-.9zM72.0 284.4h.9v.9h-.9zM103.5 288.2h.9v.9h-.9zM98.2 281.7h.9v.9h-.9zM72.1 290.6h.9v.9h-.9zM72.9 289.9h.9v.9h-.9zM81.2 287.9h.9v.9h-.9zM83.1 281.5h.9v.9h-.9zM69.7 290.7h.9v.9h-.9zM66.2 291.4h.9v.9h-.9zM99.5 283.7h.9v.9h-.9zM89.8 288.0h.9v.9h-.9zM60.3 295.9h.9v.9h-.9zM57.0 290.3h.9v.9h-.9zM68.3 292.2h.9v.9h-.9zM79.7 285.7h.9v.9h-.9zM84.2 290.4h.9v.9h-.9zM74.1 292.7h.9v.9h-.9zM60.3 301.1h.9v.9h-.9zM80.6 292.7h.9v.9h-.9zM84.8 290.5h.9v.9h-.9zM78.3 294.8h.9v.9h-.9zM71.5 287.4h.9v.9h-.9zM84.8 292.7h.9v.9h-.9zM76.7 288.2h.9v.9h-.9zM64.4 289.7h.9v.9h-.9zM79.3 293.6h.9v.9h-.9zM62.8 292.9h.9v.9h-.9zM89.4 292.9h.9v.9h-.9zM82.4 284.2h.9v.9h-.9zM66.3 292.5h.9v.9h-.9zM79.8 287.8h.9v.9h-.9zM91.9 287.0h.9v.9h-.9zM76.5 293.4h.9v.9h-.9zM96.8 288.0h.9v.9h-.9zM59.2 289.1h.9v.9h-.9zM75.1 285.6h.9v.9h-.9zM60.7 289.3h.9v.9h-.9zM77.5 294.9h.9v.9h-.9zM58.7 291.5h.9v.9h-.9zM71.6 292.5h.9v.9h-.9zM79.2 289.8h.9v.9h-.9zM82.1 290.2h.9v.9h-.9zM82.9 291.8h.9v.9h-.9zM106.4 271.0h.9v.9h-.9zM108.9 268.7h.9v.9h-.9zM74.8 273.2h.9v.9h-.9zM73.5 271.3h.9v.9h-.9zM94.7 271.2h.9v.9h-.9zM106.4 272.2h.9v.9h-.9zM105.2 269.0h.9v.9h-.9zM95.6 272.4h.9v.9h-.9zM101.1 268.4h.9v.9h-.9zM97.0 269.9h.9v.9h-.9zM86.5 271.2h.9v.9h-.9zM116.2 271.9h.9v.9h-.9zM93.0 269.4h.9v.9h-.9zM80.1 275.0h.9v.9h-.9zM87.3 268.3h.9v.9h-.9zM74.7 272.4h.9v.9h-.9zM93.5 273.1h.9v.9h-.9zM106.4 271.5h.9v.9h-.9zM77.8 270.2h.9v.9h-.9zM106.4 267.2h.9v.9h-.9zM118.3 270.8h.9v.9h-.9zM97.4 267.9h.9v.9h-.9zM79.4 273.6h.9v.9h-.9zM82.8 270.8h.9v.9h-.9zM89.1 271.4h.9v.9h-.9zM78.3 277.6h.9v.9h-.9zM78.5 275.8h.9v.9h-.9zM90.2 273.2h.9v.9h-.9zM90.7 268.2h.9v.9h-.9zM100.5 271.2h.9v.9h-.9zM78.8 272.5h.9v.9h-.9zM115.5 268.9h.9v.9h-.9zM106.1 272.9h.9v.9h-.9zM103.5 266.3h.9v.9h-.9zM85.4 272.5h.9v.9h-.9zM114.0 269.5h.9v.9h-.9zM88.9 269.8h.9v.9h-.9zM115.2 273.0h.9v.9h-.9zM105.7 267.2h.9v.9h-.9zM82.4 272.1h.9v.9h-.9zM87.7 271.7h.9v.9h-.9zM115.1 264.3h.9v.9h-.9zM104.9 266.9h.9v.9h-.9zM91.1 269.1h.9v.9h-.9zM95.7 272.6h.9v.9h-.9zM95.7 273.0h.9v.9h-.9zM84.0 273.2h.9v.9h-.9zM90.8 271.8h.9v.9h-.9zM84.8 266.9h.9v.9h-.9zM88.1 272.0h.9v.9h-.9zM98.6 269.5h.9v.9h-.9zM81.9 274.7h.9v.9h-.9zM102.1 273.3h.9v.9h-.9zM94.9 275.9h.9v.9h-.9zM102.4 271.9h.9v.9h-.9zM104.0 272.0h.9v.9h-.9zM107.9 267.5h.9v.9h-.9zM100.7 270.6h.9v.9h-.9zM101.4 267.6h.9v.9h-.9zM91.2 273.3h.9v.9h-.9zM99.7 267.8h.9v.9h-.9zM82.3 271.5h.9v.9h-.9zM90.0 269.5h.9v.9h-.9zM102.0 269.2h.9v.9h-.9zM92.6 272.1h.9v.9h-.9zM98.4 269.4h.9v.9h-.9zM80.5 272.7h.9v.9h-.9zM109.3 267.4h.9v.9h-.9zM86.5 274.8h.9v.9h-.9zM97.8 269.2h.9v.9h-.9zM93.1 273.3h.9v.9h-.9zM104.7 274.8h.9v.9h-.9zM88.1 266.1h.9v.9h-.9zM81.0 269.9h.9v.9h-.9zM70.4 272.6h.9v.9h-.9zM89.7 274.0h.9v.9h-.9zM78.8 271.2h.9v.9h-.9zM99.6 271.3h.9v.9h-.9zM110.3 267.9h.9v.9h-.9zM66.6 274.6h.9v.9h-.9zM77.5 269.7h.9v.9h-.9zM97.0 272.6h.9v.9h-.9zM107.4 263.1h.9v.9h-.9zM96.4 266.5h.9v.9h-.9zM97.4 274.8h.9v.9h-.9zM99.2 270.9h.9v.9h-.9zM99.9 268.5h.9v.9h-.9zM113.3 274.2h.9v.9h-.9zM100.7 272.8h.9v.9h-.9zM78.5 274.9h.9v.9h-.9zM87.4 270.6h.9v.9h-.9zM95.8 272.2h.9v.9h-.9zM83.5 273.0h.9v.9h-.9zM89.7 267.6h.9v.9h-.9zM87.0 272.9h.9v.9h-.9zM84.7 271.4h.9v.9h-.9zM101.7 273.2h.9v.9h-.9zM88.7 274.4h.9v.9h-.9zM79.9 270.8h.9v.9h-.9zM84.4 270.5h.9v.9h-.9zM93.6 271.4h.9v.9h-.9zM118.6 270.3h.9v.9h-.9zM96.2 269.9h.9v.9h-.9zM110.9 269.2h.9v.9h-.9zM99.2 271.9h.9v.9h-.9zM67.4 274.3h.9v.9h-.9zM97.9 273.3h.9v.9h-.9zM83.0 272.5h.9v.9h-.9zM76.7 270.5h.9v.9h-.9zM79.8 268.2h.9v.9h-.9zM114.8 271.0h.9v.9h-.9zM74.1 272.0h.9v.9h-.9zM85.6 270.9h.9v.9h-.9zM107.0 269.2h.9v.9h-.9zM100.8 266.8h.9v.9h-.9zM72.5 272.0h.9v.9h-.9zM91.3 265.3h.9v.9h-.9zM86.8 270.7h.9v.9h-.9zM90.6 269.3h.9v.9h-.9zM102.5 274.4h.9v.9h-.9zM86.3 272.7h.9v.9h-.9zM89.2 270.9h.9v.9h-.9zM110.7 269.9h.9v.9h-.9zM71.1 274.6h.9v.9h-.9zM88.5 269.7h.9v.9h-.9zM98.7 270.0h.9v.9h-.9zM78.1 271.6h.9v.9h-.9zM86.0 277.3h.9v.9h-.9zM77.3 272.6h.9v.9h-.9zM94.6 266.5h.9v.9h-.9zM85.8 273.5h.9v.9h-.9zM103.1 276.0h.9v.9h-.9zM105.2 267.8h.9v.9h-.9zM94.4 278.8h.9v.9h-.9zM88.5 271.3h.9v.9h-.9zM96.4 273.0h.9v.9h-.9zM93.7 269.7h.9v.9h-.9zM78.4 271.7h.9v.9h-.9zM105.8 267.1h.9v.9h-.9zM95.6 268.4h.9v.9h-.9zM102.2 265.4h.9v.9h-.9zM76.9 275.1h.9v.9h-.9zM103.4 267.5h.9v.9h-.9zM118.5 269.7h.9v.9h-.9zM100.6 271.1h.9v.9h-.9zM75.5 271.1h.9v.9h-.9zM93.5 271.1h.9v.9h-.9zM92.4 270.9h.9v.9h-.9zM95.6 269.7h.9v.9h-.9zM90.3 271.4h.9v.9h-.9z" fill="rgba(130,130,130,0.35)"/>
<path d="M92.1 288.4h.9v.9h-.9zM95.2 287.4h.9v.9h-.9zM82.5 285.5h.9v.9h-.9zM91.0 291.0h.9v.9h-.9zM87.8 286.9h.9v.9h-.9zM89.8 282.8h.9v.9h-.9zM90.3 290.6h.9v.9h-.9zM86.9 291.5h.9v.9h-.9zM88.5 290.5h.9v.9h-.9zM95.7 287.5h.9v.9h-.9zM86.4 285.5h.9v.9h-.9zM83.1 290.7h.9v.9h-.9zM94.2 291.0h.9v.9h-.9zM96.0 288.1h.9v.9h-.9zM89.1 291.3h.9v.9h-.9zM90.4 285.1h.9v.9h-.9zM85.5 290.5h.9v.9h-.9zM89.2 289.6h.9v.9h-.9zM95.8 282.4h.9v.9h-.9zM93.9 282.4h.9v.9h-.9zM90.5 285.2h.9v.9h-.9zM88.4 287.6h.9v.9h-.9zM80.7 289.9h.9v.9h-.9zM91.7 286.3h.9v.9h-.9zM92.6 286.5h.9v.9h-.9zM96.1 285.8h.9v.9h-.9zM101.7 285.3h.9v.9h-.9zM92.4 288.2h.9v.9h-.9zM95.8 287.4h.9v.9h-.9zM83.5 288.1h.9v.9h-.9zM97.1 286.5h.9v.9h-.9zM94.8 285.1h.9v.9h-.9zM98.2 287.7h.9v.9h-.9zM93.7 285.2h.9v.9h-.9zM93.3 290.7h.9v.9h-.9zM98.6 285.6h.9v.9h-.9zM86.3 288.5h.9v.9h-.9zM93.4 284.6h.9v.9h-.9zM96.1 285.2h.9v.9h-.9zM85.6 288.3h.9v.9h-.9zM83.4 288.3h.9v.9h-.9zM92.3 285.2h.9v.9h-.9zM90.3 284.2h.9v.9h-.9zM93.6 286.6h.9v.9h-.9zM93.8 286.8h.9v.9h-.9zM85.9 289.2h.9v.9h-.9zM92.5 289.8h.9v.9h-.9zM96.4 285.2h.9v.9h-.9zM87.2 282.6h.9v.9h-.9zM88.4 287.1h.9v.9h-.9zM82.8 283.8h.9v.9h-.9zM94.2 283.1h.9v.9h-.9zM101.8 287.7h.9v.9h-.9zM82.4 289.9h.9v.9h-.9zM94.2 284.8h.9v.9h-.9zM95.0 284.7h.9v.9h-.9zM86.8 287.5h.9v.9h-.9zM87.2 283.2h.9v.9h-.9zM84.3 289.4h.9v.9h-.9zM85.4 287.1h.9v.9h-.9zM91.8 291.5h.9v.9h-.9zM93.4 283.9h.9v.9h-.9zM91.2 289.5h.9v.9h-.9zM94.7 284.6h.9v.9h-.9zM91.7 289.4h.9v.9h-.9zM83.0 285.9h.9v.9h-.9zM98.8 287.4h.9v.9h-.9zM96.8 284.8h.9v.9h-.9zM85.7 285.8h.9v.9h-.9zM100.3 285.0h.9v.9h-.9zM93.0 287.8h.9v.9h-.9zM91.1 288.0h.9v.9h-.9zM101.9 289.0h.9v.9h-.9zM76.1 291.7h.9v.9h-.9zM79.8 282.3h.9v.9h-.9zM94.1 285.4h.9v.9h-.9zM87.9 282.5h.9v.9h-.9zM84.5 287.1h.9v.9h-.9zM99.1 287.1h.9v.9h-.9zM92.4 283.3h.9v.9h-.9zM82.3 285.5h.9v.9h-.9zM86.4 288.1h.9v.9h-.9zM94.9 285.5h.9v.9h-.9zM101.1 289.2h.9v.9h-.9zM78.8 289.9h.9v.9h-.9zM91.8 288.2h.9v.9h-.9zM88.7 291.8h.9v.9h-.9zM79.9 287.7h.9v.9h-.9zM89.2 287.3h.9v.9h-.9zM80.5 286.3h.9v.9h-.9zM87.2 288.3h.9v.9h-.9zM100.0 288.0h.9v.9h-.9zM93.7 289.9h.9v.9h-.9zM94.7 286.2h.9v.9h-.9zM93.3 284.8h.9v.9h-.9zM91.9 284.9h.9v.9h-.9zM95.2 282.7h.9v.9h-.9zM83.5 288.6h.9v.9h-.9zM88.7 290.8h.9v.9h-.9zM94.1 280.4h.9v.9h-.9zM85.1 282.5h.9v.9h-.9zM88.3 291.0h.9v.9h-.9zM96.5 281.9h.9v.9h-.9zM99.2 286.4h.9v.9h-.9zM86.2 284.6h.9v.9h-.9zM85.9 289.9h.9v.9h-.9zM93.9 288.4h.9v.9h-.9zM91.9 287.3h.9v.9h-.9zM86.7 289.8h.9v.9h-.9zM93.7 286.6h.9v.9h-.9zM93.7 287.9h.9v.9h-.9zM91.5 291.5h.9v.9h-.9zM107.7 286.8h.9v.9h-.9zM97.8 284.1h.9v.9h-.9zM94.6 284.3h.9v.9h-.9zM96.1 285.5h.9v.9h-.9zM107.2 283.5h.9v.9h-.9zM96.6 286.2h.9v.9h-.9zM85.9 286.4h.9v.9h-.9zM92.4 288.4h.9v.9h-.9zM90.7 287.1h.9v.9h-.9zM87.1 288.6h.9v.9h-.9zM91.8 286.9h.9v.9h-.9zM92.0 288.4h.9v.9h-.9zM89.4 284.2h.9v.9h-.9zM88.1 291.5h.9v.9h-.9zM95.2 287.1h.9v.9h-.9zM81.3 289.9h.9v.9h-.9zM95.3 287.8h.9v.9h-.9zM90.8 289.8h.9v.9h-.9zM92.2 288.7h.9v.9h-.9zM76.7 290.1h.9v.9h-.9zM99.9 285.0h.9v.9h-.9zM79.6 284.8h.9v.9h-.9zM85.4 288.5h.9v.9h-.9zM93.9 285.7h.9v.9h-.9zM86.6 287.0h.9v.9h-.9zM89.0 293.5h.9v.9h-.9zM76.6 284.8h.9v.9h-.9zM87.8 287.7h.9v.9h-.9zM92.0 289.9h.9v.9h-.9zM94.6 288.8h.9v.9h-.9zM89.2 290.5h.9v.9h-.9zM91.0 283.8h.9v.9h-.9zM92.4 284.3h.9v.9h-.9zM86.7 289.4h.9v.9h-.9zM85.8 287.2h.9v.9h-.9zM102.4 289.4h.9v.9h-.9zM85.5 288.6h.9v.9h-.9zM97.5 286.4h.9v.9h-.9zM90.9 288.2h.9v.9h-.9zM98.7 285.0h.9v.9h-.9zM86.7 288.1h.9v.9h-.9zM93.0 285.0h.9v.9h-.9zM92.2 286.7h.9v.9h-.9zM88.8 286.2h.9v.9h-.9zM92.2 287.5h.9v.9h-.9zM85.2 284.5h.9v.9h-.9zM89.2 283.6h.9v.9h-.9zM88.2 288.7h.9v.9h-.9zM94.8 286.9h.9v.9h-.9zM89.4 284.9h.9v.9h-.9zM82.1 288.0h.9v.9h-.9zM87.7 285.0h.9v.9h-.9zM90.6 292.3h.9v.9h-.9zM84.4 284.2h.9v.9h-.9zM98.8 290.0h.9v.9h-.9zM92.3 284.7h.9v.9h-.9zM95.4 287.3h.9v.9h-.9zM85.8 287.3h.9v.9h-.9zM87.8 286.6h.9v.9h-.9zM96.5 288.4h.9v.9h-.9zM82.4 290.6h.9v.9h-.9zM92.3 286.1h.9v.9h-.9zM90.4 284.8h.9v.9h-.9zM88.3 292.8h.9v.9h-.9zM91.4 290.5h.9v.9h-.9zM84.1 288.6h.9v.9h-.9zM91.5 286.2h.9v.9h-.9zM83.4 289.1h.9v.9h-.9zM82.9 288.7h.9v.9h-.9zM98.9 288.7h.9v.9h-.9zM85.8 285.5h.9v.9h-.9zM78.1 289.4h.9v.9h-.9zM95.6 284.2h.9v.9h-.9zM86.4 291.2h.9v.9h-.9zM70.7 295.2h.9v.9h-.9zM89.9 287.0h.9v.9h-.9zM95.9 287.6h.9v.9h-.9zM93.0 290.3h.9v.9h-.9zM100.2 284.7h.9v.9h-.9zM89.2 285.0h.9v.9h-.9zM94.2 289.1h.9v.9h-.9zM84.7 289.5h.9v.9h-.9zM91.2 286.5h.9v.9h-.9zM99.8 289.2h.9v.9h-.9zM93.3 287.2h.9v.9h-.9zM90.5 282.6h.9v.9h-.9zM79.0 290.1h.9v.9h-.9zM88.1 287.4h.9v.9h-.9zM83.6 293.1h.9v.9h-.9zM94.8 286.3h.9v.9h-.9zM85.9 287.4h.9v.9h-.9zM92.6 287.9h.9v.9h-.9zM84.6 288.8h.9v.9h-.9zM100.7 281.8h.9v.9h-.9zM83.6 288.7h.9v.9h-.9zM91.0 286.2h.9v.9h-.9zM106.2 287.9h.9v.9h-.9zM92.6 292.9h.9v.9h-.9zM84.8 285.3h.9v.9h-.9zM93.5 284.2h.9v.9h-.9zM95.7 284.1h.9v.9h-.9zM95.1 284.7h.9v.9h-.9zM78.6 287.5h.9v.9h-.9zM91.6 287.1h.9v.9h-.9zM78.4 292.0h.9v.9h-.9zM100.8 282.0h.9v.9h-.9zM90.1 283.3h.9v.9h-.9zM86.8 283.1h.9v.9h-.9z" fill="rgba(60,60,60,0.5)"/>
<line x1="84.0" y1="237.6" x2="84.0" y2="308.8" stroke="#96204a" stroke-width="1.3"/>
<line x1="54.2" y1="278.7" x2="125.5" y2="278.7" stroke="#96204a" stroke-width="1.3"/>
<rect x="54.2" y="237.6" width="71.3" height="71.2" fill="none" stroke="#333" stroke-width="1.15"/>
<text x="122.3" y="250.79999999999998" font-size="10" text-anchor="end" fill="#8a2d4e" stroke="#8a2d4e" stroke-width="0.12">10.7</text>
<text x="56.2" y="306.8" font-size="10" text-anchor="start" fill="#8a2d4e" stroke="#8a2d4e" stroke-width="0.12">52.2</text>
<text x="122.1" y="306.8" font-size="10" text-anchor="end" fill="#8a2d4e" stroke="#8a2d4e" stroke-width="0.12">35.0</text>
<path d="M158.8 281.2h.9v.9h-.9zM145.4 295.9h.9v.9h-.9zM138.8 293.8h.9v.9h-.9zM143.1 285.2h.9v.9h-.9zM156.7 274.7h.9v.9h-.9zM179.0 269.5h.9v.9h-.9zM183.3 274.4h.9v.9h-.9zM159.2 272.2h.9v.9h-.9zM168.3 265.7h.9v.9h-.9zM161.3 283.2h.9v.9h-.9zM167.8 258.9h.9v.9h-.9zM164.7 289.5h.9v.9h-.9zM162.8 276.1h.9v.9h-.9zM155.4 287.5h.9v.9h-.9zM162.7 290.8h.9v.9h-.9zM183.4 258.7h.9v.9h-.9zM136.6 286.2h.9v.9h-.9zM163.9 292.6h.9v.9h-.9zM148.0 285.0h.9v.9h-.9zM172.4 273.0h.9v.9h-.9zM186.6 267.7h.9v.9h-.9zM155.8 289.3h.9v.9h-.9zM167.7 277.0h.9v.9h-.9zM166.5 274.8h.9v.9h-.9zM131.6 295.2h.9v.9h-.9zM154.9 285.0h.9v.9h-.9zM160.3 288.6h.9v.9h-.9zM173.1 285.0h.9v.9h-.9zM162.4 273.7h.9v.9h-.9zM163.0 282.2h.9v.9h-.9zM146.0 299.0h.9v.9h-.9zM150.2 293.8h.9v.9h-.9zM148.9 288.4h.9v.9h-.9zM162.9 273.2h.9v.9h-.9zM140.7 286.2h.9v.9h-.9zM180.2 268.7h.9v.9h-.9zM164.5 280.0h.9v.9h-.9zM180.1 260.4h.9v.9h-.9zM158.3 276.6h.9v.9h-.9zM150.6 288.7h.9v.9h-.9zM161.6 284.9h.9v.9h-.9zM159.8 278.2h.9v.9h-.9zM140.4 287.3h.9v.9h-.9zM188.2 288.0h.9v.9h-.9zM177.6 271.5h.9v.9h-.9zM151.5 282.7h.9v.9h-.9zM141.1 286.7h.9v.9h-.9zM169.1 267.9h.9v.9h-.9zM152.1 272.8h.9v.9h-.9zM160.9 279.6h.9v.9h-.9zM166.8 275.0h.9v.9h-.9zM144.8 297.9h.9v.9h-.9zM165.8 266.9h.9v.9h-.9zM184.1 276.1h.9v.9h-.9zM149.6 290.1h.9v.9h-.9zM143.0 279.2h.9v.9h-.9zM170.4 278.2h.9v.9h-.9zM173.2 282.8h.9v.9h-.9zM163.3 278.6h.9v.9h-.9zM166.9 278.6h.9v.9h-.9zM163.2 274.3h.9v.9h-.9zM157.3 283.7h.9v.9h-.9zM130.8 303.2h.9v.9h-.9zM157.9 284.0h.9v.9h-.9zM156.2 287.6h.9v.9h-.9zM151.1 274.7h.9v.9h-.9zM161.3 280.1h.9v.9h-.9zM152.1 280.2h.9v.9h-.9zM143.3 292.5h.9v.9h-.9zM136.8 299.3h.9v.9h-.9zM180.0 278.0h.9v.9h-.9zM169.2 269.2h.9v.9h-.9zM135.3 290.9h.9v.9h-.9zM150.7 279.1h.9v.9h-.9zM164.6 278.3h.9v.9h-.9zM182.8 268.9h.9v.9h-.9zM147.6 285.7h.9v.9h-.9zM157.1 274.2h.9v.9h-.9zM175.5 271.7h.9v.9h-.9zM147.6 290.8h.9v.9h-.9zM156.2 280.7h.9v.9h-.9zM149.3 293.5h.9v.9h-.9zM191.2 265.3h.9v.9h-.9zM166.2 265.3h.9v.9h-.9zM160.1 279.2h.9v.9h-.9zM138.7 282.6h.9v.9h-.9zM173.6 279.3h.9v.9h-.9zM171.2 283.6h.9v.9h-.9zM149.3 285.9h.9v.9h-.9zM151.8 287.6h.9v.9h-.9zM130.7 286.8h.9v.9h-.9zM150.3 271.2h.9v.9h-.9zM169.6 271.8h.9v.9h-.9zM172.5 272.1h.9v.9h-.9zM162.6 269.4h.9v.9h-.9zM170.6 275.3h.9v.9h-.9zM149.1 288.2h.9v.9h-.9zM151.8 288.9h.9v.9h-.9zM180.4 279.4h.9v.9h-.9zM166.7 282.0h.9v.9h-.9zM144.0 286.6h.9v.9h-.9zM165.6 278.1h.9v.9h-.9zM172.0 277.8h.9v.9h-.9zM165.8 270.7h.9v.9h-.9zM162.6 287.5h.9v.9h-.9zM151.7 290.6h.9v.9h-.9zM163.1 277.3h.9v.9h-.9zM182.3 264.5h.9v.9h-.9zM169.8 299.5h.9v.9h-.9zM149.2 291.5h.9v.9h-.9zM165.2 283.6h.9v.9h-.9zM142.9 301.0h.9v.9h-.9zM163.6 284.8h.9v.9h-.9zM153.3 285.3h.9v.9h-.9zM174.3 277.3h.9v.9h-.9zM156.6 276.4h.9v.9h-.9zM175.7 276.6h.9v.9h-.9zM189.3 255.0h.9v.9h-.9zM155.1 285.7h.9v.9h-.9zM145.8 291.5h.9v.9h-.9zM160.5 270.2h.9v.9h-.9zM161.1 292.1h.9v.9h-.9zM156.6 274.9h.9v.9h-.9zM150.7 292.0h.9v.9h-.9zM164.7 274.6h.9v.9h-.9zM159.3 282.8h.9v.9h-.9zM160.3 296.2h.9v.9h-.9zM165.3 284.2h.9v.9h-.9zM180.6 281.1h.9v.9h-.9zM150.4 290.6h.9v.9h-.9zM146.7 292.0h.9v.9h-.9zM175.7 273.1h.9v.9h-.9zM147.2 285.8h.9v.9h-.9zM160.6 284.0h.9v.9h-.9zM165.2 278.8h.9v.9h-.9zM168.5 275.0h.9v.9h-.9zM153.9 275.0h.9v.9h-.9zM139.2 289.6h.9v.9h-.9zM174.8 276.5h.9v.9h-.9zM149.4 283.2h.9v.9h-.9zM150.2 288.0h.9v.9h-.9zM188.3 264.6h.9v.9h-.9zM168.4 269.5h.9v.9h-.9zM138.4 286.2h.9v.9h-.9zM147.9 282.2h.9v.9h-.9zM152.8 282.5h.9v.9h-.9zM145.0 286.8h.9v.9h-.9zM130.4 303.4h.9v.9h-.9zM167.0 269.9h.9v.9h-.9zM164.1 265.3h.9v.9h-.9zM163.0 283.3h.9v.9h-.9zM149.9 283.0h.9v.9h-.9zM160.4 279.6h.9v.9h-.9zM174.1 289.4h.9v.9h-.9zM145.0 297.9h.9v.9h-.9zM153.8 287.6h.9v.9h-.9zM151.2 291.3h.9v.9h-.9zM168.5 276.8h.9v.9h-.9zM164.0 284.6h.9v.9h-.9zM135.5 289.7h.9v.9h-.9zM145.9 283.5h.9v.9h-.9zM183.6 265.0h.9v.9h-.9zM146.4 297.9h.9v.9h-.9zM163.8 288.5h.9v.9h-.9zM145.9 284.2h.9v.9h-.9zM179.8 277.5h.9v.9h-.9zM155.9 281.7h.9v.9h-.9zM153.4 291.0h.9v.9h-.9zM138.2 290.1h.9v.9h-.9zM156.1 288.8h.9v.9h-.9zM169.9 274.6h.9v.9h-.9zM167.0 275.0h.9v.9h-.9zM136.7 292.9h.9v.9h-.9zM182.0 269.9h.9v.9h-.9zM152.0 281.2h.9v.9h-.9zM137.3 283.9h.9v.9h-.9zM163.8 289.4h.9v.9h-.9zM146.6 285.2h.9v.9h-.9zM143.5 277.8h.9v.9h-.9zM141.5 276.0h.9v.9h-.9zM148.5 268.8h.9v.9h-.9zM147.9 283.1h.9v.9h-.9zM134.3 303.0h.9v.9h-.9zM161.1 269.6h.9v.9h-.9zM148.3 284.8h.9v.9h-.9zM171.0 263.0h.9v.9h-.9zM168.5 283.1h.9v.9h-.9zM167.8 278.8h.9v.9h-.9zM161.0 282.2h.9v.9h-.9zM181.0 278.1h.9v.9h-.9zM156.6 293.0h.9v.9h-.9zM144.6 295.4h.9v.9h-.9zM161.1 276.4h.9v.9h-.9zM148.8 279.9h.9v.9h-.9zM156.0 271.6h.9v.9h-.9zM155.6 294.5h.9v.9h-.9zM176.3 270.8h.9v.9h-.9zM168.5 277.0h.9v.9h-.9zM159.5 282.2h.9v.9h-.9zM156.4 295.5h.9v.9h-.9zM172.8 270.3h.9v.9h-.9zM149.9 293.6h.9v.9h-.9zM151.6 287.1h.9v.9h-.9zM168.4 275.2h.9v.9h-.9zM161.4 267.6h.9v.9h-.9zM191.3 269.9h.9v.9h-.9zM151.9 280.2h.9v.9h-.9zM168.1 277.8h.9v.9h-.9zM177.0 272.2h.9v.9h-.9zM157.7 289.1h.9v.9h-.9zM179.6 265.9h.9v.9h-.9zM185.3 268.3h.9v.9h-.9zM147.6 289.0h.9v.9h-.9zM149.8 286.2h.9v.9h-.9zM139.6 295.9h.9v.9h-.9zM165.0 276.4h.9v.9h-.9zM171.6 282.2h.9v.9h-.9zM164.7 273.6h.9v.9h-.9zM134.3 285.1h.9v.9h-.9zM145.3 288.2h.9v.9h-.9zM138.2 299.9h.9v.9h-.9zM130.8 292.9h.9v.9h-.9zM134.7 290.1h.9v.9h-.9zM131.8 293.5h.9v.9h-.9zM154.8 284.5h.9v.9h-.9zM163.3 277.8h.9v.9h-.9zM167.7 278.6h.9v.9h-.9zM152.3 273.7h.9v.9h-.9zM150.8 295.2h.9v.9h-.9zM158.6 285.2h.9v.9h-.9zM163.7 273.2h.9v.9h-.9zM156.2 291.5h.9v.9h-.9zM159.2 284.0h.9v.9h-.9zM156.3 292.1h.9v.9h-.9zM145.9 280.6h.9v.9h-.9zM162.1 290.2h.9v.9h-.9zM140.0 291.6h.9v.9h-.9zM167.9 263.3h.9v.9h-.9zM135.0 298.8h.9v.9h-.9zM163.5 276.9h.9v.9h-.9zM133.4 288.3h.9v.9h-.9zM179.9 268.7h.9v.9h-.9zM165.4 265.3h.9v.9h-.9zM146.1 291.8h.9v.9h-.9zM149.6 284.8h.9v.9h-.9zM139.0 290.1h.9v.9h-.9zM160.0 289.8h.9v.9h-.9zM163.6 279.0h.9v.9h-.9zM194.9 257.9h.9v.9h-.9zM133.5 288.7h.9v.9h-.9zM176.1 271.7h.9v.9h-.9zM150.9 292.3h.9v.9h-.9zM159.8 277.0h.9v.9h-.9zM167.9 269.8h.9v.9h-.9zM168.0 282.4h.9v.9h-.9zM163.8 279.0h.9v.9h-.9zM154.0 283.7h.9v.9h-.9zM162.5 292.7h.9v.9h-.9zM156.2 274.9h.9v.9h-.9zM176.2 273.4h.9v.9h-.9zM129.7 285.4h.9v.9h-.9zM148.7 284.7h.9v.9h-.9zM139.4 295.4h.9v.9h-.9zM145.2 295.7h.9v.9h-.9zM141.4 282.4h.9v.9h-.9zM176.3 277.4h.9v.9h-.9zM192.3 268.5h.9v.9h-.9zM177.7 270.5h.9v.9h-.9zM145.4 304.2h.9v.9h-.9zM158.3 281.6h.9v.9h-.9zM137.2 287.1h.9v.9h-.9zM165.1 280.7h.9v.9h-.9zM171.8 262.5h.9v.9h-.9zM170.3 285.2h.9v.9h-.9zM173.2 280.0h.9v.9h-.9zM153.8 281.4h.9v.9h-.9zM160.7 292.7h.9v.9h-.9zM164.3 274.4h.9v.9h-.9zM173.3 265.3h.9v.9h-.9zM146.3 274.9h.9v.9h-.9zM157.5 280.1h.9v.9h-.9zM156.9 272.3h.9v.9h-.9zM173.0 272.6h.9v.9h-.9zM157.1 284.8h.9v.9h-.9zM139.0 289.0h.9v.9h-.9zM171.3 268.6h.9v.9h-.9zM166.6 284.8h.9v.9h-.9zM162.5 278.1h.9v.9h-.9zM138.1 293.8h.9v.9h-.9zM159.5 287.0h.9v.9h-.9zM160.1 296.6h.9v.9h-.9zM150.0 285.0h.9v.9h-.9zM163.1 272.3h.9v.9h-.9zM178.7 269.1h.9v.9h-.9zM155.0 279.6h.9v.9h-.9zM181.4 261.4h.9v.9h-.9zM146.9 285.0h.9v.9h-.9zM168.8 275.8h.9v.9h-.9zM137.5 292.5h.9v.9h-.9zM160.5 283.9h.9v.9h-.9zM147.6 276.1h.9v.9h-.9zM149.9 276.4h.9v.9h-.9zM168.3 281.3h.9v.9h-.9zM162.1 287.3h.9v.9h-.9zM145.4 290.4h.9v.9h-.9zM155.2 274.2h.9v.9h-.9zM164.6 281.7h.9v.9h-.9zM148.7 280.2h.9v.9h-.9zM152.1 286.6h.9v.9h-.9zM142.6 297.8h.9v.9h-.9zM171.2 288.3h.9v.9h-.9zM146.6 287.4h.9v.9h-.9zM165.8 282.1h.9v.9h-.9zM135.9 295.4h.9v.9h-.9zM180.3 275.0h.9v.9h-.9zM134.6 277.8h.9v.9h-.9zM173.9 270.8h.9v.9h-.9zM151.0 287.3h.9v.9h-.9zM166.8 280.1h.9v.9h-.9zM152.9 279.6h.9v.9h-.9zM169.8 280.8h.9v.9h-.9zM160.1 287.7h.9v.9h-.9zM176.8 272.2h.9v.9h-.9zM166.8 275.6h.9v.9h-.9zM166.6 274.8h.9v.9h-.9zM183.2 269.2h.9v.9h-.9zM149.5 293.8h.9v.9h-.9zM181.1 279.0h.9v.9h-.9zM157.0 279.3h.9v.9h-.9zM131.9 289.7h.9v.9h-.9zM162.4 274.3h.9v.9h-.9zM156.6 288.8h.9v.9h-.9zM183.7 269.5h.9v.9h-.9zM150.3 287.7h.9v.9h-.9zM159.1 284.2h.9v.9h-.9zM161.7 282.2h.9v.9h-.9zM162.2 272.9h.9v.9h-.9zM140.2 287.3h.9v.9h-.9zM179.1 271.3h.9v.9h-.9zM183.8 270.5h.9v.9h-.9zM156.0 280.4h.9v.9h-.9zM131.6 293.1h.9v.9h-.9zM163.5 287.5h.9v.9h-.9zM158.6 278.4h.9v.9h-.9zM168.8 277.4h.9v.9h-.9zM151.7 283.0h.9v.9h-.9zM136.5 287.7h.9v.9h-.9zM150.9 275.8h.9v.9h-.9zM141.4 287.1h.9v.9h-.9zM182.2 263.6h.9v.9h-.9zM148.5 292.2h.9v.9h-.9zM144.0 281.8h.9v.9h-.9zM155.3 280.5h.9v.9h-.9zM139.7 295.6h.9v.9h-.9zM149.9 285.3h.9v.9h-.9zM156.3 285.8h.9v.9h-.9zM151.8 290.4h.9v.9h-.9zM148.8 276.0h.9v.9h-.9zM175.1 270.0h.9v.9h-.9zM161.2 273.9h.9v.9h-.9zM140.1 299.9h.9v.9h-.9zM150.2 285.1h.9v.9h-.9zM169.9 278.6h.9v.9h-.9zM151.6 296.0h.9v.9h-.9zM157.4 279.8h.9v.9h-.9zM156.9 282.8h.9v.9h-.9zM166.3 279.9h.9v.9h-.9zM153.6 282.3h.9v.9h-.9zM158.2 289.6h.9v.9h-.9zM146.0 293.3h.9v.9h-.9zM165.3 284.2h.9v.9h-.9zM143.0 290.0h.9v.9h-.9zM182.9 266.3h.9v.9h-.9zM155.9 280.6h.9v.9h-.9zM152.7 282.2h.9v.9h-.9zM164.9 267.6h.9v.9h-.9zM156.8 284.7h.9v.9h-.9zM160.6 285.5h.9v.9h-.9zM156.3 282.6h.9v.9h-.9zM144.6 285.7h.9v.9h-.9zM143.0 289.9h.9v.9h-.9zM146.9 289.0h.9v.9h-.9zM175.4 274.6h.9v.9h-.9zM152.2 296.2h.9v.9h-.9zM148.6 281.3h.9v.9h-.9zM151.2 287.7h.9v.9h-.9zM169.6 279.9h.9v.9h-.9zM187.8 266.4h.9v.9h-.9zM142.3 288.6h.9v.9h-.9zM162.8 272.6h.9v.9h-.9zM157.4 278.3h.9v.9h-.9zM154.3 288.2h.9v.9h-.9zM168.7 285.2h.9v.9h-.9zM135.8 289.3h.9v.9h-.9zM171.1 277.7h.9v.9h-.9zM161.9 283.0h.9v.9h-.9zM144.4 295.3h.9v.9h-.9zM182.2 270.4h.9v.9h-.9zM171.3 277.4h.9v.9h-.9zM177.3 277.1h.9v.9h-.9zM131.7 288.3h.9v.9h-.9zM153.1 284.6h.9v.9h-.9zM144.4 277.8h.9v.9h-.9zM161.6 267.4h.9v.9h-.9zM175.8 267.1h.9v.9h-.9zM158.7 284.5h.9v.9h-.9zM157.8 288.1h.9v.9h-.9zM171.6 272.5h.9v.9h-.9zM156.1 281.8h.9v.9h-.9zM136.9 291.4h.9v.9h-.9zM153.4 282.5h.9v.9h-.9zM141.5 291.3h.9v.9h-.9zM146.1 290.3h.9v.9h-.9zM156.5 279.6h.9v.9h-.9zM147.7 282.2h.9v.9h-.9zM160.0 277.3h.9v.9h-.9zM135.9 298.5h.9v.9h-.9zM191.6 261.2h.9v.9h-.9zM180.2 279.0h.9v.9h-.9zM167.5 275.1h.9v.9h-.9zM140.8 299.4h.9v.9h-.9zM142.0 285.8h.9v.9h-.9zM154.8 286.4h.9v.9h-.9zM192.6 266.4h.9v.9h-.9zM176.7 270.7h.9v.9h-.9zM154.3 296.5h.9v.9h-.9zM175.8 272.7h.9v.9h-.9zM176.6 273.6h.9v.9h-.9zM145.9 284.9h.9v.9h-.9zM152.4 288.1h.9v.9h-.9zM158.0 291.6h.9v.9h-.9zM144.3 294.0h.9v.9h-.9zM132.9 294.7h.9v.9h-.9zM161.2 283.6h.9v.9h-.9zM150.0 286.2h.9v.9h-.9zM141.2 292.9h.9v.9h-.9zM148.7 294.9h.9v.9h-.9zM142.7 290.9h.9v.9h-.9zM129.9 299.5h.9v.9h-.9zM142.9 289.4h.9v.9h-.9zM132.5 298.4h.9v.9h-.9zM145.9 285.7h.9v.9h-.9zM144.2 291.1h.9v.9h-.9zM154.9 283.0h.9v.9h-.9zM144.5 292.9h.9v.9h-.9zM149.2 291.3h.9v.9h-.9zM141.1 287.2h.9v.9h-.9zM140.6 288.2h.9v.9h-.9zM131.1 292.0h.9v.9h-.9zM153.0 281.7h.9v.9h-.9zM145.7 286.0h.9v.9h-.9zM138.5 288.2h.9v.9h-.9zM147.8 292.5h.9v.9h-.9zM142.4 296.5h.9v.9h-.9zM137.6 290.2h.9v.9h-.9zM147.1 288.3h.9v.9h-.9zM157.0 287.7h.9v.9h-.9zM141.9 288.7h.9v.9h-.9zM131.0 292.7h.9v.9h-.9zM139.9 294.9h.9v.9h-.9zM162.6 286.3h.9v.9h-.9zM137.1 291.8h.9v.9h-.9zM155.9 284.8h.9v.9h-.9zM144.2 296.4h.9v.9h-.9zM151.5 285.8h.9v.9h-.9zM144.1 290.8h.9v.9h-.9zM140.4 288.8h.9v.9h-.9zM165.5 285.0h.9v.9h-.9zM143.3 288.9h.9v.9h-.9zM151.0 290.7h.9v.9h-.9zM141.8 291.2h.9v.9h-.9zM142.3 285.1h.9v.9h-.9zM145.7 280.3h.9v.9h-.9zM150.6 292.7h.9v.9h-.9zM165.9 282.1h.9v.9h-.9zM146.4 295.8h.9v.9h-.9zM143.3 290.6h.9v.9h-.9zM137.8 288.8h.9v.9h-.9zM132.9 295.6h.9v.9h-.9zM151.4 288.4h.9v.9h-.9zM159.3 288.9h.9v.9h-.9zM154.5 292.1h.9v.9h-.9zM141.6 288.8h.9v.9h-.9zM135.7 299.9h.9v.9h-.9zM144.7 287.8h.9v.9h-.9zM145.5 291.0h.9v.9h-.9zM154.2 280.8h.9v.9h-.9zM135.9 284.5h.9v.9h-.9zM143.6 299.1h.9v.9h-.9zM146.0 295.7h.9v.9h-.9zM143.5 295.2h.9v.9h-.9zM137.3 285.1h.9v.9h-.9zM129.6 295.9h.9v.9h-.9zM138.6 292.1h.9v.9h-.9zM143.2 291.8h.9v.9h-.9zM153.7 283.9h.9v.9h-.9zM167.2 283.4h.9v.9h-.9zM160.4 281.2h.9v.9h-.9zM148.5 287.7h.9v.9h-.9zM163.6 286.6h.9v.9h-.9zM143.1 287.3h.9v.9h-.9zM139.7 290.3h.9v.9h-.9zM166.9 282.4h.9v.9h-.9zM134.8 292.9h.9v.9h-.9zM142.0 294.7h.9v.9h-.9zM142.8 291.6h.9v.9h-.9zM159.6 287.8h.9v.9h-.9zM137.8 286.0h.9v.9h-.9zM152.2 286.6h.9v.9h-.9zM142.0 294.2h.9v.9h-.9zM132.3 289.9h.9v.9h-.9zM146.9 287.8h.9v.9h-.9zM145.7 285.9h.9v.9h-.9zM135.3 298.2h.9v.9h-.9zM136.2 290.5h.9v.9h-.9zM136.6 289.3h.9v.9h-.9zM155.0 289.9h.9v.9h-.9zM150.6 293.1h.9v.9h-.9zM147.9 291.3h.9v.9h-.9zM150.8 292.5h.9v.9h-.9zM140.7 292.1h.9v.9h-.9zM149.5 288.3h.9v.9h-.9zM138.8 289.9h.9v.9h-.9zM131.7 291.5h.9v.9h-.9zM137.7 289.5h.9v.9h-.9zM147.5 290.9h.9v.9h-.9zM145.8 289.4h.9v.9h-.9zM155.4 287.6h.9v.9h-.9zM142.9 290.4h.9v.9h-.9zM147.5 283.7h.9v.9h-.9zM135.0 289.5h.9v.9h-.9zM146.3 285.1h.9v.9h-.9zM139.1 283.7h.9v.9h-.9zM134.3 293.3h.9v.9h-.9zM154.7 282.5h.9v.9h-.9zM130.3 288.7h.9v.9h-.9zM153.6 283.3h.9v.9h-.9zM142.0 294.5h.9v.9h-.9zM135.7 291.2h.9v.9h-.9zM137.6 296.2h.9v.9h-.9zM137.9 291.6h.9v.9h-.9zM136.4 290.5h.9v.9h-.9zM148.3 291.5h.9v.9h-.9zM157.2 287.2h.9v.9h-.9zM152.1 283.8h.9v.9h-.9zM158.0 284.7h.9v.9h-.9zM134.4 288.0h.9v.9h-.9zM139.2 292.0h.9v.9h-.9zM145.0 296.2h.9v.9h-.9zM149.5 294.7h.9v.9h-.9zM140.8 294.0h.9v.9h-.9zM145.3 293.9h.9v.9h-.9zM146.8 290.5h.9v.9h-.9zM133.0 304.7h.9v.9h-.9zM164.1 291.2h.9v.9h-.9zM137.0 303.1h.9v.9h-.9zM148.0 290.8h.9v.9h-.9zM155.9 288.8h.9v.9h-.9zM138.6 296.1h.9v.9h-.9zM145.3 290.7h.9v.9h-.9zM161.2 287.0h.9v.9h-.9zM141.4 286.9h.9v.9h-.9zM156.2 290.9h.9v.9h-.9zM148.1 289.8h.9v.9h-.9zM148.1 292.5h.9v.9h-.9zM151.8 287.3h.9v.9h-.9zM141.0 283.7h.9v.9h-.9zM143.6 292.5h.9v.9h-.9zM155.6 292.0h.9v.9h-.9zM146.3 284.4h.9v.9h-.9zM148.9 284.9h.9v.9h-.9z" fill="rgba(130,130,130,0.35)"/>
<path d="M165.6 278.2h.9v.9h-.9zM183.4 268.6h.9v.9h-.9zM175.4 268.6h.9v.9h-.9zM170.5 267.6h.9v.9h-.9zM154.7 277.7h.9v.9h-.9zM172.3 272.5h.9v.9h-.9zM165.0 274.7h.9v.9h-.9zM171.6 270.4h.9v.9h-.9zM178.0 273.0h.9v.9h-.9zM161.8 273.9h.9v.9h-.9zM172.2 275.5h.9v.9h-.9zM175.9 269.2h.9v.9h-.9zM170.8 273.6h.9v.9h-.9zM165.2 272.1h.9v.9h-.9zM160.6 277.9h.9v.9h-.9zM162.8 274.4h.9v.9h-.9zM156.7 274.1h.9v.9h-.9zM177.4 270.1h.9v.9h-.9zM170.1 273.4h.9v.9h-.9zM160.4 280.8h.9v.9h-.9zM169.6 274.7h.9v.9h-.9zM157.4 276.1h.9v.9h-.9zM141.6 284.8h.9v.9h-.9zM176.1 262.6h.9v.9h-.9zM177.5 266.4h.9v.9h-.9zM158.8 283.0h.9v.9h-.9zM165.3 280.7h.9v.9h-.9zM171.9 275.2h.9v.9h-.9zM166.5 276.2h.9v.9h-.9zM163.0 278.7h.9v.9h-.9zM165.7 277.2h.9v.9h-.9zM165.1 270.2h.9v.9h-.9zM163.6 273.7h.9v.9h-.9zM172.5 276.3h.9v.9h-.9zM168.8 277.9h.9v.9h-.9zM163.3 277.4h.9v.9h-.9zM169.1 273.0h.9v.9h-.9zM155.2 279.2h.9v.9h-.9zM180.4 266.9h.9v.9h-.9zM153.9 278.1h.9v.9h-.9zM166.2 269.1h.9v.9h-.9zM172.2 273.0h.9v.9h-.9zM172.1 271.1h.9v.9h-.9zM171.1 272.3h.9v.9h-.9zM181.7 273.7h.9v.9h-.9zM160.8 279.8h.9v.9h-.9zM167.8 272.3h.9v.9h-.9zM171.2 274.9h.9v.9h-.9zM163.3 271.8h.9v.9h-.9zM165.7 279.0h.9v.9h-.9zM180.1 269.7h.9v.9h-.9zM163.2 276.1h.9v.9h-.9zM166.0 277.3h.9v.9h-.9zM168.8 278.9h.9v.9h-.9zM166.9 273.5h.9v.9h-.9zM169.3 270.6h.9v.9h-.9zM170.2 280.4h.9v.9h-.9zM172.3 272.5h.9v.9h-.9zM172.2 277.4h.9v.9h-.9zM172.3 270.3h.9v.9h-.9zM180.9 269.7h.9v.9h-.9zM161.5 275.4h.9v.9h-.9zM183.5 269.3h.9v.9h-.9zM165.2 274.9h.9v.9h-.9zM173.8 269.6h.9v.9h-.9zM172.5 277.5h.9v.9h-.9zM167.2 276.0h.9v.9h-.9zM150.7 275.9h.9v.9h-.9zM182.0 267.2h.9v.9h-.9zM161.9 274.3h.9v.9h-.9zM161.3 273.6h.9v.9h-.9zM177.1 268.3h.9v.9h-.9zM169.2 272.3h.9v.9h-.9zM184.7 266.8h.9v.9h-.9zM181.9 265.4h.9v.9h-.9zM172.6 266.2h.9v.9h-.9zM170.6 271.5h.9v.9h-.9zM176.5 273.4h.9v.9h-.9zM156.8 275.2h.9v.9h-.9zM171.4 274.9h.9v.9h-.9zM171.0 274.6h.9v.9h-.9zM164.8 274.5h.9v.9h-.9zM171.6 273.8h.9v.9h-.9zM156.4 277.4h.9v.9h-.9zM176.0 269.4h.9v.9h-.9zM178.4 266.3h.9v.9h-.9zM159.2 280.1h.9v.9h-.9zM172.1 277.1h.9v.9h-.9zM180.9 266.2h.9v.9h-.9zM174.1 275.6h.9v.9h-.9zM158.1 272.1h.9v.9h-.9zM160.0 275.3h.9v.9h-.9zM174.8 268.0h.9v.9h-.9zM186.2 271.6h.9v.9h-.9zM159.6 276.4h.9v.9h-.9zM170.5 275.9h.9v.9h-.9zM160.3 271.3h.9v.9h-.9zM167.0 275.3h.9v.9h-.9zM172.4 274.3h.9v.9h-.9zM168.8 274.0h.9v.9h-.9zM160.2 269.2h.9v.9h-.9zM186.5 266.4h.9v.9h-.9zM168.9 276.7h.9v.9h-.9zM169.4 278.2h.9v.9h-.9zM178.7 270.8h.9v.9h-.9zM167.1 269.3h.9v.9h-.9zM167.3 274.1h.9v.9h-.9zM178.0 272.8h.9v.9h-.9zM159.8 275.6h.9v.9h-.9zM175.9 272.6h.9v.9h-.9zM176.9 268.7h.9v.9h-.9zM174.6 271.7h.9v.9h-.9zM168.7 276.7h.9v.9h-.9zM168.2 272.0h.9v.9h-.9zM158.9 288.2h.9v.9h-.9zM168.3 274.8h.9v.9h-.9zM171.9 273.8h.9v.9h-.9zM175.2 268.6h.9v.9h-.9zM170.4 273.6h.9v.9h-.9zM165.7 274.7h.9v.9h-.9zM160.5 273.1h.9v.9h-.9zM166.9 269.9h.9v.9h-.9zM170.6 274.2h.9v.9h-.9zM178.8 269.1h.9v.9h-.9zM165.9 266.8h.9v.9h-.9zM162.4 270.0h.9v.9h-.9zM167.9 273.5h.9v.9h-.9zM165.2 275.6h.9v.9h-.9zM168.0 276.5h.9v.9h-.9zM149.8 278.9h.9v.9h-.9zM157.0 281.5h.9v.9h-.9zM159.1 277.6h.9v.9h-.9zM172.3 270.8h.9v.9h-.9zM168.3 273.8h.9v.9h-.9zM171.6 276.1h.9v.9h-.9zM179.2 271.1h.9v.9h-.9zM161.9 280.3h.9v.9h-.9zM177.5 267.8h.9v.9h-.9zM171.9 271.7h.9v.9h-.9zM161.9 273.5h.9v.9h-.9zM180.5 266.8h.9v.9h-.9zM157.1 278.2h.9v.9h-.9zM159.5 276.9h.9v.9h-.9zM168.4 276.7h.9v.9h-.9zM173.0 273.6h.9v.9h-.9zM168.6 276.7h.9v.9h-.9zM152.1 282.3h.9v.9h-.9zM168.1 278.0h.9v.9h-.9zM168.6 274.6h.9v.9h-.9zM190.9 267.0h.9v.9h-.9zM180.9 270.1h.9v.9h-.9zM171.1 275.5h.9v.9h-.9zM160.3 277.9h.9v.9h-.9zM170.3 269.3h.9v.9h-.9zM157.9 274.4h.9v.9h-.9zM173.3 278.5h.9v.9h-.9zM172.6 273.6h.9v.9h-.9zM166.5 276.6h.9v.9h-.9zM170.9 272.5h.9v.9h-.9zM165.9 273.9h.9v.9h-.9zM168.2 283.9h.9v.9h-.9zM180.1 265.1h.9v.9h-.9zM173.7 271.6h.9v.9h-.9zM166.6 275.0h.9v.9h-.9zM161.5 273.7h.9v.9h-.9zM168.9 269.8h.9v.9h-.9zM172.8 269.9h.9v.9h-.9zM175.6 269.8h.9v.9h-.9zM180.4 267.1h.9v.9h-.9zM173.9 274.4h.9v.9h-.9zM158.6 274.9h.9v.9h-.9zM186.0 267.4h.9v.9h-.9zM180.3 273.6h.9v.9h-.9zM177.0 273.2h.9v.9h-.9zM178.4 265.8h.9v.9h-.9zM153.4 271.5h.9v.9h-.9zM167.2 277.6h.9v.9h-.9zM165.6 277.2h.9v.9h-.9zM178.0 267.9h.9v.9h-.9zM161.2 281.9h.9v.9h-.9zM166.0 274.1h.9v.9h-.9zM181.5 268.5h.9v.9h-.9zM173.0 268.7h.9v.9h-.9zM166.4 276.3h.9v.9h-.9zM183.7 265.7h.9v.9h-.9zM157.8 277.6h.9v.9h-.9zM174.1 275.2h.9v.9h-.9zM167.6 275.4h.9v.9h-.9zM171.3 268.0h.9v.9h-.9zM167.8 276.9h.9v.9h-.9zM163.4 279.4h.9v.9h-.9zM169.8 270.9h.9v.9h-.9zM158.0 277.8h.9v.9h-.9zM173.4 272.1h.9v.9h-.9zM166.2 274.5h.9v.9h-.9zM176.7 270.8h.9v.9h-.9zM166.3 277.4h.9v.9h-.9zM163.1 275.1h.9v.9h-.9zM175.0 278.1h.9v.9h-.9zM178.1 267.4h.9v.9h-.9zM151.8 280.3h.9v.9h-.9zM172.6 278.9h.9v.9h-.9zM177.2 278.1h.9v.9h-.9zM157.7 279.4h.9v.9h-.9zM161.8 276.7h.9v.9h-.9zM172.9 268.6h.9v.9h-.9zM163.9 280.2h.9v.9h-.9zM164.2 276.8h.9v.9h-.9zM181.8 265.2h.9v.9h-.9zM162.0 278.6h.9v.9h-.9zM163.9 280.9h.9v.9h-.9zM151.4 284.5h.9v.9h-.9zM163.1 284.1h.9v.9h-.9zM160.7 281.7h.9v.9h-.9zM183.4 268.7h.9v.9h-.9zM178.8 269.3h.9v.9h-.9zM159.6 280.2h.9v.9h-.9zM186.4 269.9h.9v.9h-.9zM176.4 273.4h.9v.9h-.9zM169.0 277.5h.9v.9h-.9z" fill="rgba(60,60,60,0.5)"/>
<line x1="158.8" y1="237.6" x2="158.8" y2="308.8" stroke="#3a4d78" stroke-width="1.3"/>
<line x1="129.0" y1="278.7" x2="200.3" y2="278.7" stroke="#3a4d78" stroke-width="1.3"/>
<rect x="129.0" y="237.6" width="71.3" height="71.2" fill="none" stroke="#333" stroke-width="1.15"/>
<text x="197.10000000000002" y="250.79999999999998" font-size="10" text-anchor="end" fill="#3d4a66" stroke="#3d4a66" stroke-width="0.12">21.2</text>
<text x="131.0" y="306.8" font-size="10" text-anchor="start" fill="#3d4a66" stroke="#3d4a66" stroke-width="0.12">32.6</text>
<text x="196.9" y="306.8" font-size="10" text-anchor="end" fill="#3d4a66" stroke="#3d4a66" stroke-width="0.12">39.2</text>
<path d="M89.7 372.8h.9v.9h-.9zM90.0 373.8h.9v.9h-.9zM83.9 377.2h.9v.9h-.9zM98.4 373.8h.9v.9h-.9zM95.2 378.0h.9v.9h-.9zM88.4 374.5h.9v.9h-.9zM83.4 374.2h.9v.9h-.9zM92.5 376.1h.9v.9h-.9zM99.3 374.2h.9v.9h-.9zM94.5 375.0h.9v.9h-.9zM95.8 373.2h.9v.9h-.9zM87.0 373.0h.9v.9h-.9zM92.0 373.6h.9v.9h-.9zM84.7 374.8h.9v.9h-.9zM99.3 373.7h.9v.9h-.9zM93.4 372.1h.9v.9h-.9zM82.2 375.1h.9v.9h-.9zM83.2 374.3h.9v.9h-.9zM93.0 374.2h.9v.9h-.9zM91.6 373.7h.9v.9h-.9zM89.7 371.7h.9v.9h-.9zM93.6 376.5h.9v.9h-.9zM99.4 373.9h.9v.9h-.9zM92.5 375.1h.9v.9h-.9zM83.4 376.2h.9v.9h-.9zM90.3 375.9h.9v.9h-.9zM85.5 374.7h.9v.9h-.9zM87.6 374.5h.9v.9h-.9zM92.4 374.9h.9v.9h-.9zM90.3 375.6h.9v.9h-.9zM86.5 375.2h.9v.9h-.9zM90.9 373.9h.9v.9h-.9zM87.6 375.1h.9v.9h-.9zM93.2 375.0h.9v.9h-.9zM90.0 375.4h.9v.9h-.9zM92.6 374.8h.9v.9h-.9zM89.9 376.2h.9v.9h-.9zM94.1 374.7h.9v.9h-.9zM90.4 375.6h.9v.9h-.9zM90.9 374.6h.9v.9h-.9zM88.6 373.8h.9v.9h-.9zM91.6 373.3h.9v.9h-.9zM83.5 374.3h.9v.9h-.9zM102.2 375.2h.9v.9h-.9zM88.1 376.1h.9v.9h-.9zM91.4 374.4h.9v.9h-.9zM89.0 373.9h.9v.9h-.9zM88.9 373.9h.9v.9h-.9zM92.6 376.1h.9v.9h-.9zM88.8 374.6h.9v.9h-.9zM89.2 373.9h.9v.9h-.9zM85.2 375.4h.9v.9h-.9zM87.1 372.9h.9v.9h-.9zM86.0 374.6h.9v.9h-.9zM98.5 374.4h.9v.9h-.9zM85.3 374.3h.9v.9h-.9zM86.4 373.1h.9v.9h-.9zM91.8 375.7h.9v.9h-.9zM96.9 376.6h.9v.9h-.9zM83.8 372.9h.9v.9h-.9zM84.4 374.6h.9v.9h-.9zM91.5 375.3h.9v.9h-.9zM92.4 377.3h.9v.9h-.9zM85.0 374.0h.9v.9h-.9zM83.4 373.3h.9v.9h-.9zM86.9 374.5h.9v.9h-.9zM94.1 377.0h.9v.9h-.9zM90.8 374.6h.9v.9h-.9zM94.1 374.8h.9v.9h-.9zM90.5 376.7h.9v.9h-.9zM90.8 371.9h.9v.9h-.9zM93.5 371.8h.9v.9h-.9zM90.4 375.6h.9v.9h-.9zM91.9 375.5h.9v.9h-.9zM87.1 372.8h.9v.9h-.9zM88.4 375.1h.9v.9h-.9zM92.9 374.6h.9v.9h-.9zM89.9 374.8h.9v.9h-.9zM87.8 373.5h.9v.9h-.9zM93.7 373.9h.9v.9h-.9zM93.2 373.4h.9v.9h-.9zM90.9 374.6h.9v.9h-.9zM87.7 374.2h.9v.9h-.9zM94.7 376.6h.9v.9h-.9zM101.4 375.3h.9v.9h-.9zM87.5 372.6h.9v.9h-.9zM84.4 375.0h.9v.9h-.9zM87.6 376.3h.9v.9h-.9zM87.0 374.8h.9v.9h-.9zM85.6 375.8h.9v.9h-.9zM85.9 374.5h.9v.9h-.9zM94.5 375.4h.9v.9h-.9zM94.5 373.3h.9v.9h-.9zM97.1 375.5h.9v.9h-.9zM94.0 372.8h.9v.9h-.9zM88.9 376.1h.9v.9h-.9zM95.5 372.6h.9v.9h-.9zM88.3 371.9h.9v.9h-.9zM89.4 375.2h.9v.9h-.9zM86.0 374.3h.9v.9h-.9zM96.1 374.6h.9v.9h-.9zM95.1 375.0h.9v.9h-.9zM89.0 374.5h.9v.9h-.9zM89.6 373.4h.9v.9h-.9zM91.0 374.8h.9v.9h-.9zM91.7 374.9h.9v.9h-.9zM94.4 375.1h.9v.9h-.9zM91.2 376.9h.9v.9h-.9zM92.6 373.6h.9v.9h-.9zM84.6 374.6h.9v.9h-.9zM89.6 375.2h.9v.9h-.9zM83.4 373.9h.9v.9h-.9zM98.4 373.0h.9v.9h-.9zM96.7 373.8h.9v.9h-.9zM93.9 375.8h.9v.9h-.9zM95.5 374.2h.9v.9h-.9zM99.3 375.3h.9v.9h-.9zM94.8 373.6h.9v.9h-.9zM84.2 375.0h.9v.9h-.9zM90.0 373.7h.9v.9h-.9zM81.0 373.5h.9v.9h-.9zM87.5 374.6h.9v.9h-.9zM85.7 374.6h.9v.9h-.9zM90.8 376.3h.9v.9h-.9zM92.5 372.5h.9v.9h-.9zM87.0 375.1h.9v.9h-.9zM89.7 376.5h.9v.9h-.9zM92.0 376.2h.9v.9h-.9zM90.2 374.0h.9v.9h-.9zM90.1 373.7h.9v.9h-.9zM80.8 373.9h.9v.9h-.9zM89.0 374.9h.9v.9h-.9zM94.2 374.7h.9v.9h-.9zM91.9 374.9h.9v.9h-.9zM84.6 375.2h.9v.9h-.9zM89.7 373.2h.9v.9h-.9zM92.0 373.1h.9v.9h-.9zM86.8 373.0h.9v.9h-.9zM93.7 372.8h.9v.9h-.9zM87.5 374.4h.9v.9h-.9zM89.5 374.9h.9v.9h-.9zM90.4 377.6h.9v.9h-.9zM100.2 375.2h.9v.9h-.9zM89.5 374.5h.9v.9h-.9zM88.5 376.2h.9v.9h-.9zM93.9 373.6h.9v.9h-.9zM88.9 374.9h.9v.9h-.9zM91.7 375.7h.9v.9h-.9zM81.4 375.5h.9v.9h-.9zM92.1 375.0h.9v.9h-.9zM90.8 374.1h.9v.9h-.9zM85.4 373.0h.9v.9h-.9zM96.5 374.3h.9v.9h-.9zM89.8 373.8h.9v.9h-.9zM90.0 375.3h.9v.9h-.9zM85.3 374.3h.9v.9h-.9zM84.0 375.2h.9v.9h-.9zM88.5 372.5h.9v.9h-.9zM84.4 375.7h.9v.9h-.9zM92.9 373.5h.9v.9h-.9zM94.5 372.6h.9v.9h-.9zM88.2 372.8h.9v.9h-.9zM84.1 373.7h.9v.9h-.9zM89.2 375.9h.9v.9h-.9zM86.4 375.4h.9v.9h-.9zM91.5 373.1h.9v.9h-.9zM91.6 374.6h.9v.9h-.9zM89.0 374.4h.9v.9h-.9zM91.1 372.6h.9v.9h-.9zM95.2 373.3h.9v.9h-.9zM98.0 372.0h.9v.9h-.9zM88.6 373.4h.9v.9h-.9zM93.9 371.2h.9v.9h-.9zM89.8 373.5h.9v.9h-.9zM86.4 373.3h.9v.9h-.9zM96.2 373.5h.9v.9h-.9zM92.5 373.5h.9v.9h-.9zM91.4 375.9h.9v.9h-.9zM92.3 374.1h.9v.9h-.9zM90.1 374.8h.9v.9h-.9zM86.4 375.4h.9v.9h-.9zM98.3 375.6h.9v.9h-.9zM94.6 375.3h.9v.9h-.9zM91.9 373.8h.9v.9h-.9zM94.9 373.2h.9v.9h-.9zM96.2 373.5h.9v.9h-.9zM90.0 373.9h.9v.9h-.9zM93.3 374.5h.9v.9h-.9zM89.5 374.4h.9v.9h-.9zM93.5 375.8h.9v.9h-.9zM89.8 374.4h.9v.9h-.9zM101.0 376.7h.9v.9h-.9zM89.3 375.8h.9v.9h-.9zM93.0 373.9h.9v.9h-.9zM92.8 375.6h.9v.9h-.9zM89.4 371.0h.9v.9h-.9zM94.8 376.2h.9v.9h-.9zM90.5 375.0h.9v.9h-.9zM89.1 375.0h.9v.9h-.9zM90.8 372.4h.9v.9h-.9zM87.7 377.6h.9v.9h-.9zM95.9 374.2h.9v.9h-.9zM93.5 374.3h.9v.9h-.9zM94.9 375.9h.9v.9h-.9zM85.2 374.3h.9v.9h-.9zM92.0 373.5h.9v.9h-.9zM87.6 375.3h.9v.9h-.9zM91.2 373.3h.9v.9h-.9zM96.2 375.4h.9v.9h-.9zM91.9 374.7h.9v.9h-.9zM90.1 375.9h.9v.9h-.9zM95.5 373.0h.9v.9h-.9zM95.1 376.0h.9v.9h-.9zM98.6 374.9h.9v.9h-.9zM83.0 376.9h.9v.9h-.9zM92.2 373.7h.9v.9h-.9zM89.1 376.8h.9v.9h-.9zM87.2 375.4h.9v.9h-.9zM91.3 375.5h.9v.9h-.9zM85.9 373.6h.9v.9h-.9zM81.4 375.2h.9v.9h-.9zM87.0 375.3h.9v.9h-.9zM89.7 373.5h.9v.9h-.9zM98.7 373.1h.9v.9h-.9zM87.8 373.6h.9v.9h-.9zM85.9 376.3h.9v.9h-.9zM82.5 374.7h.9v.9h-.9zM89.3 375.6h.9v.9h-.9zM89.8 374.9h.9v.9h-.9zM91.4 374.6h.9v.9h-.9zM84.8 374.8h.9v.9h-.9zM87.6 374.0h.9v.9h-.9zM81.3 376.0h.9v.9h-.9zM91.5 374.7h.9v.9h-.9zM84.2 374.8h.9v.9h-.9zM79.3 372.8h.9v.9h-.9zM95.7 374.9h.9v.9h-.9zM92.9 373.7h.9v.9h-.9zM92.3 373.9h.9v.9h-.9zM92.3 375.8h.9v.9h-.9zM86.5 373.2h.9v.9h-.9zM95.3 374.3h.9v.9h-.9zM86.4 375.3h.9v.9h-.9zM98.9 375.9h.9v.9h-.9zM91.8 373.9h.9v.9h-.9zM83.1 374.9h.9v.9h-.9zM94.5 374.9h.9v.9h-.9zM99.1 373.1h.9v.9h-.9zM89.8 371.9h.9v.9h-.9zM95.3 372.1h.9v.9h-.9zM89.9 375.2h.9v.9h-.9zM88.2 374.6h.9v.9h-.9zM80.0 372.9h.9v.9h-.9zM96.0 373.7h.9v.9h-.9zM89.0 374.0h.9v.9h-.9zM92.4 374.1h.9v.9h-.9zM86.1 374.5h.9v.9h-.9zM87.0 377.2h.9v.9h-.9zM95.5 373.5h.9v.9h-.9zM89.2 374.7h.9v.9h-.9zM89.1 373.6h.9v.9h-.9zM85.5 373.7h.9v.9h-.9zM91.7 373.4h.9v.9h-.9zM94.1 374.2h.9v.9h-.9zM88.9 373.8h.9v.9h-.9zM90.0 374.9h.9v.9h-.9zM85.7 374.8h.9v.9h-.9zM96.7 373.4h.9v.9h-.9zM88.2 376.9h.9v.9h-.9zM90.2 373.1h.9v.9h-.9zM97.9 374.9h.9v.9h-.9zM89.9 377.2h.9v.9h-.9zM84.3 373.6h.9v.9h-.9zM86.9 376.1h.9v.9h-.9zM89.3 376.2h.9v.9h-.9zM98.3 374.9h.9v.9h-.9zM91.8 372.2h.9v.9h-.9zM89.9 376.2h.9v.9h-.9zM94.3 374.6h.9v.9h-.9zM96.3 373.8h.9v.9h-.9zM87.7 376.1h.9v.9h-.9zM96.9 373.6h.9v.9h-.9zM94.5 375.8h.9v.9h-.9zM92.8 373.8h.9v.9h-.9zM80.9 375.2h.9v.9h-.9zM91.7 373.2h.9v.9h-.9zM96.7 374.0h.9v.9h-.9zM89.7 373.4h.9v.9h-.9zM100.6 373.6h.9v.9h-.9zM91.2 374.7h.9v.9h-.9zM86.6 374.3h.9v.9h-.9zM93.4 374.7h.9v.9h-.9zM92.1 376.1h.9v.9h-.9zM94.4 374.4h.9v.9h-.9zM89.9 372.2h.9v.9h-.9zM96.4 374.1h.9v.9h-.9zM88.5 374.6h.9v.9h-.9zM91.4 375.7h.9v.9h-.9zM85.6 375.8h.9v.9h-.9zM87.5 375.7h.9v.9h-.9zM91.7 374.2h.9v.9h-.9zM88.1 375.3h.9v.9h-.9zM89.0 372.7h.9v.9h-.9zM90.0 376.1h.9v.9h-.9zM92.0 375.0h.9v.9h-.9zM94.1 375.1h.9v.9h-.9zM94.1 374.0h.9v.9h-.9zM95.2 374.6h.9v.9h-.9zM91.8 373.7h.9v.9h-.9zM88.6 375.2h.9v.9h-.9zM84.2 372.9h.9v.9h-.9zM89.4 375.7h.9v.9h-.9zM87.5 375.2h.9v.9h-.9zM83.2 377.0h.9v.9h-.9zM97.9 374.5h.9v.9h-.9zM83.1 374.4h.9v.9h-.9zM92.4 374.7h.9v.9h-.9zM93.3 374.5h.9v.9h-.9zM89.9 374.4h.9v.9h-.9zM101.9 373.1h.9v.9h-.9zM91.0 373.1h.9v.9h-.9zM87.7 373.8h.9v.9h-.9zM98.4 374.1h.9v.9h-.9zM87.5 373.0h.9v.9h-.9zM84.8 373.1h.9v.9h-.9zM86.6 374.2h.9v.9h-.9zM88.2 375.4h.9v.9h-.9zM91.1 374.3h.9v.9h-.9zM92.3 375.3h.9v.9h-.9zM84.4 375.7h.9v.9h-.9zM92.4 375.4h.9v.9h-.9zM100.4 374.0h.9v.9h-.9zM87.9 374.0h.9v.9h-.9zM90.3 372.2h.9v.9h-.9zM93.9 373.7h.9v.9h-.9zM96.0 375.1h.9v.9h-.9zM88.1 373.2h.9v.9h-.9zM86.8 376.2h.9v.9h-.9zM86.6 376.3h.9v.9h-.9zM95.6 374.0h.9v.9h-.9zM94.7 375.6h.9v.9h-.9zM81.7 372.8h.9v.9h-.9zM81.8 373.2h.9v.9h-.9zM85.6 374.0h.9v.9h-.9zM84.5 374.5h.9v.9h-.9zM92.6 374.3h.9v.9h-.9zM91.8 373.4h.9v.9h-.9zM99.3 376.9h.9v.9h-.9zM94.3 374.9h.9v.9h-.9zM91.4 374.9h.9v.9h-.9zM95.9 375.3h.9v.9h-.9zM87.1 374.7h.9v.9h-.9zM85.0 374.2h.9v.9h-.9zM91.0 373.8h.9v.9h-.9zM94.9 372.5h.9v.9h-.9zM84.0 376.3h.9v.9h-.9zM94.7 373.4h.9v.9h-.9zM94.6 372.5h.9v.9h-.9zM88.8 373.5h.9v.9h-.9zM91.6 372.5h.9v.9h-.9zM89.7 376.9h.9v.9h-.9zM91.3 374.9h.9v.9h-.9zM94.4 376.2h.9v.9h-.9zM87.5 376.3h.9v.9h-.9zM95.3 375.2h.9v.9h-.9zM94.6 375.2h.9v.9h-.9zM94.8 373.6h.9v.9h-.9zM82.5 374.4h.9v.9h-.9zM83.0 373.8h.9v.9h-.9zM93.9 374.6h.9v.9h-.9zM88.4 373.6h.9v.9h-.9zM88.0 376.1h.9v.9h-.9zM87.6 375.4h.9v.9h-.9zM85.2 374.4h.9v.9h-.9zM89.7 372.5h.9v.9h-.9zM87.8 375.3h.9v.9h-.9zM88.1 375.6h.9v.9h-.9zM92.9 374.4h.9v.9h-.9zM85.9 373.0h.9v.9h-.9zM95.7 375.0h.9v.9h-.9zM81.4 375.8h.9v.9h-.9zM101.6 372.2h.9v.9h-.9zM85.1 375.2h.9v.9h-.9zM93.4 372.3h.9v.9h-.9zM94.8 374.6h.9v.9h-.9zM90.9 376.6h.9v.9h-.9zM94.1 374.6h.9v.9h-.9zM90.4 375.1h.9v.9h-.9zM83.4 374.1h.9v.9h-.9zM92.4 374.5h.9v.9h-.9zM95.8 377.4h.9v.9h-.9zM88.5 376.1h.9v.9h-.9zM83.7 374.1h.9v.9h-.9zM88.3 374.0h.9v.9h-.9zM92.3 374.5h.9v.9h-.9zM92.2 377.2h.9v.9h-.9zM95.6 374.8h.9v.9h-.9zM93.3 375.9h.9v.9h-.9zM93.1 374.1h.9v.9h-.9zM82.3 372.9h.9v.9h-.9zM100.4 376.1h.9v.9h-.9zM91.1 374.4h.9v.9h-.9zM94.6 373.5h.9v.9h-.9zM89.4 373.7h.9v.9h-.9zM90.3 373.7h.9v.9h-.9zM91.2 373.8h.9v.9h-.9zM97.6 372.6h.9v.9h-.9zM97.4 376.0h.9v.9h-.9zM93.6 375.0h.9v.9h-.9zM99.4 375.7h.9v.9h-.9zM89.2 374.1h.9v.9h-.9zM93.1 374.9h.9v.9h-.9zM89.0 374.7h.9v.9h-.9zM96.5 375.9h.9v.9h-.9zM91.1 375.5h.9v.9h-.9zM95.1 374.9h.9v.9h-.9zM98.3 373.7h.9v.9h-.9zM82.0 373.0h.9v.9h-.9zM100.2 373.5h.9v.9h-.9zM92.3 373.7h.9v.9h-.9zM89.6 373.8h.9v.9h-.9zM82.7 373.0h.9v.9h-.9zM89.6 376.5h.9v.9h-.9zM81.1 374.8h.9v.9h-.9zM91.3 372.0h.9v.9h-.9zM90.2 373.2h.9v.9h-.9zM98.8 372.9h.9v.9h-.9zM89.5 374.8h.9v.9h-.9zM95.5 375.8h.9v.9h-.9zM95.9 373.3h.9v.9h-.9zM99.8 375.3h.9v.9h-.9zM89.9 374.2h.9v.9h-.9zM94.2 375.9h.9v.9h-.9zM84.4 376.2h.9v.9h-.9zM86.2 374.9h.9v.9h-.9zM89.8 375.4h.9v.9h-.9zM90.9 374.5h.9v.9h-.9zM85.7 374.0h.9v.9h-.9zM89.2 373.1h.9v.9h-.9zM94.0 374.9h.9v.9h-.9zM89.0 374.4h.9v.9h-.9zM90.3 374.0h.9v.9h-.9zM87.1 374.4h.9v.9h-.9zM96.9 374.3h.9v.9h-.9zM98.6 373.2h.9v.9h-.9zM91.8 373.9h.9v.9h-.9zM90.5 375.9h.9v.9h-.9zM98.1 374.2h.9v.9h-.9zM93.0 376.2h.9v.9h-.9zM88.1 373.1h.9v.9h-.9z" fill="rgba(15,15,15,0.8)"/>
<path d="M78.6 374.9h.9v.9h-.9zM82.3 374.1h.9v.9h-.9zM84.0 374.5h.9v.9h-.9zM80.3 373.9h.9v.9h-.9zM83.6 375.9h.9v.9h-.9zM84.4 375.1h.9v.9h-.9zM84.7 376.9h.9v.9h-.9zM81.7 374.1h.9v.9h-.9zM81.9 376.3h.9v.9h-.9zM77.8 373.8h.9v.9h-.9zM82.1 374.3h.9v.9h-.9zM82.7 373.2h.9v.9h-.9zM85.6 375.1h.9v.9h-.9zM78.8 374.4h.9v.9h-.9zM79.9 375.3h.9v.9h-.9zM79.5 376.3h.9v.9h-.9zM84.3 374.4h.9v.9h-.9zM75.6 375.0h.9v.9h-.9zM79.3 375.6h.9v.9h-.9zM87.2 374.4h.9v.9h-.9zM83.7 373.8h.9v.9h-.9zM78.6 374.9h.9v.9h-.9zM81.8 375.1h.9v.9h-.9zM84.1 375.4h.9v.9h-.9zM83.4 375.5h.9v.9h-.9zM81.4 373.7h.9v.9h-.9zM80.0 375.0h.9v.9h-.9zM84.1 376.0h.9v.9h-.9zM82.0 373.9h.9v.9h-.9zM84.0 374.9h.9v.9h-.9zM83.0 373.8h.9v.9h-.9zM80.8 374.7h.9v.9h-.9zM85.6 376.6h.9v.9h-.9zM80.7 374.7h.9v.9h-.9zM83.1 373.3h.9v.9h-.9zM80.4 374.9h.9v.9h-.9zM81.4 374.8h.9v.9h-.9zM81.4 375.9h.9v.9h-.9zM80.3 372.9h.9v.9h-.9zM82.6 373.4h.9v.9h-.9zM85.3 374.4h.9v.9h-.9zM86.7 372.6h.9v.9h-.9zM85.6 375.9h.9v.9h-.9zM81.6 372.1h.9v.9h-.9zM85.7 373.5h.9v.9h-.9zM83.1 372.7h.9v.9h-.9zM86.5 373.7h.9v.9h-.9zM78.8 375.5h.9v.9h-.9zM85.7 375.2h.9v.9h-.9zM80.5 375.6h.9v.9h-.9zM84.9 375.2h.9v.9h-.9zM80.8 372.1h.9v.9h-.9zM84.3 374.9h.9v.9h-.9zM81.3 372.3h.9v.9h-.9zM77.3 373.9h.9v.9h-.9zM79.6 374.0h.9v.9h-.9zM81.4 373.9h.9v.9h-.9zM82.1 375.1h.9v.9h-.9zM76.4 373.5h.9v.9h-.9zM79.0 376.6h.9v.9h-.9zM80.2 375.2h.9v.9h-.9zM81.5 375.9h.9v.9h-.9zM82.6 375.4h.9v.9h-.9zM79.9 375.6h.9v.9h-.9zM78.2 374.5h.9v.9h-.9zM82.8 376.9h.9v.9h-.9zM81.2 373.2h.9v.9h-.9zM84.2 375.1h.9v.9h-.9zM80.7 374.5h.9v.9h-.9zM83.6 374.2h.9v.9h-.9zM79.8 374.9h.9v.9h-.9zM82.7 373.6h.9v.9h-.9zM82.2 375.6h.9v.9h-.9zM83.1 375.5h.9v.9h-.9zM79.6 374.6h.9v.9h-.9zM81.7 375.4h.9v.9h-.9zM79.9 373.3h.9v.9h-.9zM81.6 372.3h.9v.9h-.9zM83.6 373.8h.9v.9h-.9zM89.5 374.2h.9v.9h-.9zM82.1 377.5h.9v.9h-.9zM83.8 374.2h.9v.9h-.9zM82.3 375.8h.9v.9h-.9zM84.9 375.5h.9v.9h-.9zM83.2 377.0h.9v.9h-.9zM84.6 374.7h.9v.9h-.9zM82.9 375.3h.9v.9h-.9zM88.0 374.3h.9v.9h-.9zM85.5 373.5h.9v.9h-.9zM77.7 373.3h.9v.9h-.9zM82.8 373.6h.9v.9h-.9zM82.2 376.2h.9v.9h-.9zM76.5 374.9h.9v.9h-.9zM79.8 374.3h.9v.9h-.9zM80.8 374.5h.9v.9h-.9zM80.2 373.8h.9v.9h-.9zM82.3 374.5h.9v.9h-.9zM77.5 374.5h.9v.9h-.9zM83.9 375.3h.9v.9h-.9zM84.0 375.6h.9v.9h-.9z" fill="rgba(40,40,40,0.55)"/>
<path d="M72.1 336.5h.9v.9h-.9zM92.7 338.5h.9v.9h-.9zM105.3 337.6h.9v.9h-.9zM78.9 339.6h.9v.9h-.9zM87.3 336.1h.9v.9h-.9zM92.0 336.0h.9v.9h-.9zM102.2 337.9h.9v.9h-.9zM96.7 335.4h.9v.9h-.9zM87.7 335.4h.9v.9h-.9zM95.6 336.4h.9v.9h-.9zM101.5 336.6h.9v.9h-.9zM94.4 334.1h.9v.9h-.9zM110.6 336.5h.9v.9h-.9zM94.8 335.7h.9v.9h-.9zM78.5 336.1h.9v.9h-.9zM81.5 336.4h.9v.9h-.9zM88.6 335.8h.9v.9h-.9zM87.8 337.6h.9v.9h-.9zM97.0 336.8h.9v.9h-.9zM94.0 335.9h.9v.9h-.9zM109.0 336.2h.9v.9h-.9zM99.1 337.6h.9v.9h-.9zM106.5 337.2h.9v.9h-.9zM81.7 337.9h.9v.9h-.9zM85.4 335.9h.9v.9h-.9zM97.7 336.3h.9v.9h-.9zM91.1 338.9h.9v.9h-.9zM97.0 336.1h.9v.9h-.9zM92.9 338.5h.9v.9h-.9zM83.3 337.3h.9v.9h-.9zM108.9 335.5h.9v.9h-.9zM102.7 334.2h.9v.9h-.9zM73.0 337.0h.9v.9h-.9zM83.4 335.2h.9v.9h-.9zM90.4 335.2h.9v.9h-.9zM97.6 333.7h.9v.9h-.9zM89.4 337.8h.9v.9h-.9zM75.2 336.3h.9v.9h-.9zM99.3 336.2h.9v.9h-.9zM87.9 336.7h.9v.9h-.9zM103.4 336.5h.9v.9h-.9zM93.5 336.3h.9v.9h-.9zM101.2 336.9h.9v.9h-.9zM99.4 335.8h.9v.9h-.9zM99.9 332.6h.9v.9h-.9zM84.6 337.2h.9v.9h-.9zM101.5 336.7h.9v.9h-.9zM92.4 336.2h.9v.9h-.9zM76.5 338.4h.9v.9h-.9zM85.9 334.2h.9v.9h-.9zM86.5 332.1h.9v.9h-.9zM95.4 338.2h.9v.9h-.9zM97.7 336.7h.9v.9h-.9zM78.0 333.9h.9v.9h-.9zM98.2 335.6h.9v.9h-.9zM89.5 337.0h.9v.9h-.9zM78.6 334.5h.9v.9h-.9zM99.4 336.9h.9v.9h-.9zM81.9 339.1h.9v.9h-.9zM77.1 338.1h.9v.9h-.9zM98.6 336.1h.9v.9h-.9zM100.1 336.6h.9v.9h-.9zM83.0 334.8h.9v.9h-.9zM101.9 336.3h.9v.9h-.9zM101.3 335.7h.9v.9h-.9zM84.6 334.8h.9v.9h-.9zM112.2 334.3h.9v.9h-.9zM89.6 338.8h.9v.9h-.9zM92.7 336.3h.9v.9h-.9zM64.1 334.7h.9v.9h-.9zM97.3 335.6h.9v.9h-.9zM83.5 338.2h.9v.9h-.9zM95.1 338.4h.9v.9h-.9zM71.5 335.3h.9v.9h-.9zM103.0 336.4h.9v.9h-.9zM106.3 337.4h.9v.9h-.9zM111.0 335.7h.9v.9h-.9zM57.9 334.5h.9v.9h-.9zM96.8 334.8h.9v.9h-.9zM94.1 336.2h.9v.9h-.9zM57.1 335.1h.9v.9h-.9zM82.3 334.3h.9v.9h-.9zM89.4 335.8h.9v.9h-.9zM106.0 337.4h.9v.9h-.9zM81.2 337.1h.9v.9h-.9zM92.6 335.8h.9v.9h-.9zM89.7 338.8h.9v.9h-.9zM94.4 335.1h.9v.9h-.9zM86.0 336.0h.9v.9h-.9zM100.2 334.2h.9v.9h-.9zM101.1 337.2h.9v.9h-.9zM75.4 336.0h.9v.9h-.9zM102.7 333.8h.9v.9h-.9zM82.2 335.0h.9v.9h-.9zM87.4 338.6h.9v.9h-.9zM102.8 337.1h.9v.9h-.9zM91.5 336.3h.9v.9h-.9zM96.7 337.3h.9v.9h-.9zM99.1 333.9h.9v.9h-.9zM97.0 335.0h.9v.9h-.9zM84.5 334.3h.9v.9h-.9zM80.0 335.0h.9v.9h-.9zM98.0 335.6h.9v.9h-.9zM98.8 336.9h.9v.9h-.9zM94.4 337.5h.9v.9h-.9zM88.4 337.5h.9v.9h-.9zM99.9 339.9h.9v.9h-.9zM90.2 335.5h.9v.9h-.9zM75.5 336.1h.9v.9h-.9zM93.6 336.8h.9v.9h-.9zM96.1 335.0h.9v.9h-.9zM99.0 335.7h.9v.9h-.9zM80.7 336.7h.9v.9h-.9zM82.3 334.9h.9v.9h-.9zM94.2 336.8h.9v.9h-.9zM85.7 337.8h.9v.9h-.9zM89.8 334.6h.9v.9h-.9zM100.9 333.0h.9v.9h-.9zM94.9 336.2h.9v.9h-.9zM110.6 334.7h.9v.9h-.9zM94.8 355.4h.9v.9h-.9zM83.6 361.1h.9v.9h-.9zM97.1 348.7h.9v.9h-.9zM111.9 370.5h.9v.9h-.9zM106.2 329.6h.9v.9h-.9zM85.2 358.5h.9v.9h-.9zM70.7 362.1h.9v.9h-.9zM77.3 367.7h.9v.9h-.9zM93.3 350.7h.9v.9h-.9zM79.4 328.4h.9v.9h-.9zM80.8 336.3h.9v.9h-.9zM62.8 369.1h.9v.9h-.9zM61.9 342.8h.9v.9h-.9zM60.5 373.3h.9v.9h-.9zM102.3 374.1h.9v.9h-.9zM55.8 352.2h.9v.9h-.9zM103.2 362.6h.9v.9h-.9zM74.9 343.5h.9v.9h-.9zM100.6 349.4h.9v.9h-.9zM95.2 345.3h.9v.9h-.9zM104.4 363.2h.9v.9h-.9zM112.1 337.1h.9v.9h-.9zM76.8 353.2h.9v.9h-.9zM73.3 355.7h.9v.9h-.9zM82.8 362.2h.9v.9h-.9zM76.8 325.4h.9v.9h-.9zM102.3 330.1h.9v.9h-.9zM88.4 342.7h.9v.9h-.9z" fill="rgba(130,130,130,0.35)"/>
<line x1="85.0" y1="312.4" x2="85.0" y2="383.59999999999997" stroke="#96204a" stroke-width="1.3"/>
<line x1="54.2" y1="346.8" x2="125.5" y2="346.8" stroke="#96204a" stroke-width="1.3"/>
<rect x="54.2" y="312.4" width="71.3" height="71.2" fill="none" stroke="#333" stroke-width="1.15"/>
<text x="122.3" y="325.59999999999997" font-size="10" text-anchor="end" fill="#8a2d4e" stroke="#8a2d4e" stroke-width="0.12">8.4</text>
<text x="56.2" y="381.59999999999997" font-size="10" text-anchor="start" fill="#8a2d4e" stroke="#8a2d4e" stroke-width="0.12">32.4</text>
<text x="122.1" y="381.59999999999997" font-size="10" text-anchor="end" fill="#8a2d4e" stroke="#8a2d4e" stroke-width="0.12">56.0</text>
<path d="M164.1 374.5h.9v.9h-.9zM165.5 373.0h.9v.9h-.9zM165.7 374.0h.9v.9h-.9zM172.6 375.4h.9v.9h-.9zM167.4 376.0h.9v.9h-.9zM167.2 372.6h.9v.9h-.9zM163.1 373.9h.9v.9h-.9zM167.9 374.6h.9v.9h-.9zM167.6 374.9h.9v.9h-.9zM167.5 374.5h.9v.9h-.9zM164.5 375.3h.9v.9h-.9zM167.3 372.7h.9v.9h-.9zM170.7 376.4h.9v.9h-.9zM161.9 373.0h.9v.9h-.9zM156.8 374.5h.9v.9h-.9zM168.1 375.1h.9v.9h-.9zM167.7 375.9h.9v.9h-.9zM164.1 375.6h.9v.9h-.9zM163.3 375.5h.9v.9h-.9zM175.4 376.0h.9v.9h-.9zM163.2 374.3h.9v.9h-.9zM160.3 375.4h.9v.9h-.9zM163.1 376.4h.9v.9h-.9zM166.8 373.5h.9v.9h-.9zM162.6 372.7h.9v.9h-.9zM163.5 373.2h.9v.9h-.9zM166.1 376.2h.9v.9h-.9zM163.3 376.0h.9v.9h-.9zM165.4 374.0h.9v.9h-.9zM164.8 374.8h.9v.9h-.9zM160.9 375.1h.9v.9h-.9zM165.2 375.8h.9v.9h-.9zM160.6 372.1h.9v.9h-.9zM168.5 373.8h.9v.9h-.9zM161.4 374.1h.9v.9h-.9zM164.0 374.9h.9v.9h-.9zM158.1 374.6h.9v.9h-.9zM163.2 374.1h.9v.9h-.9zM160.2 374.8h.9v.9h-.9zM170.6 371.3h.9v.9h-.9zM164.5 378.3h.9v.9h-.9zM166.9 375.5h.9v.9h-.9zM158.3 375.6h.9v.9h-.9zM160.3 373.7h.9v.9h-.9zM164.3 375.0h.9v.9h-.9zM159.8 377.0h.9v.9h-.9zM169.2 376.7h.9v.9h-.9zM163.4 374.6h.9v.9h-.9zM165.5 372.9h.9v.9h-.9zM166.1 374.7h.9v.9h-.9zM164.4 374.1h.9v.9h-.9zM167.8 375.5h.9v.9h-.9zM162.4 372.9h.9v.9h-.9zM166.3 374.2h.9v.9h-.9zM169.4 374.8h.9v.9h-.9zM165.7 373.9h.9v.9h-.9zM165.4 375.8h.9v.9h-.9zM163.7 373.1h.9v.9h-.9zM165.1 372.9h.9v.9h-.9zM167.4 374.0h.9v.9h-.9zM164.0 375.5h.9v.9h-.9zM158.6 374.1h.9v.9h-.9zM165.5 373.7h.9v.9h-.9zM164.3 375.5h.9v.9h-.9zM166.7 374.8h.9v.9h-.9zM165.1 373.8h.9v.9h-.9zM170.8 374.6h.9v.9h-.9zM160.4 374.2h.9v.9h-.9zM161.3 375.2h.9v.9h-.9zM167.4 374.7h.9v.9h-.9zM161.0 373.5h.9v.9h-.9zM166.1 373.9h.9v.9h-.9zM164.8 374.0h.9v.9h-.9zM157.5 374.9h.9v.9h-.9zM167.4 374.9h.9v.9h-.9zM170.0 373.4h.9v.9h-.9zM165.7 374.2h.9v.9h-.9zM159.7 374.9h.9v.9h-.9zM167.8 375.8h.9v.9h-.9zM161.0 374.8h.9v.9h-.9zM164.4 376.9h.9v.9h-.9zM166.4 374.5h.9v.9h-.9zM162.0 375.4h.9v.9h-.9zM158.6 374.1h.9v.9h-.9zM164.4 373.2h.9v.9h-.9zM164.7 374.6h.9v.9h-.9zM161.7 375.1h.9v.9h-.9zM162.0 374.9h.9v.9h-.9zM167.7 374.7h.9v.9h-.9zM164.5 374.1h.9v.9h-.9zM163.1 373.5h.9v.9h-.9zM162.7 374.1h.9v.9h-.9zM165.5 375.1h.9v.9h-.9zM165.2 375.7h.9v.9h-.9zM164.2 370.4h.9v.9h-.9zM159.7 375.2h.9v.9h-.9zM163.5 375.8h.9v.9h-.9zM162.5 376.0h.9v.9h-.9zM165.1 375.0h.9v.9h-.9zM169.2 375.3h.9v.9h-.9zM168.4 373.9h.9v.9h-.9zM167.3 374.4h.9v.9h-.9zM165.3 375.1h.9v.9h-.9zM163.7 373.1h.9v.9h-.9zM166.1 373.5h.9v.9h-.9zM163.1 374.7h.9v.9h-.9zM163.6 372.8h.9v.9h-.9zM161.8 374.5h.9v.9h-.9zM164.7 372.6h.9v.9h-.9zM164.6 374.7h.9v.9h-.9zM171.7 374.5h.9v.9h-.9zM166.9 373.8h.9v.9h-.9zM163.5 373.3h.9v.9h-.9zM167.7 373.8h.9v.9h-.9zM163.1 371.7h.9v.9h-.9zM168.6 374.0h.9v.9h-.9zM167.7 374.6h.9v.9h-.9zM175.6 376.0h.9v.9h-.9zM160.9 373.8h.9v.9h-.9zM164.6 374.3h.9v.9h-.9zM164.4 376.2h.9v.9h-.9zM166.0 376.6h.9v.9h-.9zM167.5 373.9h.9v.9h-.9zM161.3 375.8h.9v.9h-.9zM162.2 375.9h.9v.9h-.9zM166.0 375.1h.9v.9h-.9zM168.4 373.2h.9v.9h-.9zM160.7 373.3h.9v.9h-.9zM159.2 375.2h.9v.9h-.9zM169.1 377.4h.9v.9h-.9zM168.0 374.3h.9v.9h-.9zM168.9 376.4h.9v.9h-.9zM161.3 376.8h.9v.9h-.9zM164.1 372.9h.9v.9h-.9zM165.7 373.7h.9v.9h-.9zM166.5 376.4h.9v.9h-.9zM164.4 375.7h.9v.9h-.9zM164.7 375.2h.9v.9h-.9zM168.6 374.5h.9v.9h-.9zM163.3 375.3h.9v.9h-.9zM162.9 373.7h.9v.9h-.9zM163.3 377.6h.9v.9h-.9zM163.0 373.0h.9v.9h-.9zM165.4 372.2h.9v.9h-.9zM164.1 374.7h.9v.9h-.9zM163.3 376.3h.9v.9h-.9zM170.1 373.9h.9v.9h-.9zM166.0 374.4h.9v.9h-.9zM163.6 373.2h.9v.9h-.9zM169.5 374.4h.9v.9h-.9zM162.9 373.2h.9v.9h-.9zM164.9 373.2h.9v.9h-.9zM164.5 372.6h.9v.9h-.9zM162.8 373.8h.9v.9h-.9zM163.5 376.8h.9v.9h-.9zM165.2 374.4h.9v.9h-.9zM159.6 374.7h.9v.9h-.9zM163.4 377.3h.9v.9h-.9zM165.8 373.7h.9v.9h-.9zM165.9 373.2h.9v.9h-.9zM166.0 375.1h.9v.9h-.9zM173.4 372.9h.9v.9h-.9zM167.3 374.9h.9v.9h-.9zM164.3 375.9h.9v.9h-.9zM164.4 373.1h.9v.9h-.9zM164.9 373.8h.9v.9h-.9zM166.5 376.6h.9v.9h-.9zM163.8 373.2h.9v.9h-.9zM170.4 373.6h.9v.9h-.9zM160.9 374.8h.9v.9h-.9zM167.2 374.1h.9v.9h-.9zM166.7 373.4h.9v.9h-.9zM160.7 376.5h.9v.9h-.9zM167.1 373.7h.9v.9h-.9zM166.9 374.9h.9v.9h-.9zM162.5 374.0h.9v.9h-.9zM173.3 374.2h.9v.9h-.9zM167.4 372.8h.9v.9h-.9zM163.7 375.6h.9v.9h-.9zM163.1 373.9h.9v.9h-.9zM162.2 376.1h.9v.9h-.9zM165.8 373.0h.9v.9h-.9zM165.1 373.9h.9v.9h-.9zM159.8 375.1h.9v.9h-.9zM161.1 374.6h.9v.9h-.9zM162.3 373.7h.9v.9h-.9zM163.4 374.3h.9v.9h-.9zM163.6 372.9h.9v.9h-.9zM162.4 374.5h.9v.9h-.9zM167.2 371.2h.9v.9h-.9zM168.3 374.7h.9v.9h-.9zM165.1 376.2h.9v.9h-.9zM156.9 375.6h.9v.9h-.9zM164.3 375.5h.9v.9h-.9zM166.9 373.9h.9v.9h-.9zM164.6 375.1h.9v.9h-.9zM165.8 374.0h.9v.9h-.9zM165.2 374.4h.9v.9h-.9zM159.5 374.3h.9v.9h-.9zM155.7 370.3h.9v.9h-.9zM167.1 375.6h.9v.9h-.9zM163.0 375.0h.9v.9h-.9zM166.4 375.5h.9v.9h-.9zM163.8 373.3h.9v.9h-.9zM164.2 375.3h.9v.9h-.9zM169.8 375.1h.9v.9h-.9zM160.5 371.7h.9v.9h-.9zM164.8 372.3h.9v.9h-.9zM160.9 374.5h.9v.9h-.9zM165.1 373.6h.9v.9h-.9zM166.6 374.5h.9v.9h-.9zM167.2 373.7h.9v.9h-.9zM165.4 376.3h.9v.9h-.9zM159.9 372.1h.9v.9h-.9zM165.7 372.8h.9v.9h-.9zM168.1 373.3h.9v.9h-.9zM168.4 372.8h.9v.9h-.9zM172.6 373.8h.9v.9h-.9zM166.9 374.4h.9v.9h-.9zM161.2 372.8h.9v.9h-.9zM163.0 374.9h.9v.9h-.9zM165.2 376.1h.9v.9h-.9zM168.6 375.8h.9v.9h-.9zM160.7 377.0h.9v.9h-.9zM168.1 375.9h.9v.9h-.9zM167.2 374.4h.9v.9h-.9zM161.7 376.7h.9v.9h-.9zM167.0 375.4h.9v.9h-.9zM162.1 376.8h.9v.9h-.9zM164.8 374.2h.9v.9h-.9zM163.8 371.8h.9v.9h-.9zM165.7 373.0h.9v.9h-.9zM160.6 374.7h.9v.9h-.9zM166.8 375.2h.9v.9h-.9zM157.0 374.2h.9v.9h-.9zM163.4 375.7h.9v.9h-.9zM162.8 373.0h.9v.9h-.9zM170.5 373.6h.9v.9h-.9zM166.8 375.7h.9v.9h-.9zM163.1 374.6h.9v.9h-.9zM161.6 374.6h.9v.9h-.9zM165.0 376.2h.9v.9h-.9zM162.6 375.9h.9v.9h-.9zM172.9 373.5h.9v.9h-.9zM154.8 374.7h.9v.9h-.9zM165.1 372.4h.9v.9h-.9zM156.0 374.5h.9v.9h-.9zM168.6 375.0h.9v.9h-.9zM162.0 372.3h.9v.9h-.9zM170.6 376.4h.9v.9h-.9zM162.9 377.0h.9v.9h-.9zM168.8 375.1h.9v.9h-.9zM165.6 375.7h.9v.9h-.9zM169.1 376.4h.9v.9h-.9zM164.9 374.3h.9v.9h-.9zM154.1 375.8h.9v.9h-.9zM162.2 375.0h.9v.9h-.9zM159.2 372.6h.9v.9h-.9zM168.3 373.4h.9v.9h-.9zM166.8 373.8h.9v.9h-.9zM164.9 375.8h.9v.9h-.9zM166.5 374.6h.9v.9h-.9zM165.6 375.7h.9v.9h-.9zM162.8 373.9h.9v.9h-.9zM171.9 372.9h.9v.9h-.9zM165.7 377.1h.9v.9h-.9zM164.2 377.9h.9v.9h-.9zM159.6 375.0h.9v.9h-.9zM162.6 374.3h.9v.9h-.9zM164.9 376.0h.9v.9h-.9zM164.2 373.1h.9v.9h-.9zM163.1 374.2h.9v.9h-.9zM164.7 372.7h.9v.9h-.9zM160.8 375.1h.9v.9h-.9zM164.9 374.8h.9v.9h-.9zM159.3 374.0h.9v.9h-.9zM161.8 373.7h.9v.9h-.9zM162.2 372.6h.9v.9h-.9zM168.0 373.5h.9v.9h-.9zM166.6 376.0h.9v.9h-.9z" fill="rgba(40,40,40,0.55)"/>
<path d="M155.9 338.1h.9v.9h-.9zM183.9 357.3h.9v.9h-.9zM147.0 326.2h.9v.9h-.9zM160.6 342.7h.9v.9h-.9zM154.1 316.5h.9v.9h-.9zM157.5 352.9h.9v.9h-.9zM175.4 315.2h.9v.9h-.9zM174.9 348.6h.9v.9h-.9zM174.1 340.3h.9v.9h-.9zM162.1 339.1h.9v.9h-.9zM163.4 332.1h.9v.9h-.9zM158.2 338.8h.9v.9h-.9zM174.0 321.6h.9v.9h-.9zM163.0 349.4h.9v.9h-.9zM147.4 355.8h.9v.9h-.9zM164.7 355.2h.9v.9h-.9zM178.6 344.6h.9v.9h-.9zM168.5 361.4h.9v.9h-.9zM162.6 351.2h.9v.9h-.9zM165.6 357.8h.9v.9h-.9zM153.5 350.3h.9v.9h-.9zM154.1 345.5h.9v.9h-.9zM179.1 353.7h.9v.9h-.9zM155.3 343.5h.9v.9h-.9zM146.4 371.6h.9v.9h-.9zM177.6 318.6h.9v.9h-.9zM164.9 356.3h.9v.9h-.9zM164.5 332.4h.9v.9h-.9zM170.2 345.0h.9v.9h-.9zM174.1 333.3h.9v.9h-.9zM161.3 349.7h.9v.9h-.9zM147.7 344.7h.9v.9h-.9zM192.1 356.8h.9v.9h-.9zM163.0 347.0h.9v.9h-.9zM148.7 351.4h.9v.9h-.9zM165.2 362.1h.9v.9h-.9zM182.6 352.0h.9v.9h-.9zM137.6 343.3h.9v.9h-.9zM184.6 361.6h.9v.9h-.9zM159.7 343.6h.9v.9h-.9zM196.5 350.5h.9v.9h-.9zM173.6 340.8h.9v.9h-.9zM160.2 336.2h.9v.9h-.9zM184.0 354.3h.9v.9h-.9zM156.0 329.7h.9v.9h-.9zM166.1 354.9h.9v.9h-.9z" fill="rgba(130,130,130,0.35)"/>
<line x1="160.2" y1="312.4" x2="160.2" y2="383.59999999999997" stroke="#3a4d78" stroke-width="1.3"/>
<line x1="129.0" y1="346.4" x2="200.3" y2="346.4" stroke="#3a4d78" stroke-width="1.3"/>
<rect x="129.0" y="312.4" width="71.3" height="71.2" fill="none" stroke="#333" stroke-width="1.15"/>
<text x="197.10000000000002" y="325.59999999999997" font-size="10" text-anchor="end" fill="#3d4a66" stroke="#3d4a66" stroke-width="0.12">8.8</text>
<text x="131.0" y="381.59999999999997" font-size="10" text-anchor="start" fill="#3d4a66" stroke="#3d4a66" stroke-width="0.12">27.5</text>
<text x="196.9" y="381.59999999999997" font-size="10" text-anchor="end" fill="#3d4a66" stroke="#3d4a66" stroke-width="0.12">61.9</text>
<line x1="254.3" y1="35.3" x2="254.3" y2="107.4" stroke="#0a0a0a" stroke-width="1.6"/>
<line x1="251.3" y1="107.4" x2="254.3" y2="107.4" stroke="#111" stroke-width="1.1"/>
<line x1="254.3" y1="115.5" x2="254.3" y2="138.3" stroke="#0a0a0a" stroke-width="1.6"/>
<line x1="251.3" y1="37.6" x2="254.3" y2="37.6" stroke="#111" stroke-width="1.25"/>
<text x="247.10000000000002" y="40.5" font-size="8.2" text-anchor="end" fill="#111" stroke="#111" stroke-width="0.25">100</text>
<line x1="251.3" y1="53.11" x2="254.3" y2="53.11" stroke="#111" stroke-width="1.25"/>
<text x="247.10000000000002" y="56.01" font-size="8.2" text-anchor="end" fill="#111" stroke="#111" stroke-width="0.25">80</text>
<line x1="251.3" y1="68.62" x2="254.3" y2="68.62" stroke="#111" stroke-width="1.25"/>
<text x="247.10000000000002" y="71.52000000000001" font-size="8.2" text-anchor="end" fill="#111" stroke="#111" stroke-width="0.25">60</text>
<line x1="251.3" y1="84.13" x2="254.3" y2="84.13" stroke="#111" stroke-width="1.25"/>
<text x="247.10000000000002" y="87.03" font-size="8.2" text-anchor="end" fill="#111" stroke="#111" stroke-width="0.25">40</text>
<line x1="251.3" y1="99.64" x2="254.3" y2="99.64" stroke="#111" stroke-width="1.25"/>
<text x="247.10000000000002" y="102.54" font-size="8.2" text-anchor="end" fill="#111" stroke="#111" stroke-width="0.25">20</text>
<line x1="251.3" y1="115.50000000000001" x2="254.3" y2="115.50000000000001" stroke="#111" stroke-width="1.25"/>
<text x="247.10000000000002" y="118.40000000000002" font-size="8.2" text-anchor="end" fill="#111" stroke="#111" stroke-width="0.25">8</text>
<line x1="251.3" y1="126.9" x2="254.3" y2="126.9" stroke="#111" stroke-width="1.25"/>
<text x="247.10000000000002" y="129.8" font-size="8.2" text-anchor="end" fill="#111" stroke="#111" stroke-width="0.25">4</text>
<line x1="251.3" y1="138.3" x2="254.3" y2="138.3" stroke="#111" stroke-width="1.25"/>
<text x="247.10000000000002" y="141.20000000000002" font-size="8.2" text-anchor="end" fill="#111" stroke="#111" stroke-width="0.25">0</text>
<path d="M257.1 107.4 V77.1505 H266.3 V107.4" fill="none" stroke="#9e2c4c" stroke-width="1.1" />
<path d="M257.1 138.3 V115.5 M266.3 138.3 V115.5" fill="none" stroke="#9e2c4c" stroke-width="1.1" />
<path d="M272.3 107.4 V91.88499999999999 H281.5 V107.4" fill="none" stroke="#4b5d80" stroke-width="1.1" />
<path d="M272.3 138.3 V115.5 M281.5 138.3 V115.5" fill="none" stroke="#4b5d80" stroke-width="1.1" />
<path d="M291.9 107.4 V80.2525 H301.9 V107.4" fill="none" stroke="#9e2c4c" stroke-width="1.1" />
<path d="M291.9 138.3 V115.5 M301.9 138.3 V115.5" fill="none" stroke="#9e2c4c" stroke-width="1.1" />
<path d="M306.7 107.4 V67.069 H316.3 V107.4" fill="none" stroke="#4b5d80" stroke-width="1.1" />
<path d="M306.7 138.3 V115.5 M316.3 138.3 V115.5" fill="none" stroke="#4b5d80" stroke-width="1.1" />
<path d="M327.3 138.3 V128.32500000000002 H336.8 V138.3" fill="none" stroke="#9e2c4c" stroke-width="1.1" />
<path d="M342.5 138.3 V124.90500000000002 H351.5 V138.3" fill="none" stroke="#4b5d80" stroke-width="1.1" />
<line x1="251.2" y1="138.3" x2="355.5" y2="138.3" stroke="#0a0a0a" stroke-width="1.6"/>
<line x1="261.8" y1="138.3" x2="261.8" y2="141.3" stroke="#111" stroke-width="1"/>
<line x1="276.6" y1="138.3" x2="276.6" y2="141.3" stroke="#111" stroke-width="1"/>
<line x1="261.3" y1="143.60000000000002" x2="277.1" y2="143.60000000000002" stroke="#4a4a4a" stroke-width="1.6"/>
<line x1="296.8" y1="138.3" x2="296.8" y2="141.3" stroke="#111" stroke-width="1"/>
<line x1="311.6" y1="138.3" x2="311.6" y2="141.3" stroke="#111" stroke-width="1"/>
<line x1="296.3" y1="143.60000000000002" x2="312.1" y2="143.60000000000002" stroke="#4a4a4a" stroke-width="1.6"/>
<line x1="331.9" y1="138.3" x2="331.9" y2="141.3" stroke="#111" stroke-width="1"/>
<line x1="346.9" y1="138.3" x2="346.9" y2="141.3" stroke="#111" stroke-width="1"/>
<line x1="331.4" y1="143.60000000000002" x2="347.4" y2="143.60000000000002" stroke="#4a4a4a" stroke-width="1.6"/>
<line x1="262" y1="70.9465" x2="262" y2="83.3545" stroke="#3a0612" stroke-width="1"/>
<line x1="259.5" y1="70.9465" x2="264.5" y2="70.9465" stroke="#3a0612" stroke-width="1"/>
<line x1="259.5" y1="83.3545" x2="264.5" y2="83.3545" stroke="#3a0612" stroke-width="1"/>
<line x1="277" y1="87.232" x2="277" y2="96.538" stroke="#161c2c" stroke-width="1"/>
<line x1="274.5" y1="87.232" x2="279.5" y2="87.232" stroke="#161c2c" stroke-width="1"/>
<line x1="274.5" y1="96.538" x2="279.5" y2="96.538" stroke="#161c2c" stroke-width="1"/>
<line x1="297" y1="74.824" x2="297" y2="84.13" stroke="#3a0612" stroke-width="1"/>
<line x1="294.5" y1="74.824" x2="299.5" y2="74.824" stroke="#3a0612" stroke-width="1"/>
<line x1="294.5" y1="84.13" x2="299.5" y2="84.13" stroke="#3a0612" stroke-width="1"/>
<line x1="311.5" y1="61.6405" x2="311.5" y2="70.9465" stroke="#161c2c" stroke-width="1"/>
<line x1="309.0" y1="61.6405" x2="314.0" y2="61.6405" stroke="#161c2c" stroke-width="1"/>
<line x1="309.0" y1="70.9465" x2="314.0" y2="70.9465" stroke="#161c2c" stroke-width="1"/>
<circle cx="261.7" cy="65.8" r="2.85" fill="#a3173b" stroke="#3a0612" stroke-width="1.0"/>
<circle cx="257.2" cy="68.5" r="2.85" fill="#a3173b" stroke="#3a0612" stroke-width="1.0"/>
<circle cx="260.4" cy="69.4" r="2.85" fill="#a3173b" stroke="#3a0612" stroke-width="1.0"/>
<circle cx="266.2" cy="69.9" r="2.85" fill="#a3173b" stroke="#3a0612" stroke-width="1.0"/>
<circle cx="263.0" cy="77.0" r="2.85" fill="#a3173b" stroke="#3a0612" stroke-width="1.0"/>
<circle cx="261.3" cy="85.2" r="2.85" fill="#a3173b" stroke="#3a0612" stroke-width="1.0"/>
<circle cx="261.7" cy="88.8" r="2.85" fill="#a3173b" stroke="#3a0612" stroke-width="1.0"/>
<circle cx="262.2" cy="90.6" r="2.85" fill="#a3173b" stroke="#3a0612" stroke-width="1.0"/>
<circle cx="276.6" cy="77.1" r="2.85" fill="#354c76" stroke="#161c2c" stroke-width="1.0"/>
<circle cx="276.6" cy="85.6" r="2.85" fill="#354c76" stroke="#161c2c" stroke-width="1.0"/>
<circle cx="276.3" cy="89.0" r="2.85" fill="#354c76" stroke="#161c2c" stroke-width="1.0"/>
<circle cx="276.1" cy="98.2" r="2.85" fill="#354c76" stroke="#161c2c" stroke-width="1.0"/>
<circle cx="276.5" cy="101.8" r="2.85" fill="#354c76" stroke="#161c2c" stroke-width="1.0"/>
<circle cx="276.5" cy="104.1" r="2.85" fill="#354c76" stroke="#161c2c" stroke-width="1.0"/>
<circle cx="296.2" cy="65.2" r="2.85" fill="#a3173b" stroke="#3a0612" stroke-width="1.0"/>
<circle cx="296.2" cy="69.9" r="2.85" fill="#a3173b" stroke="#3a0612" stroke-width="1.0"/>
<circle cx="296.6" cy="80.0" r="2.85" fill="#a3173b" stroke="#3a0612" stroke-width="1.0"/>
<circle cx="292.0" cy="86.7" r="2.85" fill="#a3173b" stroke="#3a0612" stroke-width="1.0"/>
<circle cx="295.9" cy="84.7" r="2.85" fill="#a3173b" stroke="#3a0612" stroke-width="1.0"/>
<circle cx="299.8" cy="85.5" r="2.85" fill="#a3173b" stroke="#3a0612" stroke-width="1.0"/>
<circle cx="302.4" cy="86.3" r="2.85" fill="#a3173b" stroke="#3a0612" stroke-width="1.0"/>
<circle cx="295.1" cy="89.4" r="2.85" fill="#a3173b" stroke="#3a0612" stroke-width="1.0"/>
<circle cx="298.2" cy="90.1" r="2.85" fill="#a3173b" stroke="#3a0612" stroke-width="1.0"/>
<circle cx="311.2" cy="52.0" r="2.85" fill="#354c76" stroke="#161c2c" stroke-width="1.0"/>
<circle cx="312.2" cy="56.7" r="2.85" fill="#354c76" stroke="#161c2c" stroke-width="1.0"/>
<circle cx="306.8" cy="70.7" r="2.85" fill="#354c76" stroke="#161c2c" stroke-width="1.0"/>
<circle cx="313.0" cy="71.5" r="2.85" fill="#354c76" stroke="#161c2c" stroke-width="1.0"/>
<circle cx="316.9" cy="73.0" r="2.85" fill="#354c76" stroke="#161c2c" stroke-width="1.0"/>
<circle cx="309.1" cy="81.6" r="2.85" fill="#354c76" stroke="#161c2c" stroke-width="1.0"/>
<circle cx="327.0" cy="128.0" r="2.85" fill="#a3173b" stroke="#3a0612" stroke-width="1.0"/>
<circle cx="330.0" cy="126.0" r="2.85" fill="#a3173b" stroke="#3a0612" stroke-width="1.0"/>
<circle cx="334.0" cy="127.0" r="2.85" fill="#a3173b" stroke="#3a0612" stroke-width="1.0"/>
<circle cx="337.0" cy="129.0" r="2.85" fill="#a3173b" stroke="#3a0612" stroke-width="1.0"/>
<circle cx="329.0" cy="131.0" r="2.85" fill="#a3173b" stroke="#3a0612" stroke-width="1.0"/>
<circle cx="333.0" cy="132.0" r="2.85" fill="#a3173b" stroke="#3a0612" stroke-width="1.0"/>
<circle cx="331.0" cy="129.0" r="2.85" fill="#a3173b" stroke="#3a0612" stroke-width="1.0"/>
<circle cx="346.5" cy="119.5" r="2.85" fill="#354c76" stroke="#161c2c" stroke-width="1.0"/>
<circle cx="343.0" cy="124.0" r="2.85" fill="#354c76" stroke="#161c2c" stroke-width="1.0"/>
<circle cx="350.5" cy="123.5" r="2.85" fill="#354c76" stroke="#161c2c" stroke-width="1.0"/>
<circle cx="347.0" cy="127.5" r="2.85" fill="#354c76" stroke="#161c2c" stroke-width="1.0"/>
<circle cx="344.0" cy="129.0" r="2.85" fill="#354c76" stroke="#161c2c" stroke-width="1.0"/>
<circle cx="351.0" cy="128.5" r="2.85" fill="#354c76" stroke="#161c2c" stroke-width="1.0"/>
<circle cx="347.0" cy="123.0" r="2.85" fill="#354c76" stroke="#161c2c" stroke-width="1.0"/>
<path d="M261.8 60.0 V56.4 H276.8 V60.0" fill="none" stroke="#222" stroke-width="1.1" />
<text x="256.8" y="52.7" font-size="8.2" fill="#111" stroke="#111" stroke-width="0.25" textLength="29.5" lengthAdjust="spacingAndGlyphs"><tspan font-style="italic">P</tspan>=0.015</text>
<path d="M331.7 113.0 V109.4 H347.1 V113.0" fill="none" stroke="#222" stroke-width="1.1" />
<text x="322.6" y="105.6" font-size="8.2" fill="#111" stroke="#111" stroke-width="0.25" textLength="34.4" lengthAdjust="spacingAndGlyphs"><tspan font-style="italic">P</tspan>=0.0045</text>
<text x="271.9" y="150.4" font-size="8.8" text-anchor="end" fill="#111" stroke="#111" stroke-width="0.25" transform="rotate(-45 271.9 150.4)">live</text>
<text x="306.4" y="150.4" font-size="8.8" text-anchor="end" fill="#111" stroke="#111" stroke-width="0.25" transform="rotate(-45 306.4 150.4)">apoptotic</text>
<text x="342.2" y="150.4" font-size="8.8" text-anchor="end" fill="#111" stroke="#111" stroke-width="0.25" transform="rotate(-45 342.2 150.4)">dead/necrotic</text>
<line x1="411.2" y1="35.5" x2="411.2" y2="138.4" stroke="#0a0a0a" stroke-width="1.6"/>
<line x1="408.2" y1="38.400000000000006" x2="411.2" y2="38.400000000000006" stroke="#111" stroke-width="1.25"/>
<text x="404.0" y="41.300000000000004" font-size="8.2" text-anchor="end" fill="#111" stroke="#111" stroke-width="0.25">100</text>
<line x1="408.2" y1="58.400000000000006" x2="411.2" y2="58.400000000000006" stroke="#111" stroke-width="1.25"/>
<text x="404.0" y="61.300000000000004" font-size="8.2" text-anchor="end" fill="#111" stroke="#111" stroke-width="0.25">80</text>
<line x1="408.2" y1="78.4" x2="411.2" y2="78.4" stroke="#111" stroke-width="1.25"/>
<text x="404.0" y="81.30000000000001" font-size="8.2" text-anchor="end" fill="#111" stroke="#111" stroke-width="0.25">60</text>
<line x1="408.2" y1="98.4" x2="411.2" y2="98.4" stroke="#111" stroke-width="1.25"/>
<text x="404.0" y="101.30000000000001" font-size="8.2" text-anchor="end" fill="#111" stroke="#111" stroke-width="0.25">40</text>
<line x1="408.2" y1="118.4" x2="411.2" y2="118.4" stroke="#111" stroke-width="1.25"/>
<text x="404.0" y="121.30000000000001" font-size="8.2" text-anchor="end" fill="#111" stroke="#111" stroke-width="0.25">20</text>
<line x1="408.2" y1="138.4" x2="411.2" y2="138.4" stroke="#111" stroke-width="1.25"/>
<text x="404.0" y="141.3" font-size="8.2" text-anchor="end" fill="#111" stroke="#111" stroke-width="0.25">0</text>
<path d="M413.6 138.4 V122.4 H423.4 V138.4" fill="none" stroke="#9e2c4c" stroke-width="1.1" />
<path d="M428.9 138.4 V120.4 H438.5 V138.4" fill="none" stroke="#4b5d80" stroke-width="1.1" />
<path d="M448.9 138.4 V57.400000000000006 H458.4 V138.4" fill="none" stroke="#9e2c4c" stroke-width="1.1" />
<path d="M464.4 138.4 V60.400000000000006 H473.5 V138.4" fill="none" stroke="#4b5d80" stroke-width="1.1" />
<path d="M484.3 138.4 V136.20000000000002 H493.7 V138.4" fill="none" stroke="#9e2c4c" stroke-width="1.1" />
<path d="M499.3 138.4 V135.4 H508.7 V138.4" fill="none" stroke="#4b5d80" stroke-width="1.1" />
<line x1="408" y1="138.4" x2="512" y2="138.4" stroke="#0a0a0a" stroke-width="1.6"/>
<line x1="418.5" y1="138.4" x2="418.5" y2="141.4" stroke="#111" stroke-width="1"/>
<line x1="433.7" y1="138.4" x2="433.7" y2="141.4" stroke="#111" stroke-width="1"/>
<line x1="418.0" y1="143.70000000000002" x2="434.2" y2="143.70000000000002" stroke="#4a4a4a" stroke-width="1.6"/>
<line x1="453.7" y1="138.4" x2="453.7" y2="141.4" stroke="#111" stroke-width="1"/>
<line x1="468.9" y1="138.4" x2="468.9" y2="141.4" stroke="#111" stroke-width="1"/>
<line x1="453.2" y1="143.70000000000002" x2="469.4" y2="143.70000000000002" stroke="#4a4a4a" stroke-width="1.6"/>
<line x1="489" y1="138.4" x2="489" y2="141.4" stroke="#111" stroke-width="1"/>
<line x1="504" y1="138.4" x2="504" y2="141.4" stroke="#111" stroke-width="1"/>
<line x1="488.5" y1="143.70000000000002" x2="504.5" y2="143.70000000000002" stroke="#4a4a4a" stroke-width="1.6"/>
<line x1="469" y1="56.400000000000006" x2="469" y2="64.4" stroke="#161c2c" stroke-width="1"/>
<line x1="466.8" y1="56.400000000000006" x2="471.2" y2="56.400000000000006" stroke="#161c2c" stroke-width="1"/>
<line x1="466.8" y1="64.4" x2="471.2" y2="64.4" stroke="#161c2c" stroke-width="1"/>
<circle cx="414.0" cy="120.3" r="2.85" fill="#a3173b" stroke="#3a0612" stroke-width="1.0"/>
<circle cx="417.5" cy="126.2" r="2.85" fill="#a3173b" stroke="#3a0612" stroke-width="1.0"/>
<circle cx="420.5" cy="121.7" r="2.85" fill="#a3173b" stroke="#3a0612" stroke-width="1.0"/>
<circle cx="423.4" cy="118.9" r="2.85" fill="#a3173b" stroke="#3a0612" stroke-width="1.0"/>
<circle cx="434.2" cy="111.0" r="2.85" fill="#354c76" stroke="#161c2c" stroke-width="1.0"/>
<circle cx="433.6" cy="118.3" r="2.85" fill="#354c76" stroke="#161c2c" stroke-width="1.0"/>
<circle cx="434.2" cy="121.3" r="2.85" fill="#354c76" stroke="#161c2c" stroke-width="1.0"/>
<circle cx="434.2" cy="125.6" r="2.85" fill="#354c76" stroke="#161c2c" stroke-width="1.0"/>
<circle cx="448.6" cy="56.8" r="2.85" fill="#a3173b" stroke="#3a0612" stroke-width="1.0"/>
<circle cx="452.4" cy="59.8" r="2.85" fill="#a3173b" stroke="#3a0612" stroke-width="1.0"/>
<circle cx="455.5" cy="59.2" r="2.85" fill="#a3173b" stroke="#3a0612" stroke-width="1.0"/>
<circle cx="458.4" cy="52.4" r="2.85" fill="#a3173b" stroke="#3a0612" stroke-width="1.0"/>
<circle cx="464.4" cy="53.4" r="2.85" fill="#354c76" stroke="#161c2c" stroke-width="1.0"/>
<circle cx="470.9" cy="55.8" r="2.85" fill="#354c76" stroke="#161c2c" stroke-width="1.0"/>
<circle cx="473.5" cy="61.0" r="2.85" fill="#354c76" stroke="#161c2c" stroke-width="1.0"/>
<circle cx="466.6" cy="69.6" r="2.85" fill="#354c76" stroke="#161c2c" stroke-width="1.0"/>
<circle cx="484.3" cy="135.4" r="2.85" fill="#a3173b" stroke="#3a0612" stroke-width="1.0"/>
<circle cx="489.0" cy="137.1" r="2.85" fill="#a3173b" stroke="#3a0612" stroke-width="1.0"/>
<circle cx="493.6" cy="135.7" r="2.85" fill="#a3173b" stroke="#3a0612" stroke-width="1.0"/>
<circle cx="499.3" cy="134.5" r="2.85" fill="#354c76" stroke="#161c2c" stroke-width="1.0"/>
<circle cx="504.4" cy="135.4" r="2.85" fill="#354c76" stroke="#161c2c" stroke-width="1.0"/>
<circle cx="508.7" cy="133.6" r="2.85" fill="#354c76" stroke="#161c2c" stroke-width="1.0"/>
<text x="431.2" y="150.4" font-size="8.8" text-anchor="end" fill="#111" stroke="#111" stroke-width="0.25" transform="rotate(-45 431.2 150.4)">live</text>
<text x="466.2" y="150.4" font-size="8.8" text-anchor="end" fill="#111" stroke="#111" stroke-width="0.25" transform="rotate(-45 466.2 150.4)">apoptotic</text>
<text x="500.2" y="150.4" font-size="8.8" text-anchor="end" fill="#111" stroke="#111" stroke-width="0.25" transform="rotate(-45 500.2 150.4)">dead/necrotic</text>
<line x1="254.3" y1="235.4" x2="254.3" y2="337.7" stroke="#0a0a0a" stroke-width="1.6"/>
<line x1="251.3" y1="237.7" x2="254.3" y2="237.7" stroke="#111" stroke-width="1.25"/>
<text x="247.10000000000002" y="240.6" font-size="8.2" text-anchor="end" fill="#111" stroke="#111" stroke-width="0.25">100</text>
<line x1="251.3" y1="257.7" x2="254.3" y2="257.7" stroke="#111" stroke-width="1.25"/>
<text x="247.10000000000002" y="260.59999999999997" font-size="8.2" text-anchor="end" fill="#111" stroke="#111" stroke-width="0.25">80</text>
<line x1="251.3" y1="277.7" x2="254.3" y2="277.7" stroke="#111" stroke-width="1.25"/>
<text x="247.10000000000002" y="280.59999999999997" font-size="8.2" text-anchor="end" fill="#111" stroke="#111" stroke-width="0.25">60</text>
<line x1="251.3" y1="297.7" x2="254.3" y2="297.7" stroke="#111" stroke-width="1.25"/>
<text x="247.10000000000002" y="300.59999999999997" font-size="8.2" text-anchor="end" fill="#111" stroke="#111" stroke-width="0.25">40</text>
<line x1="251.3" y1="317.7" x2="254.3" y2="317.7" stroke="#111" stroke-width="1.25"/>
<text x="247.10000000000002" y="320.59999999999997" font-size="8.2" text-anchor="end" fill="#111" stroke="#111" stroke-width="0.25">20</text>
<line x1="251.3" y1="337.7" x2="254.3" y2="337.7" stroke="#111" stroke-width="1.25"/>
<text x="247.10000000000002" y="340.59999999999997" font-size="8.2" text-anchor="end" fill="#111" stroke="#111" stroke-width="0.25">0</text>
<path d="M256.6 337.7 V276.7 H266.3 V337.7" fill="none" stroke="#9e2c4c" stroke-width="1.1" />
<path d="M271.8 337.7 V297.7 H281.6 V337.7" fill="none" stroke="#4b5d80" stroke-width="1.1" />
<path d="M291.8 337.7 V305.7 H301.6 V337.7" fill="none" stroke="#9e2c4c" stroke-width="1.1" />
<path d="M307.0 337.7 V295.7 H316.6 V337.7" fill="none" stroke="#4b5d80" stroke-width="1.1" />
<path d="M326.8 337.7 V332.2 H336.6 V337.7" fill="none" stroke="#9e2c4c" stroke-width="1.1" />
<path d="M342 337.7 V328.7 H351.6 V337.7" fill="none" stroke="#4b5d80" stroke-width="1.1" />
<line x1="251.2" y1="337.7" x2="355.5" y2="337.7" stroke="#0a0a0a" stroke-width="1.6"/>
<line x1="261.5" y1="337.7" x2="261.5" y2="340.7" stroke="#111" stroke-width="1"/>
<line x1="276.7" y1="337.7" x2="276.7" y2="340.7" stroke="#111" stroke-width="1"/>
<line x1="261.0" y1="343.0" x2="277.2" y2="343.0" stroke="#4a4a4a" stroke-width="1.6"/>
<line x1="296.7" y1="337.7" x2="296.7" y2="340.7" stroke="#111" stroke-width="1"/>
<line x1="311.8" y1="337.7" x2="311.8" y2="340.7" stroke="#111" stroke-width="1"/>
<line x1="296.2" y1="343.0" x2="312.3" y2="343.0" stroke="#4a4a4a" stroke-width="1.6"/>
<line x1="331.7" y1="337.7" x2="331.7" y2="340.7" stroke="#111" stroke-width="1"/>
<line x1="346.8" y1="337.7" x2="346.8" y2="340.7" stroke="#111" stroke-width="1"/>
<line x1="331.2" y1="343.0" x2="347.3" y2="343.0" stroke="#4a4a4a" stroke-width="1.6"/>
<line x1="263" y1="269.7" x2="263" y2="283.7" stroke="#3a0612" stroke-width="1"/>
<line x1="260.5" y1="269.7" x2="265.5" y2="269.7" stroke="#3a0612" stroke-width="1"/>
<line x1="260.5" y1="283.7" x2="265.5" y2="283.7" stroke="#3a0612" stroke-width="1"/>
<line x1="277" y1="292.7" x2="277" y2="302.7" stroke="#161c2c" stroke-width="1"/>
<line x1="274.5" y1="292.7" x2="279.5" y2="292.7" stroke="#161c2c" stroke-width="1"/>
<line x1="274.5" y1="302.7" x2="279.5" y2="302.7" stroke="#161c2c" stroke-width="1"/>
<line x1="297" y1="301.7" x2="297" y2="309.7" stroke="#3a0612" stroke-width="1"/>
<line x1="294.5" y1="301.7" x2="299.5" y2="301.7" stroke="#3a0612" stroke-width="1"/>
<line x1="294.5" y1="309.7" x2="299.5" y2="309.7" stroke="#3a0612" stroke-width="1"/>
<line x1="312" y1="291.7" x2="312" y2="299.7" stroke="#161c2c" stroke-width="1"/>
<line x1="309.5" y1="291.7" x2="314.5" y2="291.7" stroke="#161c2c" stroke-width="1"/>
<line x1="309.5" y1="299.7" x2="314.5" y2="299.7" stroke="#161c2c" stroke-width="1"/>
<line x1="347" y1="322.7" x2="347" y2="333.7" stroke="#161c2c" stroke-width="1"/>
<line x1="344.5" y1="322.7" x2="349.5" y2="322.7" stroke="#161c2c" stroke-width="1"/>
<line x1="344.5" y1="333.7" x2="349.5" y2="333.7" stroke="#161c2c" stroke-width="1"/>
<circle cx="257.3" cy="274.8" r="2.85" fill="#a3173b" stroke="#3a0612" stroke-width="1.0"/>
<circle cx="262.0" cy="263.0" r="2.85" fill="#a3173b" stroke="#3a0612" stroke-width="1.0"/>
<circle cx="262.4" cy="266.7" r="2.85" fill="#a3173b" stroke="#3a0612" stroke-width="1.0"/>
<circle cx="262.4" cy="269.5" r="2.85" fill="#a3173b" stroke="#3a0612" stroke-width="1.0"/>
<circle cx="262.0" cy="272.9" r="2.85" fill="#a3173b" stroke="#3a0612" stroke-width="1.0"/>
<circle cx="264.3" cy="282.7" r="2.85" fill="#a3173b" stroke="#3a0612" stroke-width="1.0"/>
<circle cx="259.2" cy="295.0" r="2.85" fill="#a3173b" stroke="#3a0612" stroke-width="1.0"/>
<circle cx="266.3" cy="292.1" r="2.85" fill="#a3173b" stroke="#3a0612" stroke-width="1.0"/>
<circle cx="274.2" cy="289.9" r="2.85" fill="#354c76" stroke="#161c2c" stroke-width="1.0"/>
<circle cx="281.2" cy="285.5" r="2.85" fill="#354c76" stroke="#161c2c" stroke-width="1.0"/>
<circle cx="276.1" cy="296.8" r="2.85" fill="#354c76" stroke="#161c2c" stroke-width="1.0"/>
<circle cx="278.0" cy="298.7" r="2.85" fill="#354c76" stroke="#161c2c" stroke-width="1.0"/>
<circle cx="274.2" cy="308.1" r="2.85" fill="#354c76" stroke="#161c2c" stroke-width="1.0"/>
<circle cx="281.2" cy="305.7" r="2.85" fill="#354c76" stroke="#161c2c" stroke-width="1.0"/>
<circle cx="293.0" cy="297.7" r="2.85" fill="#a3173b" stroke="#3a0612" stroke-width="1.0"/>
<circle cx="297.0" cy="295.5" r="2.85" fill="#a3173b" stroke="#3a0612" stroke-width="1.0"/>
<circle cx="295.6" cy="301.5" r="2.85" fill="#a3173b" stroke="#3a0612" stroke-width="1.0"/>
<circle cx="300.8" cy="302.4" r="2.85" fill="#a3173b" stroke="#3a0612" stroke-width="1.0"/>
<circle cx="297.3" cy="305.8" r="2.85" fill="#a3173b" stroke="#3a0612" stroke-width="1.0"/>
<circle cx="295.6" cy="310.2" r="2.85" fill="#a3173b" stroke="#3a0612" stroke-width="1.0"/>
<circle cx="297.0" cy="314.5" r="2.85" fill="#a3173b" stroke="#3a0612" stroke-width="1.0"/>
<circle cx="297.3" cy="317.1" r="2.85" fill="#a3173b" stroke="#3a0612" stroke-width="1.0"/>
<circle cx="307.7" cy="286.8" r="2.85" fill="#354c76" stroke="#161c2c" stroke-width="1.0"/>
<circle cx="312.0" cy="284.2" r="2.85" fill="#354c76" stroke="#161c2c" stroke-width="1.0"/>
<circle cx="306.8" cy="298.0" r="2.85" fill="#354c76" stroke="#161c2c" stroke-width="1.0"/>
<circle cx="313.7" cy="294.6" r="2.85" fill="#354c76" stroke="#161c2c" stroke-width="1.0"/>
<circle cx="317.2" cy="297.2" r="2.85" fill="#354c76" stroke="#161c2c" stroke-width="1.0"/>
<circle cx="310.8" cy="305.3" r="2.85" fill="#354c76" stroke="#161c2c" stroke-width="1.0"/>
<circle cx="326.7" cy="324.4" r="2.85" fill="#a3173b" stroke="#3a0612" stroke-width="1.0"/>
<circle cx="334.5" cy="324.4" r="2.85" fill="#a3173b" stroke="#3a0612" stroke-width="1.0"/>
<circle cx="330.2" cy="329.2" r="2.85" fill="#a3173b" stroke="#3a0612" stroke-width="1.0"/>
<circle cx="333.6" cy="328.3" r="2.85" fill="#a3173b" stroke="#3a0612" stroke-width="1.0"/>
<circle cx="326.7" cy="334.4" r="2.85" fill="#a3173b" stroke="#3a0612" stroke-width="1.0"/>
<circle cx="331.9" cy="335.3" r="2.85" fill="#a3173b" stroke="#3a0612" stroke-width="1.0"/>
<circle cx="336.0" cy="335.0" r="2.85" fill="#a3173b" stroke="#3a0612" stroke-width="1.0"/>
<circle cx="347.5" cy="315.4" r="2.85" fill="#354c76" stroke="#161c2c" stroke-width="1.0"/>
<circle cx="347.5" cy="318.8" r="2.85" fill="#354c76" stroke="#161c2c" stroke-width="1.0"/>
<circle cx="343.1" cy="331.0" r="2.85" fill="#354c76" stroke="#161c2c" stroke-width="1.0"/>
<circle cx="346.6" cy="331.3" r="2.85" fill="#354c76" stroke="#161c2c" stroke-width="1.0"/>
<circle cx="350.9" cy="331.0" r="2.85" fill="#354c76" stroke="#161c2c" stroke-width="1.0"/>
<circle cx="348.3" cy="332.7" r="2.85" fill="#354c76" stroke="#161c2c" stroke-width="1.0"/>
<path d="M261.6 258.1 V254.5 H276.7 V258.1" fill="none" stroke="#222" stroke-width="1.1" />
<text x="256.4" y="251.2" font-size="8.2" fill="#111" stroke="#111" stroke-width="0.25" textLength="34.2" lengthAdjust="spacingAndGlyphs"><tspan font-style="italic">P</tspan>=0.0037</text>
<path d="M296.4 279.5 V275.9 H312 V279.5" fill="none" stroke="#222" stroke-width="1.1" />
<text x="289.6" y="272.4" font-size="8.2" fill="#111" stroke="#111" stroke-width="0.25" textLength="29.8" lengthAdjust="spacingAndGlyphs"><tspan font-style="italic">P</tspan>=0.026</text>
<text x="271.9" y="349.6" font-size="8.8" text-anchor="end" fill="#111" stroke="#111" stroke-width="0.25" transform="rotate(-45 271.9 349.6)">live</text>
<text x="306.4" y="349.6" font-size="8.8" text-anchor="end" fill="#111" stroke="#111" stroke-width="0.25" transform="rotate(-45 306.4 349.6)">apoptotic</text>
<text x="342.2" y="349.6" font-size="8.8" text-anchor="end" fill="#111" stroke="#111" stroke-width="0.25" transform="rotate(-45 342.2 349.6)">dead/necrotic</text>
<line x1="411.2" y1="235.2" x2="411.2" y2="337.9" stroke="#0a0a0a" stroke-width="1.6"/>
<line x1="408.2" y1="237.89999999999998" x2="411.2" y2="237.89999999999998" stroke="#111" stroke-width="1.25"/>
<text x="404.0" y="240.79999999999998" font-size="8.2" text-anchor="end" fill="#111" stroke="#111" stroke-width="0.25">100</text>
<line x1="408.2" y1="257.9" x2="411.2" y2="257.9" stroke="#111" stroke-width="1.25"/>
<text x="404.0" y="260.79999999999995" font-size="8.2" text-anchor="end" fill="#111" stroke="#111" stroke-width="0.25">80</text>
<line x1="408.2" y1="277.9" x2="411.2" y2="277.9" stroke="#111" stroke-width="1.25"/>
<text x="404.0" y="280.79999999999995" font-size="8.2" text-anchor="end" fill="#111" stroke="#111" stroke-width="0.25">60</text>
<line x1="408.2" y1="297.9" x2="411.2" y2="297.9" stroke="#111" stroke-width="1.25"/>
<text x="404.0" y="300.79999999999995" font-size="8.2" text-anchor="end" fill="#111" stroke="#111" stroke-width="0.25">40</text>
<line x1="408.2" y1="317.9" x2="411.2" y2="317.9" stroke="#111" stroke-width="1.25"/>
<text x="404.0" y="320.79999999999995" font-size="8.2" text-anchor="end" fill="#111" stroke="#111" stroke-width="0.25">20</text>
<line x1="408.2" y1="337.9" x2="411.2" y2="337.9" stroke="#111" stroke-width="1.25"/>
<text x="404.0" y="340.79999999999995" font-size="8.2" text-anchor="end" fill="#111" stroke="#111" stroke-width="0.25">0</text>
<path d="M413.9 337.9 V306.9 H423.6 V337.9" fill="none" stroke="#9e2c4c" stroke-width="1.1" />
<path d="M428.7 337.9 V314.4 H438.4 V337.9" fill="none" stroke="#4b5d80" stroke-width="1.1" />
<path d="M449 337.9 V279.4 H458.3 V337.9" fill="none" stroke="#9e2c4c" stroke-width="1.1" />
<path d="M463.8 337.9 V271.9 H473.8 V337.9" fill="none" stroke="#4b5d80" stroke-width="1.1" />
<path d="M484.3 337.9 V329.9 H493.7 V337.9" fill="none" stroke="#9e2c4c" stroke-width="1.1" />
<path d="M499.3 337.9 V329.9 H508.7 V337.9" fill="none" stroke="#4b5d80" stroke-width="1.1" />
<line x1="408" y1="337.9" x2="512" y2="337.9" stroke="#0a0a0a" stroke-width="1.6"/>
<line x1="418.5" y1="337.9" x2="418.5" y2="340.9" stroke="#111" stroke-width="1"/>
<line x1="433.7" y1="337.9" x2="433.7" y2="340.9" stroke="#111" stroke-width="1"/>
<line x1="418.0" y1="343.2" x2="434.2" y2="343.2" stroke="#4a4a4a" stroke-width="1.6"/>
<line x1="453.7" y1="337.9" x2="453.7" y2="340.9" stroke="#111" stroke-width="1"/>
<line x1="468.9" y1="337.9" x2="468.9" y2="340.9" stroke="#111" stroke-width="1"/>
<line x1="453.2" y1="343.2" x2="469.4" y2="343.2" stroke="#4a4a4a" stroke-width="1.6"/>
<line x1="489" y1="337.9" x2="489" y2="340.9" stroke="#111" stroke-width="1"/>
<line x1="504" y1="337.9" x2="504" y2="340.9" stroke="#111" stroke-width="1"/>
<line x1="488.5" y1="343.2" x2="504.5" y2="343.2" stroke="#4a4a4a" stroke-width="1.6"/>
<line x1="468.5" y1="257.9" x2="468.5" y2="277.9" stroke="#161c2c" stroke-width="1"/>
<line x1="466.3" y1="257.9" x2="470.7" y2="257.9" stroke="#161c2c" stroke-width="1"/>
<line x1="466.3" y1="277.9" x2="470.7" y2="277.9" stroke="#161c2c" stroke-width="1"/>
<line x1="434" y1="305.9" x2="434" y2="322.9" stroke="#161c2c" stroke-width="1"/>
<line x1="431.8" y1="305.9" x2="436.2" y2="305.9" stroke="#161c2c" stroke-width="1"/>
<line x1="431.8" y1="322.9" x2="436.2" y2="322.9" stroke="#161c2c" stroke-width="1"/>
<circle cx="413.9" cy="306.3" r="2.85" fill="#a3173b" stroke="#3a0612" stroke-width="1.0"/>
<circle cx="417.7" cy="311.0" r="2.85" fill="#a3173b" stroke="#3a0612" stroke-width="1.0"/>
<circle cx="420.2" cy="310.2" r="2.85" fill="#a3173b" stroke="#3a0612" stroke-width="1.0"/>
<circle cx="423.0" cy="303.2" r="2.85" fill="#a3173b" stroke="#3a0612" stroke-width="1.0"/>
<circle cx="434.2" cy="308.0" r="2.85" fill="#354c76" stroke="#161c2c" stroke-width="1.0"/>
<circle cx="434.2" cy="311.0" r="2.85" fill="#354c76" stroke="#161c2c" stroke-width="1.0"/>
<circle cx="434.2" cy="325.0" r="2.85" fill="#354c76" stroke="#161c2c" stroke-width="1.0"/>
<circle cx="453.7" cy="273.1" r="2.85" fill="#a3173b" stroke="#3a0612" stroke-width="1.0"/>
<circle cx="453.7" cy="277.2" r="2.85" fill="#a3173b" stroke="#3a0612" stroke-width="1.0"/>
<circle cx="453.7" cy="281.4" r="2.85" fill="#a3173b" stroke="#3a0612" stroke-width="1.0"/>
<circle cx="453.7" cy="284.8" r="2.85" fill="#a3173b" stroke="#3a0612" stroke-width="1.0"/>
<circle cx="468.0" cy="257.7" r="2.85" fill="#354c76" stroke="#161c2c" stroke-width="1.0"/>
<circle cx="466.8" cy="272.1" r="2.85" fill="#354c76" stroke="#161c2c" stroke-width="1.0"/>
<circle cx="469.5" cy="272.0" r="2.85" fill="#354c76" stroke="#161c2c" stroke-width="1.0"/>
<circle cx="467.4" cy="277.8" r="2.85" fill="#354c76" stroke="#161c2c" stroke-width="1.0"/>
<circle cx="469.5" cy="278.8" r="2.85" fill="#354c76" stroke="#161c2c" stroke-width="1.0"/>
<circle cx="484.3" cy="327.9" r="2.85" fill="#a3173b" stroke="#3a0612" stroke-width="1.0"/>
<circle cx="487.5" cy="331.7" r="2.85" fill="#a3173b" stroke="#3a0612" stroke-width="1.0"/>
<circle cx="490.7" cy="328.6" r="2.85" fill="#a3173b" stroke="#3a0612" stroke-width="1.0"/>
<circle cx="493.4" cy="327.1" r="2.85" fill="#a3173b" stroke="#3a0612" stroke-width="1.0"/>
<circle cx="499.1" cy="329.2" r="2.85" fill="#354c76" stroke="#161c2c" stroke-width="1.0"/>
<circle cx="502.3" cy="332.2" r="2.85" fill="#354c76" stroke="#161c2c" stroke-width="1.0"/>
<circle cx="504.4" cy="329.6" r="2.85" fill="#354c76" stroke="#161c2c" stroke-width="1.0"/>
<circle cx="508.7" cy="325.8" r="2.85" fill="#354c76" stroke="#161c2c" stroke-width="1.0"/>
<text x="431.2" y="349.6" font-size="8.8" text-anchor="end" fill="#111" stroke="#111" stroke-width="0.25" transform="rotate(-45 431.2 349.6)">live</text>
<text x="466.2" y="349.6" font-size="8.8" text-anchor="end" fill="#111" stroke="#111" stroke-width="0.25" transform="rotate(-45 466.2 349.6)">apoptotic</text>
<text x="500.2" y="349.6" font-size="8.8" text-anchor="end" fill="#111" stroke="#111" stroke-width="0.25" transform="rotate(-45 500.2 349.6)">dead/necrotic</text>
<text x="215.5" y="86.8" font-size="9.8" text-anchor="middle" fill="#111" stroke="#111" stroke-width="0.25" transform="rotate(-90 215.5 86.8)" textLength="83.6" lengthAdjust="spacingAndGlyphs">Day 7 - % donor NK</text>
<text x="227.8" y="86.8" font-size="9.8" text-anchor="middle" fill="#111" stroke="#111" stroke-width="0.25" transform="rotate(-90 227.8 86.8)" textLength="99" lengthAdjust="spacingAndGlyphs">cells live/apoptotic/dead</text>
<text x="372.8" y="86.5" font-size="9.8" text-anchor="middle" fill="#111" stroke="#111" stroke-width="0.25" transform="rotate(-90 372.8 86.5)" textLength="88.4" lengthAdjust="spacingAndGlyphs">Day 14 - % donor NK</text>
<text x="385.0" y="86.5" font-size="9.8" text-anchor="middle" fill="#111" stroke="#111" stroke-width="0.25" transform="rotate(-90 385.0 86.5)" textLength="99.2" lengthAdjust="spacingAndGlyphs">cells live/apoptotic/dead</text>
<text x="215.5" y="285.8" font-size="9.8" text-anchor="middle" fill="#111" stroke="#111" stroke-width="0.25" transform="rotate(-90 215.5 285.8)" textLength="83.6" lengthAdjust="spacingAndGlyphs">Day 7 - % donor NK</text>
<text x="227.8" y="285.8" font-size="9.8" text-anchor="middle" fill="#111" stroke="#111" stroke-width="0.25" transform="rotate(-90 227.8 285.8)" textLength="99" lengthAdjust="spacingAndGlyphs">cells live/apoptotic/dead</text>
<text x="372.8" y="285.8" font-size="9.8" text-anchor="middle" fill="#111" stroke="#111" stroke-width="0.25" transform="rotate(-90 372.8 285.8)" textLength="88.4" lengthAdjust="spacingAndGlyphs">Day 14 - % donor NK</text>
<text x="385.0" y="285.8" font-size="9.8" text-anchor="middle" fill="#111" stroke="#111" stroke-width="0.25" transform="rotate(-90 385.0 285.8)" textLength="99.2" lengthAdjust="spacingAndGlyphs">cells live/apoptotic/dead</text>
<text x="84.2" y="423.8" font-size="10" text-anchor="start" fill="#111" stroke="#111" stroke-width="0.25">BM</text>
<text x="147.2" y="423.6" font-size="10" text-anchor="start" fill="#111" stroke="#111" stroke-width="0.25">spleen</text>
<text x="47.4" y="470.9" font-size="10" text-anchor="end" fill="#111" stroke="#111" stroke-width="0.25">D7</text>
<text x="47.2" y="544.8" font-size="10" text-anchor="end" fill="#111" stroke="#111" stroke-width="0.25">D14</text>
<text x="61.0" y="590.8" font-size="10" text-anchor="start" fill="#111" stroke="#111" stroke-width="0.25" textLength="21.0" lengthAdjust="spacingAndGlyphs">Ki-67</text>
<line x1="86.3" y1="587.8" x2="190" y2="587.8" stroke="#0a0a0a" stroke-width="1.9"/>
<path d="M197.4 587.8 L186.2 583.0 L189.2 587.8 L186.2 592.6 Z" fill="#0a0a0a" stroke="none" stroke-width="1" />
<path d="M54.0 501.2 L54.0 501.2 L54.7 495.9 L55.4 491.8 L56.1 484.5 L56.8 477.8 L57.5 471.5 L58.2 464.8 L58.9 458.2 L59.6 451.9 L60.3 445.2 L61.0 442.2 L61.7 441.7 L62.4 443.2 L63.1 445.7 L63.8 447.7 L64.5 449.9 L65.2 452.0 L65.9 453.1 L66.6 451.5 L67.3 449.2 L68.0 446.6 L68.7 442.5 L69.4 437.6 L70.1 436.1 L70.8 432.5 L71.5 433.5 L72.2 436.9 L72.9 438.6 L73.6 441.5 L74.3 444.4 L75.0 445.8 L75.7 450.8 L76.4 455.4 L77.1 460.0 L77.8 468.8 L78.5 473.5 L79.2 477.5 L79.9 479.9 L80.6 484.7 L81.3 486.6 L82.0 487.1 L82.7 489.8 L83.4 493.2 L84.1 494.9 L84.8 498.7 L85.5 501.2 Z" fill="#cbcbcb" stroke="none" stroke-width="1" />
<path d="M60 501 L70 500.8 L74 500 L77 498.5 L80 497 L82 492 L84 489 L86 486 L88 481 L90 476 L91.8 466 L93.4 450 L94.8 434.2 L96 440 L97.2 438.8 L98.5 436 L99.5 443 L101 456 L102.6 471.2 L104.2 486.5 L105.7 498.8 L107.2 500.8 L110 501" fill="none" stroke="#33497a" stroke-width="1.5" stroke-linejoin="round"/>
<path d="M52.6 500.4 L60 500.5 L65 499.8 L68 500.5 L71 495.8 L73.4 492.7 L76.5 489.6 L78.8 488 L81.8 488.8 L84.9 486.5 L87.2 480.4 L88.8 475.8 L90.3 480.4 L91.8 465 L93.4 455.8 L94.9 440.4 L96 435.8 L97.2 438.8 L98 435 L99.5 441.9 L101 455.8 L102.6 471.2 L104.2 486.5 L105.7 498.8 L107.2 500.8 L123.5 500.8" fill="none" stroke="#961538" stroke-width="1.7" stroke-linejoin="round"/>
<path d="M89.5 494.3 V499.3 M89.5 496.8 H118 M118 494.3 V499.3" fill="none" stroke="#333" stroke-width="1" />
<rect x="52.4" y="430" width="71.69999999999999" height="71.5" fill="none" stroke="#333" stroke-width="1.15"/>
<path d="M129.8 501.2 L129.8 501.2 L130.5 495.6 L131.2 490.4 L131.9 481.4 L132.6 474.7 L133.3 467.9 L134.0 461.1 L134.7 452.8 L135.4 447.3 L136.1 441.8 L136.8 440.4 L137.5 442.9 L138.2 444.5 L138.9 445.8 L139.6 448.2 L140.3 450.7 L141.0 449.1 L141.7 445.7 L142.4 442.9 L143.1 439.7 L143.8 437.7 L144.5 436.4 L145.2 435.7 L145.9 435.1 L146.6 435.0 L147.3 436.3 L148.0 437.1 L148.7 440.4 L149.4 443.9 L150.1 448.4 L150.8 453.4 L151.5 459.2 L152.2 463.3 L152.9 469.0 L153.6 473.9 L154.3 478.1 L155.0 482.4 L155.7 484.4 L156.4 486.8 L157.1 490.4 L157.8 492.7 L158.5 492.9 L159.2 496.2 L159.9 497.8 L160.6 500.4 L160.8 501.2 Z" fill="#cbcbcb" stroke="none" stroke-width="1" />
<path d="M135 501 L140 499 L144 496 L148 493 L151 485 L153.8 469 L156.2 483 L158.5 480 L160.8 478.3 L162.5 484 L164.7 487.6 L166.5 480 L167.8 475.2 L169.4 488.4 L171.7 469 L173.5 455 L174.8 437 L175.6 434.8 L177.1 453.5 L179.5 468 L181.8 487.6 L184.1 499.3 L186 501" fill="none" stroke="#33497a" stroke-width="1.5" stroke-linejoin="round"/>
<path d="M128.2 500.5 L135 500.8 L139 498 L142.2 494.6 L145.3 493.8 L149.2 490.7 L152.3 478.3 L154.6 483 L157 479.9 L160 475.2 L162.7 482.2 L166.3 470.6 L167.8 475.2 L170.1 462.8 L172.5 464.3 L174.8 434.8 L175.6 434 L177.1 453.5 L179.5 470.6 L181.8 487.6 L184.1 499.3 L186 500.8 L198.6 500.8" fill="none" stroke="#961538" stroke-width="1.7" stroke-linejoin="round"/>
<path d="M164.2 495.2 V500.2 M164.2 497.7 H193.4 M193.4 495.2 V500.2" fill="none" stroke="#333" stroke-width="1" />
<rect x="127.8" y="430" width="71.3" height="71.5" fill="none" stroke="#333" stroke-width="1.15"/>
<path d="M53.0 576.0 L53.0 505.1 L53.7 504.6 L54.4 510.6 L55.1 511.2 L55.8 513.8 L56.5 516.7 L57.2 511.5 L57.9 515.2 L58.6 514.9 L59.3 510.5 L60.0 520.0 L60.7 521.6 L61.4 522.3 L62.1 520.9 L62.8 520.0 L63.5 523.2 L64.2 523.9 L64.9 524.1 L65.6 522.0 L66.3 524.6 L67.0 526.9 L67.7 525.4 L68.4 529.3 L69.1 530.1 L69.8 531.6 L70.5 531.5 L71.2 528.9 L71.9 533.9 L72.6 535.7 L73.3 535.8 L74.0 538.0 L74.7 542.0 L75.4 543.0 L76.1 546.2 L76.8 549.9 L77.5 551.0 L78.2 548.1 L78.9 554.9 L79.6 557.2 L80.3 557.5 L81.0 562.9 L81.7 563.8 L82.4 566.4 L83.1 566.2 L83.8 570.1 L84.5 571.3 L85.2 568.9 L85.9 571.5 L86.6 573.9 L87.3 572.3 L88.0 575.2 L88.7 574.0 L89.4 575.2 L90.1 575.6 L90.5 576.0 Z" fill="#cbcbcb" stroke="none" stroke-width="1" />
<path d="M90 575.6 L94 574.5 L96.5 567.7 L98.8 554.6 L101 562.3 L104.6 544.6 L107.2 558.5 L109.5 540 L112.6 510 L115.7 550.8 L118 573.8 L120 575.6" fill="none" stroke="#33497a" stroke-width="1.5" stroke-linejoin="round"/>
<path d="M53 575.6 L80 575.6 L86.5 575.2 L89.5 573.8 L92 573 L94.2 572.3 L97 572.5 L100 572 L103.4 572.3 L106.2 567.7 L108 546 L111 524.6 L112.6 510 L114.9 538.5 L117.2 569.2 L119.5 575.4 L123.4 575.6" fill="none" stroke="#961538" stroke-width="1.7" stroke-linejoin="round"/>
<path d="M96.5 567.2 V572.2 M96.5 569.7 H122.6 M122.6 567.2 V572.2" fill="none" stroke="#333" stroke-width="1" />
<rect x="52.6" y="505.6" width="71.19999999999999" height="70.69999999999993" fill="none" stroke="#333" stroke-width="1.15"/>
<path d="M128.2 576.0 L128.2 508.6 L128.9 511.0 L129.6 508.4 L130.3 512.8 L131.0 513.1 L131.7 519.0 L132.4 516.5 L133.1 517.2 L133.8 515.9 L134.5 521.6 L135.2 523.1 L135.9 521.1 L136.6 524.1 L137.3 523.2 L138.0 521.7 L138.7 521.8 L139.4 522.9 L140.1 524.0 L140.8 526.0 L141.5 526.0 L142.2 528.3 L142.9 530.6 L143.6 533.4 L144.3 535.0 L145.0 532.5 L145.7 533.4 L146.4 539.7 L147.1 539.3 L147.8 541.9 L148.5 540.8 L149.2 547.4 L149.9 550.3 L150.6 549.9 L151.3 554.0 L152.0 558.3 L152.7 558.3 L153.4 560.6 L154.1 562.3 L154.8 564.5 L155.5 567.7 L156.2 567.6 L156.9 568.6 L157.6 570.1 L158.3 571.2 L159.0 571.6 L159.7 572.9 L160.4 574.6 L161.1 575.5 L161.8 571.4 L162.5 575.6 L163.2 576.0 L163.9 576.0 L164.0 576.0 Z" fill="#cbcbcb" stroke="none" stroke-width="1" />
<path d="M160 575.6 L168.2 575.4 L172.8 573.8 L175 564.6 L178.2 556.2 L180.5 564.6 L182.8 543 L184.8 509.2 L186.6 538.5 L188.9 567.7 L191.2 575.4 L194 575.6" fill="none" stroke="#33497a" stroke-width="1.5" stroke-linejoin="round"/>
<path d="M128.2 575.6 L155 575.6 L158.9 575.4 L161 572 L163.5 567.7 L165.8 555.4 L168.2 561.5 L171.2 558.5 L173 562 L175 563 L177.4 551.5 L180.2 552.3 L182.8 546 L185.8 537 L188.2 510 L190.5 546 L192.8 569.2 L195.8 575.4 L198 575.6" fill="none" stroke="#961538" stroke-width="1.7" stroke-linejoin="round"/>
<path d="M171.2 567.2 V572.2 M171.2 569.7 H197.4 M197.4 567.2 V572.2" fill="none" stroke="#333" stroke-width="1" />
<rect x="127.8" y="505.6" width="70.60000000000001" height="70.69999999999993" fill="none" stroke="#333" stroke-width="1.15"/>
<rect x="207.1" y="416.7" width="16.9" height="11.2" fill="#cbcbcb" stroke="none" stroke-width="1"/>
<text x="226.9" y="424.9" font-size="9" text-anchor="start" fill="#111" stroke="#111" stroke-width="0.25" textLength="46.8" lengthAdjust="spacingAndGlyphs">Ki-67 isotype</text>
<line x1="207.1" y1="435" x2="221.5" y2="435" stroke="#8a1a3a" stroke-width="1.3"/>
<line x1="207.1" y1="447.9" x2="221.5" y2="447.9" stroke="#34406a" stroke-width="1.3"/>
<text x="225.1" y="438.5" font-size="8.7" text-anchor="start" fill="#111" stroke="#111" stroke-width="0.25" textLength="83.4" lengthAdjust="spacingAndGlyphs">B6.CD45.1 BM + T cell</text>
<line x1="310.8" y1="435.6" x2="318.2" y2="435.6" stroke="#111" stroke-width="0.9"/>
<path d="M319.6 435.6 l-2.6 -1.6 v3.2z" fill="#111" stroke="none" stroke-width="1" />
<text x="321" y="438.5" font-size="8.7" text-anchor="start" fill="#111" stroke="#111" stroke-width="0.25" textLength="10.4" lengthAdjust="spacingAndGlyphs">B6</text>
<text x="225.1" y="450.9" font-size="8.7" text-anchor="start" fill="#111" stroke="#111" stroke-width="0.25" textLength="83.4" lengthAdjust="spacingAndGlyphs">B6.CD45.1 BM + T cell</text>
<line x1="310.8" y1="448.0" x2="318.2" y2="448.0" stroke="#111" stroke-width="0.9"/>
<path d="M319.6 448.0 l-2.6 -1.6 v3.2z" fill="#111" stroke="none" stroke-width="1" />
<text x="321" y="450.9" font-size="8.7" text-anchor="start" fill="#111" stroke="#111" stroke-width="0.25" textLength="29.6" lengthAdjust="spacingAndGlyphs">B6D2F1</text>
<line x1="245.8" y1="480.6" x2="245.8" y2="584.3" stroke="#0a0a0a" stroke-width="1.6"/>
<line x1="242.8" y1="483.49999999999994" x2="245.8" y2="483.49999999999994" stroke="#111" stroke-width="1.25"/>
<text x="238.60000000000002" y="486.3999999999999" font-size="8.2" text-anchor="end" fill="#111" stroke="#111" stroke-width="0.25">100</text>
<line x1="242.8" y1="503.65999999999997" x2="245.8" y2="503.65999999999997" stroke="#111" stroke-width="1.25"/>
<text x="238.60000000000002" y="506.55999999999995" font-size="8.2" text-anchor="end" fill="#111" stroke="#111" stroke-width="0.25">80</text>
<line x1="242.8" y1="523.8199999999999" x2="245.8" y2="523.8199999999999" stroke="#111" stroke-width="1.25"/>
<text x="238.60000000000002" y="526.7199999999999" font-size="8.2" text-anchor="end" fill="#111" stroke="#111" stroke-width="0.25">60</text>
<line x1="242.8" y1="543.9799999999999" x2="245.8" y2="543.9799999999999" stroke="#111" stroke-width="1.25"/>
<text x="238.60000000000002" y="546.8799999999999" font-size="8.2" text-anchor="end" fill="#111" stroke="#111" stroke-width="0.25">40</text>
<line x1="242.8" y1="564.14" x2="245.8" y2="564.14" stroke="#111" stroke-width="1.25"/>
<text x="238.60000000000002" y="567.04" font-size="8.2" text-anchor="end" fill="#111" stroke="#111" stroke-width="0.25">20</text>
<line x1="242.8" y1="584.3" x2="245.8" y2="584.3" stroke="#111" stroke-width="1.25"/>
<text x="238.60000000000002" y="587.1999999999999" font-size="8.2" text-anchor="end" fill="#111" stroke="#111" stroke-width="0.25">0</text>
<path d="M247.7 584.3 V501.64399999999995 H257.2 V584.3" fill="none" stroke="#9e2c4c" stroke-width="1.1" />
<path d="M263.3 584.3 V495.59599999999995 H272.8 V584.3" fill="none" stroke="#4b5d80" stroke-width="1.1" />
<path d="M283.7 584.3 V496.6039999999999 H293.5 V584.3" fill="none" stroke="#9e2c4c" stroke-width="1.1" />
<path d="M299.6 584.3 V492.57199999999995 H309.1 V584.3" fill="none" stroke="#4b5d80" stroke-width="1.1" />
<line x1="243" y1="584.3" x2="311.5" y2="584.3" stroke="#0a0a0a" stroke-width="1.6"/>
<line x1="252.5" y1="584.3" x2="252.5" y2="587.3" stroke="#111" stroke-width="1"/>
<line x1="268" y1="584.3" x2="268" y2="587.3" stroke="#111" stroke-width="1"/>
<line x1="252.0" y1="589.5999999999999" x2="268.5" y2="589.5999999999999" stroke="#4a4a4a" stroke-width="1.6"/>
<line x1="288.6" y1="584.3" x2="288.6" y2="587.3" stroke="#111" stroke-width="1"/>
<line x1="304.4" y1="584.3" x2="304.4" y2="587.3" stroke="#111" stroke-width="1"/>
<line x1="288.1" y1="589.5999999999999" x2="304.9" y2="589.5999999999999" stroke="#4a4a4a" stroke-width="1.6"/>
<line x1="252.5" y1="495.59599999999995" x2="252.5" y2="507.69199999999995" stroke="#3a0612" stroke-width="1"/>
<line x1="250.3" y1="495.59599999999995" x2="254.7" y2="495.59599999999995" stroke="#3a0612" stroke-width="1"/>
<line x1="250.3" y1="507.69199999999995" x2="254.7" y2="507.69199999999995" stroke="#3a0612" stroke-width="1"/>
<line x1="268" y1="490.5559999999999" x2="268" y2="499.62799999999993" stroke="#161c2c" stroke-width="1"/>
<line x1="265.8" y1="490.5559999999999" x2="270.2" y2="490.5559999999999" stroke="#161c2c" stroke-width="1"/>
<line x1="265.8" y1="499.62799999999993" x2="270.2" y2="499.62799999999993" stroke="#161c2c" stroke-width="1"/>
<line x1="288.6" y1="492.57199999999995" x2="288.6" y2="499.62799999999993" stroke="#3a0612" stroke-width="1"/>
<line x1="286.40000000000003" y1="492.57199999999995" x2="290.8" y2="492.57199999999995" stroke="#3a0612" stroke-width="1"/>
<line x1="286.40000000000003" y1="499.62799999999993" x2="290.8" y2="499.62799999999993" stroke="#3a0612" stroke-width="1"/>
<line x1="304.4" y1="488.53999999999996" x2="304.4" y2="496.6039999999999" stroke="#161c2c" stroke-width="1"/>
<line x1="302.2" y1="488.53999999999996" x2="306.59999999999997" y2="488.53999999999996" stroke="#161c2c" stroke-width="1"/>
<line x1="302.2" y1="496.6039999999999" x2="306.59999999999997" y2="496.6039999999999" stroke="#161c2c" stroke-width="1"/>
<circle cx="253.2" cy="492.5" r="2.85" fill="#a3173b" stroke="#3a0612" stroke-width="1.0"/>
<circle cx="252.0" cy="495.1" r="2.85" fill="#a3173b" stroke="#3a0612" stroke-width="1.0"/>
<circle cx="252.0" cy="501.1" r="2.85" fill="#a3173b" stroke="#3a0612" stroke-width="1.0"/>
<circle cx="253.7" cy="505.5" r="2.85" fill="#a3173b" stroke="#3a0612" stroke-width="1.0"/>
<circle cx="252.5" cy="509.4" r="2.85" fill="#a3173b" stroke="#3a0612" stroke-width="1.0"/>
<circle cx="268.4" cy="489.0" r="2.85" fill="#354c76" stroke="#161c2c" stroke-width="1.0"/>
<circle cx="268.4" cy="491.6" r="2.85" fill="#354c76" stroke="#161c2c" stroke-width="1.0"/>
<circle cx="266.7" cy="496.0" r="2.85" fill="#354c76" stroke="#161c2c" stroke-width="1.0"/>
<circle cx="270.2" cy="497.7" r="2.85" fill="#354c76" stroke="#161c2c" stroke-width="1.0"/>
<circle cx="268.4" cy="502.9" r="2.85" fill="#354c76" stroke="#161c2c" stroke-width="1.0"/>
<circle cx="284.4" cy="493.0" r="2.85" fill="#a3173b" stroke="#3a0612" stroke-width="1.0"/>
<circle cx="287.8" cy="498.5" r="2.85" fill="#a3173b" stroke="#3a0612" stroke-width="1.0"/>
<circle cx="290.1" cy="498.0" r="2.85" fill="#a3173b" stroke="#3a0612" stroke-width="1.0"/>
<circle cx="293.5" cy="491.1" r="2.85" fill="#a3173b" stroke="#3a0612" stroke-width="1.0"/>
<circle cx="300.0" cy="487.3" r="2.85" fill="#354c76" stroke="#161c2c" stroke-width="1.0"/>
<circle cx="302.2" cy="498.5" r="2.85" fill="#354c76" stroke="#161c2c" stroke-width="1.0"/>
<circle cx="306.5" cy="488.2" r="2.85" fill="#354c76" stroke="#161c2c" stroke-width="1.0"/>
<circle cx="309.5" cy="491.5" r="2.85" fill="#354c76" stroke="#161c2c" stroke-width="1.0"/>
<text x="260.2" y="600.9" font-size="8.8" text-anchor="middle" fill="#111" stroke="#111" stroke-width="0.25">day 7</text>
<text x="296.6" y="600.9" font-size="8.8" text-anchor="middle" fill="#111" stroke="#111" stroke-width="0.25">day 14</text>
<text x="217.2" y="533.0" font-size="10" text-anchor="middle" fill="#111" stroke="#111" stroke-width="0.25" transform="rotate(-90 217.2 533.0)" textLength="120.5" lengthAdjust="spacingAndGlyphs">BM - % donor NK cells Ki-67<tspan font-size="6" dy="-4">+</tspan></text>
<line x1="373.2" y1="479.5" x2="373.2" y2="584.2" stroke="#0a0a0a" stroke-width="1.6"/>
<line x1="370.2" y1="482.70000000000005" x2="373.2" y2="482.70000000000005" stroke="#111" stroke-width="1.25"/>
<text x="366.0" y="485.6" font-size="8.2" text-anchor="end" fill="#111" stroke="#111" stroke-width="0.25">100</text>
<line x1="370.2" y1="503.00000000000006" x2="373.2" y2="503.00000000000006" stroke="#111" stroke-width="1.25"/>
<text x="366.0" y="505.90000000000003" font-size="8.2" text-anchor="end" fill="#111" stroke="#111" stroke-width="0.25">80</text>
<line x1="370.2" y1="523.3000000000001" x2="373.2" y2="523.3000000000001" stroke="#111" stroke-width="1.25"/>
<text x="366.0" y="526.2" font-size="8.2" text-anchor="end" fill="#111" stroke="#111" stroke-width="0.25">60</text>
<line x1="370.2" y1="543.6" x2="373.2" y2="543.6" stroke="#111" stroke-width="1.25"/>
<text x="366.0" y="546.5" font-size="8.2" text-anchor="end" fill="#111" stroke="#111" stroke-width="0.25">40</text>
<line x1="370.2" y1="563.9000000000001" x2="373.2" y2="563.9000000000001" stroke="#111" stroke-width="1.25"/>
<text x="366.0" y="566.8000000000001" font-size="8.2" text-anchor="end" fill="#111" stroke="#111" stroke-width="0.25">20</text>
<line x1="370.2" y1="584.2" x2="373.2" y2="584.2" stroke="#111" stroke-width="1.25"/>
<text x="366.0" y="587.1" font-size="8.2" text-anchor="end" fill="#111" stroke="#111" stroke-width="0.25">0</text>
<path d="M375.5 584.2 V518.225 H385.2 V584.2" fill="none" stroke="#9e2c4c" stroke-width="1.1" />
<path d="M391.2 584.2 V531.4200000000001 H400.6 V584.2" fill="none" stroke="#4b5d80" stroke-width="1.1" />
<path d="M412.2 584.2 V505.0300000000001 H422.1 V584.2" fill="none" stroke="#9e2c4c" stroke-width="1.1" />
<path d="M427.5 584.2 V487.77500000000003 H437 V584.2" fill="none" stroke="#4b5d80" stroke-width="1.1" />
<line x1="370.5" y1="584.2" x2="440.5" y2="584.2" stroke="#0a0a0a" stroke-width="1.6"/>
<line x1="380.4" y1="584.2" x2="380.4" y2="587.2" stroke="#111" stroke-width="1"/>
<line x1="396.3" y1="584.2" x2="396.3" y2="587.2" stroke="#111" stroke-width="1"/>
<line x1="379.9" y1="589.5" x2="396.8" y2="589.5" stroke="#4a4a4a" stroke-width="1.6"/>
<line x1="416.8" y1="584.2" x2="416.8" y2="587.2" stroke="#111" stroke-width="1"/>
<line x1="432.6" y1="584.2" x2="432.6" y2="587.2" stroke="#111" stroke-width="1"/>
<line x1="416.3" y1="589.5" x2="433.1" y2="589.5" stroke="#4a4a4a" stroke-width="1.6"/>
<line x1="380.4" y1="511.12000000000006" x2="380.4" y2="525.33" stroke="#3a0612" stroke-width="1"/>
<line x1="378.2" y1="511.12000000000006" x2="382.59999999999997" y2="511.12000000000006" stroke="#3a0612" stroke-width="1"/>
<line x1="378.2" y1="525.33" x2="382.59999999999997" y2="525.33" stroke="#3a0612" stroke-width="1"/>
<line x1="396" y1="527.36" x2="396" y2="537.51" stroke="#161c2c" stroke-width="1"/>
<line x1="393.8" y1="527.36" x2="398.2" y2="527.36" stroke="#161c2c" stroke-width="1"/>
<line x1="393.8" y1="537.51" x2="398.2" y2="537.51" stroke="#161c2c" stroke-width="1"/>
<line x1="417.2" y1="498.94000000000005" x2="417.2" y2="509.09000000000003" stroke="#3a0612" stroke-width="1"/>
<line x1="415.0" y1="498.94000000000005" x2="419.4" y2="498.94000000000005" stroke="#3a0612" stroke-width="1"/>
<line x1="415.0" y1="509.09000000000003" x2="419.4" y2="509.09000000000003" stroke="#3a0612" stroke-width="1"/>
<line x1="432.3" y1="485.74500000000006" x2="432.3" y2="489.80500000000006" stroke="#161c2c" stroke-width="1"/>
<line x1="430.1" y1="485.74500000000006" x2="434.5" y2="485.74500000000006" stroke="#161c2c" stroke-width="1"/>
<line x1="430.1" y1="489.80500000000006" x2="434.5" y2="489.80500000000006" stroke="#161c2c" stroke-width="1"/>
<circle cx="377.7" cy="507.5" r="2.85" fill="#a3173b" stroke="#3a0612" stroke-width="1.0"/>
<circle cx="385.2" cy="507.0" r="2.85" fill="#a3173b" stroke="#3a0612" stroke-width="1.0"/>
<circle cx="379.8" cy="517.5" r="2.85" fill="#a3173b" stroke="#3a0612" stroke-width="1.0"/>
<circle cx="381.7" cy="519.6" r="2.85" fill="#a3173b" stroke="#3a0612" stroke-width="1.0"/>
<circle cx="380.4" cy="526.4" r="2.85" fill="#a3173b" stroke="#3a0612" stroke-width="1.0"/>
<circle cx="381.0" cy="528.2" r="2.85" fill="#a3173b" stroke="#3a0612" stroke-width="1.0"/>
<circle cx="391.2" cy="526.4" r="2.85" fill="#354c76" stroke="#161c2c" stroke-width="1.0"/>
<circle cx="396.0" cy="522.9" r="2.85" fill="#354c76" stroke="#161c2c" stroke-width="1.0"/>
<circle cx="400.6" cy="526.4" r="2.85" fill="#354c76" stroke="#161c2c" stroke-width="1.0"/>
<circle cx="395.2" cy="531.2" r="2.85" fill="#354c76" stroke="#161c2c" stroke-width="1.0"/>
<circle cx="397.1" cy="534.4" r="2.85" fill="#354c76" stroke="#161c2c" stroke-width="1.0"/>
<circle cx="396.0" cy="546.5" r="2.85" fill="#354c76" stroke="#161c2c" stroke-width="1.0"/>
<circle cx="417.2" cy="496.2" r="2.85" fill="#a3173b" stroke="#3a0612" stroke-width="1.0"/>
<circle cx="415.8" cy="506.9" r="2.85" fill="#a3173b" stroke="#3a0612" stroke-width="1.0"/>
<circle cx="418.3" cy="508.6" r="2.85" fill="#a3173b" stroke="#3a0612" stroke-width="1.0"/>
<circle cx="428.0" cy="485.8" r="2.85" fill="#354c76" stroke="#161c2c" stroke-width="1.0"/>
<circle cx="433.0" cy="484.0" r="2.85" fill="#354c76" stroke="#161c2c" stroke-width="1.0"/>
<circle cx="437.0" cy="483.2" r="2.85" fill="#354c76" stroke="#161c2c" stroke-width="1.0"/>
<circle cx="434.5" cy="488.8" r="2.85" fill="#354c76" stroke="#161c2c" stroke-width="1.0"/>
<path d="M380.4 500.3 V496.7 H396 V500.3" fill="none" stroke="#222" stroke-width="1.1" />
<text x="375.3" y="493.3" font-size="8.2" fill="#111" stroke="#111" stroke-width="0.25" textLength="28.9" lengthAdjust="spacingAndGlyphs"><tspan font-style="italic">P</tspan>=0.026</text>
<path d="M417.3 478.90000000000003 V475.3 H432.5 V478.90000000000003" fill="none" stroke="#222" stroke-width="1.1" />
<text x="410.3" y="471.3" font-size="8.2" fill="#111" stroke="#111" stroke-width="0.25" textLength="29.7" lengthAdjust="spacingAndGlyphs"><tspan font-style="italic">P</tspan>=0.029</text>
<text x="387.8" y="600.9" font-size="8.8" text-anchor="middle" fill="#111" stroke="#111" stroke-width="0.25">day 7</text>
<text x="424.2" y="600.9" font-size="8.8" text-anchor="middle" fill="#111" stroke="#111" stroke-width="0.25">day 14</text>
<text x="345.6" y="533.0" font-size="10" text-anchor="middle" fill="#111" stroke="#111" stroke-width="0.25" transform="rotate(-90 345.6 533.0)" textLength="136" lengthAdjust="spacingAndGlyphs">Spleen - % donor NK cells Ki-67<tspan font-size="6" dy="-4">+</tspan></text>
</svg></body></html>
